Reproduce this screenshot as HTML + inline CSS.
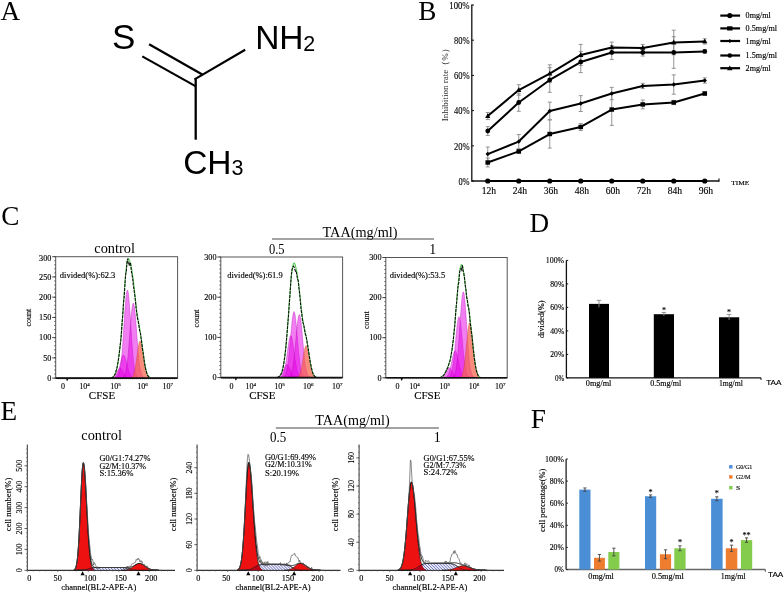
<!DOCTYPE html>
<html><head><meta charset="utf-8"><style>
html,body{margin:0;padding:0;background:#fff;overflow:hidden;width:784px;height:598px;}
svg{display:block;will-change:transform;} text{fill:#000;stroke:#000;stroke-width:0.14px;} text.big{stroke:none;} text.lt{stroke:none;fill:#2a2a2a}
</style></head><body>
<svg width="784" height="598" viewBox="0 0 784 598">
<rect width="784" height="598" fill="#fff"/>
<text class="big" x="0.60" y="20.00" font-size="27.2" text-anchor="start" font-family="Liberation Serif, serif" >A</text>
<text class="big" x="112.00" y="48.80" font-size="35" text-anchor="start" font-family="Liberation Sans, sans-serif" >S</text>
<text class="big" x="255.20" y="49.00" font-size="33.5" text-anchor="start" font-family="Liberation Sans, sans-serif" >N</text>
<text class="big" x="279.30" y="49.00" font-size="33.5" text-anchor="start" font-family="Liberation Sans, sans-serif" >H</text>
<text class="big" x="303.20" y="50.80" font-size="21.5" text-anchor="start" font-family="Liberation Sans, sans-serif" >2</text>
<text class="big" x="183.30" y="173.50" font-size="33.5" text-anchor="start" font-family="Liberation Sans, sans-serif" >C</text>
<text class="big" x="207.30" y="173.50" font-size="33.5" text-anchor="start" font-family="Liberation Sans, sans-serif" >H</text>
<text class="big" x="231.60" y="175.20" font-size="21.5" text-anchor="start" font-family="Liberation Sans, sans-serif" >3</text>
<line x1="149.10" y1="44.20" x2="202.30" y2="74.50" stroke="#000" stroke-width="2.2" />
<line x1="142.30" y1="56.40" x2="195.90" y2="86.40" stroke="#000" stroke-width="2.2" />
<line x1="194.50" y1="79.40" x2="245.20" y2="49.80" stroke="#000" stroke-width="2.2" />
<line x1="195.70" y1="78.60" x2="195.70" y2="139.70" stroke="#000" stroke-width="2.3" />
<text class="big" x="418.30" y="19.80" font-size="27.2" text-anchor="start" font-family="Liberation Serif, serif" >B</text>
<line x1="471.80" y1="4.50" x2="471.80" y2="181.80" stroke="#111" stroke-width="1.3" />
<line x1="471.80" y1="181.00" x2="719.00" y2="181.00" stroke="#111" stroke-width="1.5" />
<line x1="719.00" y1="181.70" x2="719.00" y2="178.50" stroke="#000" stroke-width="1.1" />
<line x1="471.80" y1="181.00" x2="474.00" y2="181.00" stroke="#111" stroke-width="1" />
<text x="469.60" y="184.70" font-size="11.2" text-anchor="end" font-family="Liberation Serif, serif" textLength="11.2" lengthAdjust="spacingAndGlyphs" >0%</text>
<line x1="471.80" y1="145.80" x2="474.00" y2="145.80" stroke="#111" stroke-width="1" />
<text x="469.60" y="149.50" font-size="11.2" text-anchor="end" font-family="Liberation Serif, serif" textLength="15.7" lengthAdjust="spacingAndGlyphs" >20%</text>
<line x1="471.80" y1="110.60" x2="474.00" y2="110.60" stroke="#111" stroke-width="1" />
<text x="469.60" y="114.30" font-size="11.2" text-anchor="end" font-family="Liberation Serif, serif" textLength="15.7" lengthAdjust="spacingAndGlyphs" >40%</text>
<line x1="471.80" y1="75.40" x2="474.00" y2="75.40" stroke="#111" stroke-width="1" />
<text x="469.60" y="79.10" font-size="11.2" text-anchor="end" font-family="Liberation Serif, serif" textLength="15.7" lengthAdjust="spacingAndGlyphs" >60%</text>
<line x1="471.80" y1="40.20" x2="474.00" y2="40.20" stroke="#111" stroke-width="1" />
<text x="469.60" y="43.90" font-size="11.2" text-anchor="end" font-family="Liberation Serif, serif" textLength="15.7" lengthAdjust="spacingAndGlyphs" >80%</text>
<line x1="471.80" y1="5.00" x2="474.00" y2="5.00" stroke="#111" stroke-width="1" />
<text x="469.60" y="8.70" font-size="11.2" text-anchor="end" font-family="Liberation Serif, serif" textLength="20.3" lengthAdjust="spacingAndGlyphs" >100%</text>
<text x="488.95" y="194.30" font-size="10" text-anchor="middle" font-family="Liberation Serif, serif" textLength="14.4" lengthAdjust="spacingAndGlyphs" >12h</text>
<text x="519.95" y="194.30" font-size="10" text-anchor="middle" font-family="Liberation Serif, serif" textLength="14.4" lengthAdjust="spacingAndGlyphs" >24h</text>
<text x="550.95" y="194.30" font-size="10" text-anchor="middle" font-family="Liberation Serif, serif" textLength="14.4" lengthAdjust="spacingAndGlyphs" >36h</text>
<text x="581.95" y="194.30" font-size="10" text-anchor="middle" font-family="Liberation Serif, serif" textLength="14.4" lengthAdjust="spacingAndGlyphs" >48h</text>
<text x="612.95" y="194.30" font-size="10" text-anchor="middle" font-family="Liberation Serif, serif" textLength="14.4" lengthAdjust="spacingAndGlyphs" >60h</text>
<text x="643.95" y="194.30" font-size="10" text-anchor="middle" font-family="Liberation Serif, serif" textLength="14.4" lengthAdjust="spacingAndGlyphs" >72h</text>
<text x="674.95" y="194.30" font-size="10" text-anchor="middle" font-family="Liberation Serif, serif" textLength="14.4" lengthAdjust="spacingAndGlyphs" >84h</text>
<text x="705.95" y="194.30" font-size="10" text-anchor="middle" font-family="Liberation Serif, serif" textLength="14.4" lengthAdjust="spacingAndGlyphs" >96h</text>
<text x="731.30" y="184.80" font-size="6.7" text-anchor="start" font-family="Liberation Serif, serif" textLength="18" lengthAdjust="spacingAndGlyphs" >TIME</text>
<text transform="translate(448.20,82.70) rotate(-90)" x="0" y="0" font-size="9.0" text-anchor="middle" font-family="Liberation Serif, serif" textLength="77" lengthAdjust="spacingAndGlyphs" class="lt">Inhibition rate（%）</text>
<line x1="487.75" y1="112.54" x2="487.75" y2="119.58" stroke="#8a8a8a" stroke-width="0.9" />
<line x1="485.75" y1="112.54" x2="489.75" y2="112.54" stroke="#8a8a8a" stroke-width="0.9" />
<line x1="485.75" y1="119.58" x2="489.75" y2="119.58" stroke="#8a8a8a" stroke-width="0.9" />
<line x1="518.75" y1="84.73" x2="518.75" y2="95.29" stroke="#8a8a8a" stroke-width="0.9" />
<line x1="516.75" y1="84.73" x2="520.75" y2="84.73" stroke="#8a8a8a" stroke-width="0.9" />
<line x1="516.75" y1="95.29" x2="520.75" y2="95.29" stroke="#8a8a8a" stroke-width="0.9" />
<line x1="549.75" y1="64.84" x2="549.75" y2="82.44" stroke="#8a8a8a" stroke-width="0.9" />
<line x1="547.75" y1="64.84" x2="551.75" y2="64.84" stroke="#8a8a8a" stroke-width="0.9" />
<line x1="547.75" y1="82.44" x2="551.75" y2="82.44" stroke="#8a8a8a" stroke-width="0.9" />
<line x1="580.75" y1="44.42" x2="580.75" y2="65.54" stroke="#8a8a8a" stroke-width="0.9" />
<line x1="578.75" y1="44.42" x2="582.75" y2="44.42" stroke="#8a8a8a" stroke-width="0.9" />
<line x1="578.75" y1="65.54" x2="582.75" y2="65.54" stroke="#8a8a8a" stroke-width="0.9" />
<line x1="611.75" y1="42.14" x2="611.75" y2="52.70" stroke="#8a8a8a" stroke-width="0.9" />
<line x1="609.75" y1="42.14" x2="613.75" y2="42.14" stroke="#8a8a8a" stroke-width="0.9" />
<line x1="609.75" y1="52.70" x2="613.75" y2="52.70" stroke="#8a8a8a" stroke-width="0.9" />
<line x1="642.75" y1="44.42" x2="642.75" y2="51.46" stroke="#8a8a8a" stroke-width="0.9" />
<line x1="640.75" y1="44.42" x2="644.75" y2="44.42" stroke="#8a8a8a" stroke-width="0.9" />
<line x1="640.75" y1="51.46" x2="644.75" y2="51.46" stroke="#8a8a8a" stroke-width="0.9" />
<line x1="673.75" y1="30.17" x2="673.75" y2="54.81" stroke="#8a8a8a" stroke-width="0.9" />
<line x1="671.75" y1="30.17" x2="675.75" y2="30.17" stroke="#8a8a8a" stroke-width="0.9" />
<line x1="671.75" y1="54.81" x2="675.75" y2="54.81" stroke="#8a8a8a" stroke-width="0.9" />
<line x1="704.75" y1="38.79" x2="704.75" y2="44.07" stroke="#8a8a8a" stroke-width="0.9" />
<line x1="702.75" y1="38.79" x2="706.75" y2="38.79" stroke="#8a8a8a" stroke-width="0.9" />
<line x1="702.75" y1="44.07" x2="706.75" y2="44.07" stroke="#8a8a8a" stroke-width="0.9" />
<line x1="487.75" y1="126.62" x2="487.75" y2="135.42" stroke="#8a8a8a" stroke-width="0.9" />
<line x1="485.75" y1="126.62" x2="489.75" y2="126.62" stroke="#8a8a8a" stroke-width="0.9" />
<line x1="485.75" y1="135.42" x2="489.75" y2="135.42" stroke="#8a8a8a" stroke-width="0.9" />
<line x1="518.75" y1="93.70" x2="518.75" y2="111.30" stroke="#8a8a8a" stroke-width="0.9" />
<line x1="516.75" y1="93.70" x2="520.75" y2="93.70" stroke="#8a8a8a" stroke-width="0.9" />
<line x1="516.75" y1="111.30" x2="520.75" y2="111.30" stroke="#8a8a8a" stroke-width="0.9" />
<line x1="549.75" y1="67.66" x2="549.75" y2="92.30" stroke="#8a8a8a" stroke-width="0.9" />
<line x1="547.75" y1="67.66" x2="551.75" y2="67.66" stroke="#8a8a8a" stroke-width="0.9" />
<line x1="547.75" y1="92.30" x2="551.75" y2="92.30" stroke="#8a8a8a" stroke-width="0.9" />
<line x1="580.75" y1="51.46" x2="580.75" y2="72.58" stroke="#8a8a8a" stroke-width="0.9" />
<line x1="578.75" y1="51.46" x2="582.75" y2="51.46" stroke="#8a8a8a" stroke-width="0.9" />
<line x1="578.75" y1="72.58" x2="582.75" y2="72.58" stroke="#8a8a8a" stroke-width="0.9" />
<line x1="611.75" y1="45.48" x2="611.75" y2="59.56" stroke="#8a8a8a" stroke-width="0.9" />
<line x1="609.75" y1="45.48" x2="613.75" y2="45.48" stroke="#8a8a8a" stroke-width="0.9" />
<line x1="609.75" y1="59.56" x2="613.75" y2="59.56" stroke="#8a8a8a" stroke-width="0.9" />
<line x1="642.75" y1="49.00" x2="642.75" y2="56.04" stroke="#8a8a8a" stroke-width="0.9" />
<line x1="640.75" y1="49.00" x2="644.75" y2="49.00" stroke="#8a8a8a" stroke-width="0.9" />
<line x1="640.75" y1="56.04" x2="644.75" y2="56.04" stroke="#8a8a8a" stroke-width="0.9" />
<line x1="673.75" y1="36.68" x2="673.75" y2="68.36" stroke="#8a8a8a" stroke-width="0.9" />
<line x1="671.75" y1="36.68" x2="675.75" y2="36.68" stroke="#8a8a8a" stroke-width="0.9" />
<line x1="671.75" y1="68.36" x2="675.75" y2="68.36" stroke="#8a8a8a" stroke-width="0.9" />
<line x1="704.75" y1="49.70" x2="704.75" y2="53.22" stroke="#8a8a8a" stroke-width="0.9" />
<line x1="702.75" y1="49.70" x2="706.75" y2="49.70" stroke="#8a8a8a" stroke-width="0.9" />
<line x1="702.75" y1="53.22" x2="706.75" y2="53.22" stroke="#8a8a8a" stroke-width="0.9" />
<line x1="487.75" y1="147.03" x2="487.75" y2="161.11" stroke="#8a8a8a" stroke-width="0.9" />
<line x1="485.75" y1="147.03" x2="489.75" y2="147.03" stroke="#8a8a8a" stroke-width="0.9" />
<line x1="485.75" y1="161.11" x2="489.75" y2="161.11" stroke="#8a8a8a" stroke-width="0.9" />
<line x1="518.75" y1="134.54" x2="518.75" y2="148.62" stroke="#8a8a8a" stroke-width="0.9" />
<line x1="516.75" y1="134.54" x2="520.75" y2="134.54" stroke="#8a8a8a" stroke-width="0.9" />
<line x1="516.75" y1="148.62" x2="520.75" y2="148.62" stroke="#8a8a8a" stroke-width="0.9" />
<line x1="549.75" y1="102.15" x2="549.75" y2="119.75" stroke="#8a8a8a" stroke-width="0.9" />
<line x1="547.75" y1="102.15" x2="551.75" y2="102.15" stroke="#8a8a8a" stroke-width="0.9" />
<line x1="547.75" y1="119.75" x2="551.75" y2="119.75" stroke="#8a8a8a" stroke-width="0.9" />
<line x1="580.75" y1="95.64" x2="580.75" y2="111.48" stroke="#8a8a8a" stroke-width="0.9" />
<line x1="578.75" y1="95.64" x2="582.75" y2="95.64" stroke="#8a8a8a" stroke-width="0.9" />
<line x1="578.75" y1="111.48" x2="582.75" y2="111.48" stroke="#8a8a8a" stroke-width="0.9" />
<line x1="611.75" y1="87.37" x2="611.75" y2="99.69" stroke="#8a8a8a" stroke-width="0.9" />
<line x1="609.75" y1="87.37" x2="613.75" y2="87.37" stroke="#8a8a8a" stroke-width="0.9" />
<line x1="609.75" y1="99.69" x2="613.75" y2="99.69" stroke="#8a8a8a" stroke-width="0.9" />
<line x1="642.75" y1="83.32" x2="642.75" y2="88.60" stroke="#8a8a8a" stroke-width="0.9" />
<line x1="640.75" y1="83.32" x2="644.75" y2="83.32" stroke="#8a8a8a" stroke-width="0.9" />
<line x1="640.75" y1="88.60" x2="644.75" y2="88.60" stroke="#8a8a8a" stroke-width="0.9" />
<line x1="673.75" y1="74.87" x2="673.75" y2="94.23" stroke="#8a8a8a" stroke-width="0.9" />
<line x1="671.75" y1="74.87" x2="675.75" y2="74.87" stroke="#8a8a8a" stroke-width="0.9" />
<line x1="671.75" y1="94.23" x2="675.75" y2="94.23" stroke="#8a8a8a" stroke-width="0.9" />
<line x1="704.75" y1="77.86" x2="704.75" y2="83.14" stroke="#8a8a8a" stroke-width="0.9" />
<line x1="702.75" y1="77.86" x2="706.75" y2="77.86" stroke="#8a8a8a" stroke-width="0.9" />
<line x1="702.75" y1="83.14" x2="706.75" y2="83.14" stroke="#8a8a8a" stroke-width="0.9" />
<line x1="487.75" y1="158.12" x2="487.75" y2="166.92" stroke="#8a8a8a" stroke-width="0.9" />
<line x1="485.75" y1="158.12" x2="489.75" y2="158.12" stroke="#8a8a8a" stroke-width="0.9" />
<line x1="485.75" y1="166.92" x2="489.75" y2="166.92" stroke="#8a8a8a" stroke-width="0.9" />
<line x1="518.75" y1="149.67" x2="518.75" y2="153.19" stroke="#8a8a8a" stroke-width="0.9" />
<line x1="516.75" y1="149.67" x2="520.75" y2="149.67" stroke="#8a8a8a" stroke-width="0.9" />
<line x1="516.75" y1="153.19" x2="520.75" y2="153.19" stroke="#8a8a8a" stroke-width="0.9" />
<line x1="549.75" y1="119.93" x2="549.75" y2="148.09" stroke="#8a8a8a" stroke-width="0.9" />
<line x1="547.75" y1="119.93" x2="551.75" y2="119.93" stroke="#8a8a8a" stroke-width="0.9" />
<line x1="547.75" y1="148.09" x2="551.75" y2="148.09" stroke="#8a8a8a" stroke-width="0.9" />
<line x1="580.75" y1="123.45" x2="580.75" y2="130.49" stroke="#8a8a8a" stroke-width="0.9" />
<line x1="578.75" y1="123.45" x2="582.75" y2="123.45" stroke="#8a8a8a" stroke-width="0.9" />
<line x1="578.75" y1="130.49" x2="582.75" y2="130.49" stroke="#8a8a8a" stroke-width="0.9" />
<line x1="611.75" y1="93.70" x2="611.75" y2="125.38" stroke="#8a8a8a" stroke-width="0.9" />
<line x1="609.75" y1="93.70" x2="613.75" y2="93.70" stroke="#8a8a8a" stroke-width="0.9" />
<line x1="609.75" y1="125.38" x2="613.75" y2="125.38" stroke="#8a8a8a" stroke-width="0.9" />
<line x1="642.75" y1="100.04" x2="642.75" y2="108.84" stroke="#8a8a8a" stroke-width="0.9" />
<line x1="640.75" y1="100.04" x2="644.75" y2="100.04" stroke="#8a8a8a" stroke-width="0.9" />
<line x1="640.75" y1="108.84" x2="644.75" y2="108.84" stroke="#8a8a8a" stroke-width="0.9" />
<line x1="673.75" y1="100.39" x2="673.75" y2="104.62" stroke="#8a8a8a" stroke-width="0.9" />
<line x1="671.75" y1="100.39" x2="675.75" y2="100.39" stroke="#8a8a8a" stroke-width="0.9" />
<line x1="671.75" y1="104.62" x2="675.75" y2="104.62" stroke="#8a8a8a" stroke-width="0.9" />
<line x1="704.75" y1="91.77" x2="704.75" y2="95.29" stroke="#8a8a8a" stroke-width="0.9" />
<line x1="702.75" y1="91.77" x2="706.75" y2="91.77" stroke="#8a8a8a" stroke-width="0.9" />
<line x1="702.75" y1="95.29" x2="706.75" y2="95.29" stroke="#8a8a8a" stroke-width="0.9" />
<polyline points="487.75,116.06 518.75,90.01 549.75,73.64 580.75,54.98 611.75,47.42 642.75,47.94 673.75,42.49 704.75,41.43" fill="none" stroke="#000" stroke-width="2.0" stroke-linejoin="round"/>
<polygon points="487.75,113.16 490.35,117.96 485.15,117.96" fill="#000" stroke="none" stroke-width="0" />
<polygon points="518.75,87.11 521.35,91.91 516.15,91.91" fill="#000" stroke="none" stroke-width="0" />
<polygon points="549.75,70.74 552.35,75.54 547.15,75.54" fill="#000" stroke="none" stroke-width="0" />
<polygon points="580.75,52.08 583.35,56.88 578.15,56.88" fill="#000" stroke="none" stroke-width="0" />
<polygon points="611.75,44.52 614.35,49.32 609.15,49.32" fill="#000" stroke="none" stroke-width="0" />
<polygon points="642.75,45.04 645.35,49.84 640.15,49.84" fill="#000" stroke="none" stroke-width="0" />
<polygon points="673.75,39.59 676.35,44.39 671.15,44.39" fill="#000" stroke="none" stroke-width="0" />
<polygon points="704.75,38.53 707.35,43.33 702.15,43.33" fill="#000" stroke="none" stroke-width="0" />
<polyline points="487.75,131.02 518.75,102.50 549.75,79.98 580.75,62.02 611.75,52.52 642.75,52.52 673.75,52.52 704.75,51.46" fill="none" stroke="#000" stroke-width="2.0" stroke-linejoin="round"/>
<circle cx="487.75" cy="131.02" r="2.4" fill="#000"/>
<circle cx="518.75" cy="102.50" r="2.4" fill="#000"/>
<circle cx="549.75" cy="79.98" r="2.4" fill="#000"/>
<circle cx="580.75" cy="62.02" r="2.4" fill="#000"/>
<circle cx="611.75" cy="52.52" r="2.4" fill="#000"/>
<circle cx="642.75" cy="52.52" r="2.4" fill="#000"/>
<circle cx="673.75" cy="52.52" r="2.4" fill="#000"/>
<circle cx="704.75" cy="51.46" r="2.4" fill="#000"/>
<polyline points="487.75,154.07 518.75,141.58 549.75,110.95 580.75,103.56 611.75,93.53 642.75,85.96 673.75,84.55 704.75,80.50" fill="none" stroke="#000" stroke-width="2.0" stroke-linejoin="round"/>
<polygon points="487.75,151.87 489.95,154.07 487.75,156.27 485.55,154.07" fill="#000" stroke="none" stroke-width="0" />
<polygon points="518.75,139.38 520.95,141.58 518.75,143.78 516.55,141.58" fill="#000" stroke="none" stroke-width="0" />
<polygon points="549.75,108.75 551.95,110.95 549.75,113.15 547.55,110.95" fill="#000" stroke="none" stroke-width="0" />
<polygon points="580.75,101.36 582.95,103.56 580.75,105.76 578.55,103.56" fill="#000" stroke="none" stroke-width="0" />
<polygon points="611.75,91.33 613.95,93.53 611.75,95.73 609.55,93.53" fill="#000" stroke="none" stroke-width="0" />
<polygon points="642.75,83.76 644.95,85.96 642.75,88.16 640.55,85.96" fill="#000" stroke="none" stroke-width="0" />
<polygon points="673.75,82.35 675.95,84.55 673.75,86.75 671.55,84.55" fill="#000" stroke="none" stroke-width="0" />
<polygon points="704.75,78.30 706.95,80.50 704.75,82.70 702.55,80.50" fill="#000" stroke="none" stroke-width="0" />
<polyline points="487.75,162.52 518.75,151.43 549.75,134.01 580.75,126.97 611.75,109.54 642.75,104.44 673.75,102.50 704.75,93.53" fill="none" stroke="#000" stroke-width="2.0" stroke-linejoin="round"/>
<rect x="485.45" y="160.32" width="4.60" height="4.40" fill="#000" />
<rect x="516.45" y="149.23" width="4.60" height="4.40" fill="#000" />
<rect x="547.45" y="131.81" width="4.60" height="4.40" fill="#000" />
<rect x="578.45" y="124.77" width="4.60" height="4.40" fill="#000" />
<rect x="609.45" y="107.34" width="4.60" height="4.40" fill="#000" />
<rect x="640.45" y="102.24" width="4.60" height="4.40" fill="#000" />
<rect x="671.45" y="100.30" width="4.60" height="4.40" fill="#000" />
<rect x="702.45" y="91.33" width="4.60" height="4.40" fill="#000" />
<polyline points="487.75,181.00 518.75,181.00 549.75,181.00 580.75,181.00 611.75,181.00 642.75,181.00 673.75,181.00 704.75,181.00" fill="none" stroke="#000" stroke-width="2.0" stroke-linejoin="round"/>
<circle cx="487.75" cy="181.00" r="2.6" fill="#000"/>
<circle cx="518.75" cy="181.00" r="2.6" fill="#000"/>
<circle cx="549.75" cy="181.00" r="2.6" fill="#000"/>
<circle cx="580.75" cy="181.00" r="2.6" fill="#000"/>
<circle cx="611.75" cy="181.00" r="2.6" fill="#000"/>
<circle cx="642.75" cy="181.00" r="2.6" fill="#000"/>
<circle cx="673.75" cy="181.00" r="2.6" fill="#000"/>
<circle cx="704.75" cy="181.00" r="2.6" fill="#000"/>
<line x1="720.30" y1="15.60" x2="740.10" y2="15.60" stroke="#000" stroke-width="2.2" />
<circle cx="729.8" cy="15.6" r="2.6" fill="#000"/>
<text x="745.60" y="18.20" font-size="8.2" text-anchor="start" font-family="Liberation Serif, serif" textLength="25.2" lengthAdjust="spacingAndGlyphs" >0mg/ml</text>
<line x1="720.30" y1="28.40" x2="740.10" y2="28.40" stroke="#000" stroke-width="2.2" />
<rect x="727.10" y="26.30" width="5.40" height="4.20" fill="#000" />
<text x="745.60" y="31.00" font-size="8.2" text-anchor="start" font-family="Liberation Serif, serif" textLength="31.5" lengthAdjust="spacingAndGlyphs" >0.5mg/ml</text>
<line x1="720.30" y1="41.00" x2="740.10" y2="41.00" stroke="#000" stroke-width="2.2" />
<polygon points="729.80,39.00 731.80,41.00 729.80,43.00 727.80,41.00" fill="#000" stroke="none" stroke-width="0" />
<text x="745.60" y="43.60" font-size="8.2" text-anchor="start" font-family="Liberation Serif, serif" textLength="25.2" lengthAdjust="spacingAndGlyphs" >1mg/ml</text>
<line x1="720.30" y1="55.50" x2="740.10" y2="55.50" stroke="#000" stroke-width="2.2" />
<circle cx="729.8" cy="55.5" r="2.3" fill="#000"/>
<text x="745.60" y="58.10" font-size="8.2" text-anchor="start" font-family="Liberation Serif, serif" textLength="31.5" lengthAdjust="spacingAndGlyphs" >1.5mg/ml</text>
<line x1="720.30" y1="68.20" x2="740.10" y2="68.20" stroke="#000" stroke-width="2.2" />
<polygon points="729.80,65.40 732.60,70.20 727.00,70.20" fill="#000" stroke="none" stroke-width="0" />
<text x="745.60" y="70.80" font-size="8.2" text-anchor="start" font-family="Liberation Serif, serif" textLength="25.2" lengthAdjust="spacingAndGlyphs" >2mg/ml</text>
<text class="big" x="1.20" y="224.60" font-size="27.2" text-anchor="start" font-family="Liberation Serif, serif" >C</text>
<text class="big" x="360.00" y="237.20" font-size="14.2" text-anchor="middle" font-family="Liberation Serif, serif" textLength="75" lengthAdjust="spacingAndGlyphs" >TAA(mg/ml)</text>
<line x1="272.00" y1="239.00" x2="434.00" y2="239.00" stroke="#484848" stroke-width="1.1" />
<text class="big" x="114.60" y="253.30" font-size="14.3" text-anchor="middle" font-family="Liberation Serif, serif" textLength="40.6" lengthAdjust="spacingAndGlyphs" >control</text>
<text class="big" x="276.70" y="253.80" font-size="13.8" text-anchor="middle" font-family="Liberation Serif, serif" textLength="15.6" lengthAdjust="spacingAndGlyphs" >0.5</text>
<text class="big" x="432.80" y="253.80" font-size="13.8" text-anchor="middle" font-family="Liberation Serif, serif" >1</text>
<rect x="55.70" y="256.70" width="121.90" height="121.40" fill="none" stroke="#555" stroke-width="1"/>
<line x1="54.10" y1="378.10" x2="55.70" y2="378.10" stroke="#444" stroke-width="0.7" />
<line x1="54.10" y1="374.05" x2="55.70" y2="374.05" stroke="#444" stroke-width="0.7" />
<line x1="54.10" y1="370.01" x2="55.70" y2="370.01" stroke="#444" stroke-width="0.7" />
<line x1="54.10" y1="365.96" x2="55.70" y2="365.96" stroke="#444" stroke-width="0.7" />
<line x1="54.10" y1="361.91" x2="55.70" y2="361.91" stroke="#444" stroke-width="0.7" />
<line x1="54.10" y1="357.87" x2="55.70" y2="357.87" stroke="#444" stroke-width="0.7" />
<line x1="54.10" y1="353.82" x2="55.70" y2="353.82" stroke="#444" stroke-width="0.7" />
<line x1="54.10" y1="349.77" x2="55.70" y2="349.77" stroke="#444" stroke-width="0.7" />
<line x1="54.10" y1="345.73" x2="55.70" y2="345.73" stroke="#444" stroke-width="0.7" />
<line x1="54.10" y1="341.68" x2="55.70" y2="341.68" stroke="#444" stroke-width="0.7" />
<line x1="54.10" y1="337.63" x2="55.70" y2="337.63" stroke="#444" stroke-width="0.7" />
<line x1="54.10" y1="333.59" x2="55.70" y2="333.59" stroke="#444" stroke-width="0.7" />
<line x1="54.10" y1="329.54" x2="55.70" y2="329.54" stroke="#444" stroke-width="0.7" />
<line x1="54.10" y1="325.49" x2="55.70" y2="325.49" stroke="#444" stroke-width="0.7" />
<line x1="54.10" y1="321.45" x2="55.70" y2="321.45" stroke="#444" stroke-width="0.7" />
<line x1="54.10" y1="317.40" x2="55.70" y2="317.40" stroke="#444" stroke-width="0.7" />
<line x1="54.10" y1="313.35" x2="55.70" y2="313.35" stroke="#444" stroke-width="0.7" />
<line x1="54.10" y1="309.31" x2="55.70" y2="309.31" stroke="#444" stroke-width="0.7" />
<line x1="54.10" y1="305.26" x2="55.70" y2="305.26" stroke="#444" stroke-width="0.7" />
<line x1="54.10" y1="301.21" x2="55.70" y2="301.21" stroke="#444" stroke-width="0.7" />
<line x1="54.10" y1="297.17" x2="55.70" y2="297.17" stroke="#444" stroke-width="0.7" />
<line x1="54.10" y1="293.12" x2="55.70" y2="293.12" stroke="#444" stroke-width="0.7" />
<line x1="54.10" y1="289.07" x2="55.70" y2="289.07" stroke="#444" stroke-width="0.7" />
<line x1="54.10" y1="285.03" x2="55.70" y2="285.03" stroke="#444" stroke-width="0.7" />
<line x1="54.10" y1="280.98" x2="55.70" y2="280.98" stroke="#444" stroke-width="0.7" />
<line x1="54.10" y1="276.93" x2="55.70" y2="276.93" stroke="#444" stroke-width="0.7" />
<line x1="54.10" y1="272.89" x2="55.70" y2="272.89" stroke="#444" stroke-width="0.7" />
<line x1="54.10" y1="268.84" x2="55.70" y2="268.84" stroke="#444" stroke-width="0.7" />
<line x1="54.10" y1="264.79" x2="55.70" y2="264.79" stroke="#444" stroke-width="0.7" />
<line x1="54.10" y1="260.75" x2="55.70" y2="260.75" stroke="#444" stroke-width="0.7" />
<line x1="54.10" y1="256.70" x2="55.70" y2="256.70" stroke="#444" stroke-width="0.7" />
<line x1="52.20" y1="378.10" x2="55.70" y2="378.10" stroke="#333" stroke-width="0.9" />
<text x="51.40" y="380.80" font-size="8" text-anchor="end" font-family="Liberation Serif, serif" textLength="4.1" lengthAdjust="spacingAndGlyphs" >0</text>
<line x1="52.20" y1="357.87" x2="55.70" y2="357.87" stroke="#333" stroke-width="0.9" />
<text x="51.40" y="360.57" font-size="8" text-anchor="end" font-family="Liberation Serif, serif" textLength="8.2" lengthAdjust="spacingAndGlyphs" >50</text>
<line x1="52.20" y1="337.63" x2="55.70" y2="337.63" stroke="#333" stroke-width="0.9" />
<text x="51.40" y="340.33" font-size="8" text-anchor="end" font-family="Liberation Serif, serif" textLength="12.299999999999999" lengthAdjust="spacingAndGlyphs" >100</text>
<line x1="52.20" y1="317.40" x2="55.70" y2="317.40" stroke="#333" stroke-width="0.9" />
<text x="51.40" y="320.10" font-size="8" text-anchor="end" font-family="Liberation Serif, serif" textLength="12.299999999999999" lengthAdjust="spacingAndGlyphs" >150</text>
<line x1="52.20" y1="297.17" x2="55.70" y2="297.17" stroke="#333" stroke-width="0.9" />
<text x="51.40" y="299.87" font-size="8" text-anchor="end" font-family="Liberation Serif, serif" textLength="12.299999999999999" lengthAdjust="spacingAndGlyphs" >200</text>
<line x1="52.20" y1="276.93" x2="55.70" y2="276.93" stroke="#333" stroke-width="0.9" />
<text x="51.40" y="279.63" font-size="8" text-anchor="end" font-family="Liberation Serif, serif" textLength="12.299999999999999" lengthAdjust="spacingAndGlyphs" >250</text>
<line x1="52.20" y1="256.70" x2="55.70" y2="256.70" stroke="#333" stroke-width="0.9" />
<text x="51.40" y="261.30" font-size="8" text-anchor="end" font-family="Liberation Serif, serif" textLength="12.299999999999999" lengthAdjust="spacingAndGlyphs" >300</text>
<text transform="translate(31.10,317.60) rotate(-90)" x="0" y="0" font-size="8.0" text-anchor="middle" font-family="Liberation Serif, serif" textLength="17.8" lengthAdjust="spacingAndGlyphs" >count</text>
<line x1="58.70" y1="378.10" x2="58.70" y2="379.40" stroke="#555" stroke-width="0.6" />
<line x1="60.70" y1="378.10" x2="60.70" y2="379.40" stroke="#555" stroke-width="0.6" />
<line x1="62.70" y1="378.10" x2="62.70" y2="379.40" stroke="#555" stroke-width="0.6" />
<line x1="64.70" y1="378.10" x2="64.70" y2="379.40" stroke="#555" stroke-width="0.6" />
<line x1="66.70" y1="378.10" x2="66.70" y2="379.40" stroke="#555" stroke-width="0.6" />
<line x1="68.70" y1="378.10" x2="68.70" y2="379.40" stroke="#555" stroke-width="0.6" />
<line x1="70.70" y1="378.10" x2="70.70" y2="379.40" stroke="#555" stroke-width="0.6" />
<line x1="72.70" y1="378.10" x2="72.70" y2="379.40" stroke="#555" stroke-width="0.6" />
<line x1="74.70" y1="378.10" x2="74.70" y2="379.40" stroke="#555" stroke-width="0.6" />
<line x1="76.70" y1="378.10" x2="76.70" y2="379.40" stroke="#555" stroke-width="0.6" />
<line x1="78.70" y1="378.10" x2="78.70" y2="379.40" stroke="#555" stroke-width="0.6" />
<line x1="80.70" y1="378.10" x2="80.70" y2="379.40" stroke="#555" stroke-width="0.6" />
<line x1="82.70" y1="378.10" x2="82.70" y2="379.40" stroke="#555" stroke-width="0.6" />
<line x1="84.70" y1="378.10" x2="84.70" y2="379.40" stroke="#555" stroke-width="0.6" />
<line x1="86.70" y1="378.10" x2="86.70" y2="379.40" stroke="#555" stroke-width="0.6" />
<line x1="88.70" y1="378.10" x2="88.70" y2="379.40" stroke="#555" stroke-width="0.6" />
<line x1="90.70" y1="378.10" x2="90.70" y2="379.40" stroke="#555" stroke-width="0.6" />
<line x1="92.70" y1="378.10" x2="92.70" y2="379.40" stroke="#555" stroke-width="0.6" />
<line x1="94.70" y1="378.10" x2="94.70" y2="379.40" stroke="#555" stroke-width="0.6" />
<line x1="96.70" y1="378.10" x2="96.70" y2="379.40" stroke="#555" stroke-width="0.6" />
<line x1="98.70" y1="378.10" x2="98.70" y2="379.40" stroke="#555" stroke-width="0.6" />
<line x1="100.70" y1="378.10" x2="100.70" y2="379.40" stroke="#555" stroke-width="0.6" />
<line x1="102.70" y1="378.10" x2="102.70" y2="379.40" stroke="#555" stroke-width="0.6" />
<line x1="104.70" y1="378.10" x2="104.70" y2="379.40" stroke="#555" stroke-width="0.6" />
<line x1="106.70" y1="378.10" x2="106.70" y2="379.40" stroke="#555" stroke-width="0.6" />
<line x1="108.70" y1="378.10" x2="108.70" y2="379.40" stroke="#555" stroke-width="0.6" />
<line x1="110.70" y1="378.10" x2="110.70" y2="379.40" stroke="#555" stroke-width="0.6" />
<line x1="112.70" y1="378.10" x2="112.70" y2="379.40" stroke="#555" stroke-width="0.6" />
<line x1="114.70" y1="378.10" x2="114.70" y2="379.40" stroke="#555" stroke-width="0.6" />
<line x1="116.70" y1="378.10" x2="116.70" y2="379.40" stroke="#555" stroke-width="0.6" />
<line x1="118.70" y1="378.10" x2="118.70" y2="379.40" stroke="#555" stroke-width="0.6" />
<line x1="120.70" y1="378.10" x2="120.70" y2="379.40" stroke="#555" stroke-width="0.6" />
<line x1="122.70" y1="378.10" x2="122.70" y2="379.40" stroke="#555" stroke-width="0.6" />
<line x1="124.70" y1="378.10" x2="124.70" y2="379.40" stroke="#555" stroke-width="0.6" />
<line x1="126.70" y1="378.10" x2="126.70" y2="379.40" stroke="#555" stroke-width="0.6" />
<line x1="128.70" y1="378.10" x2="128.70" y2="379.40" stroke="#555" stroke-width="0.6" />
<line x1="130.70" y1="378.10" x2="130.70" y2="379.40" stroke="#555" stroke-width="0.6" />
<line x1="132.70" y1="378.10" x2="132.70" y2="379.40" stroke="#555" stroke-width="0.6" />
<line x1="134.70" y1="378.10" x2="134.70" y2="379.40" stroke="#555" stroke-width="0.6" />
<line x1="136.70" y1="378.10" x2="136.70" y2="379.40" stroke="#555" stroke-width="0.6" />
<line x1="138.70" y1="378.10" x2="138.70" y2="379.40" stroke="#555" stroke-width="0.6" />
<line x1="140.70" y1="378.10" x2="140.70" y2="379.40" stroke="#555" stroke-width="0.6" />
<line x1="142.70" y1="378.10" x2="142.70" y2="379.40" stroke="#555" stroke-width="0.6" />
<line x1="144.70" y1="378.10" x2="144.70" y2="379.40" stroke="#555" stroke-width="0.6" />
<line x1="146.70" y1="378.10" x2="146.70" y2="379.40" stroke="#555" stroke-width="0.6" />
<line x1="148.70" y1="378.10" x2="148.70" y2="379.40" stroke="#555" stroke-width="0.6" />
<line x1="150.70" y1="378.10" x2="150.70" y2="379.40" stroke="#555" stroke-width="0.6" />
<line x1="152.70" y1="378.10" x2="152.70" y2="379.40" stroke="#555" stroke-width="0.6" />
<line x1="154.70" y1="378.10" x2="154.70" y2="379.40" stroke="#555" stroke-width="0.6" />
<line x1="156.70" y1="378.10" x2="156.70" y2="379.40" stroke="#555" stroke-width="0.6" />
<line x1="158.70" y1="378.10" x2="158.70" y2="379.40" stroke="#555" stroke-width="0.6" />
<line x1="160.70" y1="378.10" x2="160.70" y2="379.40" stroke="#555" stroke-width="0.6" />
<line x1="162.70" y1="378.10" x2="162.70" y2="379.40" stroke="#555" stroke-width="0.6" />
<line x1="164.70" y1="378.10" x2="164.70" y2="379.40" stroke="#555" stroke-width="0.6" />
<line x1="166.70" y1="378.10" x2="166.70" y2="379.40" stroke="#555" stroke-width="0.6" />
<line x1="168.70" y1="378.10" x2="168.70" y2="379.40" stroke="#555" stroke-width="0.6" />
<line x1="170.70" y1="378.10" x2="170.70" y2="379.40" stroke="#555" stroke-width="0.6" />
<line x1="172.70" y1="378.10" x2="172.70" y2="379.40" stroke="#555" stroke-width="0.6" />
<line x1="174.70" y1="378.10" x2="174.70" y2="379.40" stroke="#555" stroke-width="0.6" />
<polygon points="109.76,378.04 110.01,378.02 110.26,378.00 110.51,377.98 110.76,377.95 111.01,377.91 111.26,377.86 111.51,377.80 111.76,377.74 112.01,377.66 112.26,377.56 112.51,377.45 112.76,377.33 113.01,377.18 113.26,377.01 113.51,376.82 113.76,376.61 114.01,376.37 114.26,376.10 114.51,375.80 114.76,375.48 115.01,375.14 115.26,374.76 115.51,374.36 115.76,373.94 116.01,373.50 116.26,373.05 116.51,372.58 116.76,372.11 117.01,371.64 117.26,371.17 117.51,370.71 117.76,370.27 118.01,369.86 118.26,369.47 118.51,369.13 118.76,368.82 119.01,368.57 119.26,368.36 119.51,368.22 119.76,368.13 120.01,368.10 120.26,368.13 120.51,368.23 120.76,368.38 121.01,368.59 121.26,368.85 121.51,369.15 121.76,369.50 122.01,369.89 122.26,370.31 122.51,370.75 122.76,371.21 123.01,371.67 123.26,372.15 123.51,372.62 123.76,373.09 124.01,373.54 124.26,373.98 124.51,374.40 124.76,374.79 125.01,375.16 125.26,375.51 125.51,375.83 125.76,376.12 126.01,376.39 126.26,376.62 126.51,376.84 126.76,377.03 127.01,377.19 127.26,377.34 127.51,377.46 127.76,377.57 128.01,377.66 128.26,377.74 128.51,377.81 128.76,377.86 129.01,377.91 129.26,377.95 129.51,377.98 129.76,378.00 130.01,378.02" fill="rgba(230,0,230,0.5)" stroke="#b000b0" stroke-width="0.35" />
<polygon points="112.72,377.96 112.97,377.93 113.22,377.88 113.47,377.83 113.72,377.76 113.97,377.68 114.22,377.59 114.47,377.47 114.72,377.34 114.97,377.18 115.22,377.00 115.47,376.78 115.72,376.53 115.97,376.25 116.22,375.92 116.47,375.55 116.72,375.13 116.97,374.66 117.22,374.15 117.47,373.57 117.72,372.94 117.97,372.26 118.22,371.52 118.47,370.73 118.72,369.89 118.97,369.00 119.22,368.07 119.47,367.10 119.72,366.11 119.97,365.09 120.22,364.07 120.47,363.04 120.72,362.03 120.97,361.05 121.22,360.10 121.47,359.20 121.72,358.36 121.97,357.60 122.22,356.92 122.47,356.34 122.72,355.86 122.97,355.49 123.22,355.24 123.47,355.12 123.72,355.11 123.97,355.24 124.22,355.48 124.47,355.84 124.72,356.31 124.97,356.89 125.22,357.57 125.47,358.33 125.72,359.16 125.97,360.06 126.22,361.01 126.47,361.99 126.72,363.00 126.97,364.03 127.22,365.05 127.47,366.07 127.72,367.06 127.97,368.03 128.22,368.96 128.47,369.85 128.72,370.70 128.97,371.49 129.22,372.23 129.47,372.92 129.72,373.55 129.97,374.12 130.22,374.64 130.47,375.11 130.72,375.53 130.97,375.91 131.22,376.23 131.47,376.52 131.72,376.77 131.97,376.99 132.22,377.18 132.47,377.33 132.72,377.47 132.97,377.58 133.22,377.68 133.47,377.76 133.72,377.83 133.97,377.88 134.22,377.92 134.47,377.96" fill="rgba(230,0,230,0.5)" stroke="#b000b0" stroke-width="0.35" />
<polygon points="116.52,377.57 116.77,377.44 117.02,377.27 117.27,377.06 117.52,376.81 117.77,376.51 118.02,376.14 118.27,375.71 118.52,375.19 118.77,374.59 119.02,373.88 119.27,373.05 119.52,372.10 119.77,371.01 120.02,369.76 120.27,368.34 120.52,366.74 120.77,364.95 121.02,362.97 121.27,360.78 121.52,358.37 121.77,355.76 122.02,352.94 122.27,349.91 122.52,346.68 122.77,343.28 123.02,339.72 123.27,336.02 123.52,332.21 123.77,328.33 124.02,324.41 124.27,320.50 124.52,316.63 124.77,312.85 125.02,309.22 125.27,305.78 125.52,302.57 125.77,299.65 126.02,297.06 126.27,294.83 126.52,293.00 126.77,291.60 127.02,290.65 127.27,290.16 127.52,290.15 127.77,290.62 128.02,291.55 128.27,292.93 128.52,294.75 128.77,296.96 129.02,299.54 129.27,302.45 129.52,305.65 129.77,309.08 130.02,312.71 130.27,316.47 130.52,320.34 130.77,324.25 131.02,328.17 131.27,332.06 131.52,335.87 131.77,339.57 132.02,343.14 132.27,346.55 132.52,349.78 132.77,352.82 133.02,355.65 133.27,358.27 133.52,360.68 133.77,362.89 134.02,364.88 134.27,366.67 134.52,368.28 134.77,369.70 135.02,370.96 135.27,372.06 135.52,373.02 135.77,373.85 136.02,374.56 136.27,375.17 136.52,375.69 136.77,376.13 137.02,376.49 137.27,376.80 137.52,377.05 137.77,377.26 138.02,377.43 138.27,377.57" fill="rgba(230,0,230,0.5)" stroke="#b000b0" stroke-width="0.35" />
<polygon points="122.42,377.65 122.67,377.53 122.92,377.39 123.17,377.21 123.42,377.00 123.67,376.74 123.92,376.43 124.17,376.06 124.42,375.62 124.67,375.11 124.92,374.50 125.17,373.80 125.42,372.99 125.67,372.05 125.92,370.99 126.17,369.78 126.42,368.42 126.67,366.90 126.92,365.20 127.17,363.34 127.42,361.29 127.67,359.06 127.92,356.65 128.17,354.07 128.42,351.33 128.67,348.43 128.92,345.39 129.17,342.24 129.42,338.99 129.67,335.68 129.92,332.34 130.17,329.01 130.42,325.71 130.67,322.49 130.92,319.40 131.17,316.46 131.42,313.73 131.67,311.24 131.92,309.03 132.17,307.13 132.42,305.57 132.67,304.38 132.92,303.57 133.17,303.15 133.42,303.15 133.67,303.54 133.92,304.34 134.17,305.52 134.42,307.06 134.67,308.95 134.92,311.15 135.17,313.63 135.42,316.35 135.67,319.28 135.92,322.37 136.17,325.58 136.42,328.87 136.67,332.21 136.92,335.55 137.17,338.86 137.42,342.11 137.67,345.26 137.92,348.31 138.17,351.21 138.42,353.97 138.67,356.55 138.92,358.97 139.17,361.20 139.42,363.26 139.67,365.13 139.92,366.83 140.17,368.36 140.42,369.73 140.67,370.94 140.92,372.01 141.17,372.95 141.42,373.77 141.67,374.48 141.92,375.08 142.17,375.60 142.42,376.05 142.67,376.42 142.92,376.73 143.17,376.99 143.42,377.21 143.67,377.38 143.92,377.53 144.17,377.65" fill="rgba(230,0,230,0.5)" stroke="#b000b0" stroke-width="0.35" />
<polygon points="130.40,377.88 130.65,377.81 130.90,377.73 131.15,377.62 131.40,377.49 131.65,377.33 131.90,377.13 132.15,376.89 132.40,376.61 132.65,376.26 132.90,375.85 133.15,375.37 133.40,374.81 133.65,374.16 133.90,373.42 134.15,372.57 134.40,371.62 134.65,370.56 134.90,369.38 135.15,368.08 135.40,366.68 135.65,365.17 135.90,363.56 136.15,361.86 136.40,360.09 136.65,358.27 136.90,356.41 137.15,354.54 137.40,352.68 137.65,350.88 137.90,349.14 138.15,347.51 138.40,346.01 138.65,344.66 138.90,343.51 139.15,342.56 139.40,341.83 139.65,341.35 139.90,341.12 140.15,341.14 140.40,341.36 140.65,341.77 140.90,342.37 141.15,343.16 141.40,344.11 141.65,345.21 141.90,346.45 142.15,347.80 142.40,349.26 142.65,350.79 142.90,352.38 143.15,354.01 143.40,355.66 143.65,357.31 143.90,358.94 144.15,360.53 144.40,362.08 144.65,363.58 144.90,365.00 145.15,366.35 145.40,367.62 145.65,368.80 145.90,369.89 146.15,370.89 146.40,371.81 146.65,372.64 146.90,373.38 147.15,374.05 147.40,374.64 147.65,375.16 147.90,375.61 148.15,376.01 148.40,376.35 148.65,376.65 148.90,376.90 149.15,377.11 149.40,377.29 149.65,377.44 149.90,377.57 150.15,377.67 150.40,377.76 150.65,377.83" fill="rgba(245,95,75,0.72)" stroke="#c04030" stroke-width="0.35" />
<polyline points="109.44,378.05 109.94,378.02 110.44,377.97 110.94,377.90 111.44,377.78 111.94,377.62 112.44,377.38 112.94,377.05 113.44,376.60 113.94,376.00 114.44,375.23 114.94,374.24 115.44,373.02 115.94,371.53 116.44,369.75 116.94,367.65 117.44,365.21 117.94,362.43 118.44,359.27 118.94,355.72 119.44,351.75 119.94,347.35 120.44,342.48 120.94,337.13 121.44,331.30 121.94,325.00 122.44,318.28 122.94,311.23 123.44,303.96 123.94,296.65 124.44,289.48 124.94,282.69 125.44,276.47 125.94,271.03 126.44,266.53 126.94,263.06 127.44,260.65 127.94,259.26 128.44,258.80 128.94,259.14 129.44,260.12 129.94,261.60 130.44,263.47 130.94,265.66 131.44,268.16 131.94,270.96 132.44,274.11 132.94,277.64 133.44,281.55 133.94,285.82 134.44,290.36 134.94,295.05 135.44,299.73 135.94,304.25 136.44,308.46 136.94,312.29 137.44,315.71 137.94,318.77 138.44,321.57 138.94,324.28 139.44,327.04 139.94,330.01 140.44,333.22 140.94,336.57 141.44,340.10 141.94,343.78 142.44,347.56 142.94,351.37 143.44,355.11 143.94,358.69 144.44,362.03 144.94,365.05 145.44,367.72 145.94,370.01 146.44,371.92 146.94,373.48 147.44,374.72 147.94,375.68 148.44,376.40 148.94,376.94 149.44,377.32 149.94,377.59 150.44,377.77 150.94,377.89" fill="none" stroke="#55cc55" stroke-width="1.1" />
<polyline points="110.94,377.90 111.64,377.72 112.34,377.43 113.04,376.97 113.74,376.26 114.44,375.23 115.14,373.96 115.84,371.82 116.54,369.36 117.24,366.63 117.94,362.71 118.64,358.32 119.34,352.78 120.04,346.37 120.74,341.03 121.44,333.56 122.14,322.12 122.84,314.09 123.54,302.53 124.24,296.59 124.94,284.69 125.64,274.52 126.34,271.24 127.04,261.17 127.74,258.68 128.44,264.53 129.14,265.19 129.84,263.00 130.54,262.62 131.24,269.92 131.94,274.81 132.64,277.79 133.34,285.42 134.04,289.96 134.74,295.00 135.44,301.12 136.14,308.49 136.84,313.89 137.54,318.56 138.24,321.63 138.94,325.95 139.64,330.62 140.34,332.36 141.04,337.83 141.74,342.59 142.44,348.72 143.14,352.52 143.84,357.87 144.54,363.31 145.24,367.02 145.94,370.03 146.64,372.61 147.34,374.46 148.04,375.84 148.74,376.74 149.44,377.32" fill="none" stroke="#111" stroke-width="1.1" stroke-dasharray="3,0.9"/>
<line x1="55.70" y1="378.10" x2="177.60" y2="378.10" stroke="#111" stroke-width="1.6" />
<text x="59.80" y="277.60" font-size="8.0" text-anchor="start" font-family="Liberation Serif, serif" textLength="55.5" lengthAdjust="spacingAndGlyphs" >divided(%):62.3</text>
<text x="62.90" y="389.10" font-size="8" text-anchor="middle" font-family="Liberation Serif, serif" >0</text>
<text x="84.60" y="389.10" font-size="8" text-anchor="middle" font-family="Liberation Serif, serif" >10<tspan font-size="5" dy="-3">4</tspan></text>
<text x="115.50" y="389.10" font-size="8" text-anchor="middle" font-family="Liberation Serif, serif" >10<tspan font-size="5" dy="-3">5</tspan></text>
<text x="142.40" y="389.10" font-size="8" text-anchor="middle" font-family="Liberation Serif, serif" >10<tspan font-size="5" dy="-3">6</tspan></text>
<text x="167.70" y="389.10" font-size="8" text-anchor="middle" font-family="Liberation Serif, serif" >10<tspan font-size="5" dy="-3">7</tspan></text>
<text x="102.00" y="399.20" font-size="10.8" text-anchor="middle" font-family="Liberation Serif, serif" textLength="26.3" lengthAdjust="spacingAndGlyphs" >CFSE</text>
<polygon points="66.00,378.10 68.40,378.10 67.70,380.70 66.70,380.70" fill="#111" stroke="none" stroke-width="0" />
<rect x="220.80" y="257.00" width="121.80" height="120.60" fill="none" stroke="#555" stroke-width="1"/>
<line x1="219.20" y1="377.60" x2="220.80" y2="377.60" stroke="#444" stroke-width="0.7" />
<line x1="219.20" y1="373.58" x2="220.80" y2="373.58" stroke="#444" stroke-width="0.7" />
<line x1="219.20" y1="369.56" x2="220.80" y2="369.56" stroke="#444" stroke-width="0.7" />
<line x1="219.20" y1="365.54" x2="220.80" y2="365.54" stroke="#444" stroke-width="0.7" />
<line x1="219.20" y1="361.52" x2="220.80" y2="361.52" stroke="#444" stroke-width="0.7" />
<line x1="219.20" y1="357.50" x2="220.80" y2="357.50" stroke="#444" stroke-width="0.7" />
<line x1="219.20" y1="353.48" x2="220.80" y2="353.48" stroke="#444" stroke-width="0.7" />
<line x1="219.20" y1="349.46" x2="220.80" y2="349.46" stroke="#444" stroke-width="0.7" />
<line x1="219.20" y1="345.44" x2="220.80" y2="345.44" stroke="#444" stroke-width="0.7" />
<line x1="219.20" y1="341.42" x2="220.80" y2="341.42" stroke="#444" stroke-width="0.7" />
<line x1="219.20" y1="337.40" x2="220.80" y2="337.40" stroke="#444" stroke-width="0.7" />
<line x1="219.20" y1="333.38" x2="220.80" y2="333.38" stroke="#444" stroke-width="0.7" />
<line x1="219.20" y1="329.36" x2="220.80" y2="329.36" stroke="#444" stroke-width="0.7" />
<line x1="219.20" y1="325.34" x2="220.80" y2="325.34" stroke="#444" stroke-width="0.7" />
<line x1="219.20" y1="321.32" x2="220.80" y2="321.32" stroke="#444" stroke-width="0.7" />
<line x1="219.20" y1="317.30" x2="220.80" y2="317.30" stroke="#444" stroke-width="0.7" />
<line x1="219.20" y1="313.28" x2="220.80" y2="313.28" stroke="#444" stroke-width="0.7" />
<line x1="219.20" y1="309.26" x2="220.80" y2="309.26" stroke="#444" stroke-width="0.7" />
<line x1="219.20" y1="305.24" x2="220.80" y2="305.24" stroke="#444" stroke-width="0.7" />
<line x1="219.20" y1="301.22" x2="220.80" y2="301.22" stroke="#444" stroke-width="0.7" />
<line x1="219.20" y1="297.20" x2="220.80" y2="297.20" stroke="#444" stroke-width="0.7" />
<line x1="219.20" y1="293.18" x2="220.80" y2="293.18" stroke="#444" stroke-width="0.7" />
<line x1="219.20" y1="289.16" x2="220.80" y2="289.16" stroke="#444" stroke-width="0.7" />
<line x1="219.20" y1="285.14" x2="220.80" y2="285.14" stroke="#444" stroke-width="0.7" />
<line x1="219.20" y1="281.12" x2="220.80" y2="281.12" stroke="#444" stroke-width="0.7" />
<line x1="219.20" y1="277.10" x2="220.80" y2="277.10" stroke="#444" stroke-width="0.7" />
<line x1="219.20" y1="273.08" x2="220.80" y2="273.08" stroke="#444" stroke-width="0.7" />
<line x1="219.20" y1="269.06" x2="220.80" y2="269.06" stroke="#444" stroke-width="0.7" />
<line x1="219.20" y1="265.04" x2="220.80" y2="265.04" stroke="#444" stroke-width="0.7" />
<line x1="219.20" y1="261.02" x2="220.80" y2="261.02" stroke="#444" stroke-width="0.7" />
<line x1="219.20" y1="257.00" x2="220.80" y2="257.00" stroke="#444" stroke-width="0.7" />
<line x1="217.30" y1="377.60" x2="220.80" y2="377.60" stroke="#333" stroke-width="0.9" />
<text x="216.50" y="380.30" font-size="8" text-anchor="end" font-family="Liberation Serif, serif" textLength="4.1" lengthAdjust="spacingAndGlyphs" >0</text>
<line x1="217.30" y1="337.40" x2="220.80" y2="337.40" stroke="#333" stroke-width="0.9" />
<text x="216.50" y="340.10" font-size="8" text-anchor="end" font-family="Liberation Serif, serif" textLength="12.299999999999999" lengthAdjust="spacingAndGlyphs" >100</text>
<line x1="217.30" y1="297.20" x2="220.80" y2="297.20" stroke="#333" stroke-width="0.9" />
<text x="216.50" y="299.90" font-size="8" text-anchor="end" font-family="Liberation Serif, serif" textLength="12.299999999999999" lengthAdjust="spacingAndGlyphs" >200</text>
<line x1="217.30" y1="257.00" x2="220.80" y2="257.00" stroke="#333" stroke-width="0.9" />
<text x="216.50" y="259.70" font-size="8" text-anchor="end" font-family="Liberation Serif, serif" textLength="12.299999999999999" lengthAdjust="spacingAndGlyphs" >300</text>
<text transform="translate(198.50,318.50) rotate(-90)" x="0" y="0" font-size="8.0" text-anchor="middle" font-family="Liberation Serif, serif" textLength="17.8" lengthAdjust="spacingAndGlyphs" >count</text>
<line x1="223.80" y1="377.60" x2="223.80" y2="378.90" stroke="#555" stroke-width="0.6" />
<line x1="225.80" y1="377.60" x2="225.80" y2="378.90" stroke="#555" stroke-width="0.6" />
<line x1="227.80" y1="377.60" x2="227.80" y2="378.90" stroke="#555" stroke-width="0.6" />
<line x1="229.80" y1="377.60" x2="229.80" y2="378.90" stroke="#555" stroke-width="0.6" />
<line x1="231.80" y1="377.60" x2="231.80" y2="378.90" stroke="#555" stroke-width="0.6" />
<line x1="233.80" y1="377.60" x2="233.80" y2="378.90" stroke="#555" stroke-width="0.6" />
<line x1="235.80" y1="377.60" x2="235.80" y2="378.90" stroke="#555" stroke-width="0.6" />
<line x1="237.80" y1="377.60" x2="237.80" y2="378.90" stroke="#555" stroke-width="0.6" />
<line x1="239.80" y1="377.60" x2="239.80" y2="378.90" stroke="#555" stroke-width="0.6" />
<line x1="241.80" y1="377.60" x2="241.80" y2="378.90" stroke="#555" stroke-width="0.6" />
<line x1="243.80" y1="377.60" x2="243.80" y2="378.90" stroke="#555" stroke-width="0.6" />
<line x1="245.80" y1="377.60" x2="245.80" y2="378.90" stroke="#555" stroke-width="0.6" />
<line x1="247.80" y1="377.60" x2="247.80" y2="378.90" stroke="#555" stroke-width="0.6" />
<line x1="249.80" y1="377.60" x2="249.80" y2="378.90" stroke="#555" stroke-width="0.6" />
<line x1="251.80" y1="377.60" x2="251.80" y2="378.90" stroke="#555" stroke-width="0.6" />
<line x1="253.80" y1="377.60" x2="253.80" y2="378.90" stroke="#555" stroke-width="0.6" />
<line x1="255.80" y1="377.60" x2="255.80" y2="378.90" stroke="#555" stroke-width="0.6" />
<line x1="257.80" y1="377.60" x2="257.80" y2="378.90" stroke="#555" stroke-width="0.6" />
<line x1="259.80" y1="377.60" x2="259.80" y2="378.90" stroke="#555" stroke-width="0.6" />
<line x1="261.80" y1="377.60" x2="261.80" y2="378.90" stroke="#555" stroke-width="0.6" />
<line x1="263.80" y1="377.60" x2="263.80" y2="378.90" stroke="#555" stroke-width="0.6" />
<line x1="265.80" y1="377.60" x2="265.80" y2="378.90" stroke="#555" stroke-width="0.6" />
<line x1="267.80" y1="377.60" x2="267.80" y2="378.90" stroke="#555" stroke-width="0.6" />
<line x1="269.80" y1="377.60" x2="269.80" y2="378.90" stroke="#555" stroke-width="0.6" />
<line x1="271.80" y1="377.60" x2="271.80" y2="378.90" stroke="#555" stroke-width="0.6" />
<line x1="273.80" y1="377.60" x2="273.80" y2="378.90" stroke="#555" stroke-width="0.6" />
<line x1="275.80" y1="377.60" x2="275.80" y2="378.90" stroke="#555" stroke-width="0.6" />
<line x1="277.80" y1="377.60" x2="277.80" y2="378.90" stroke="#555" stroke-width="0.6" />
<line x1="279.80" y1="377.60" x2="279.80" y2="378.90" stroke="#555" stroke-width="0.6" />
<line x1="281.80" y1="377.60" x2="281.80" y2="378.90" stroke="#555" stroke-width="0.6" />
<line x1="283.80" y1="377.60" x2="283.80" y2="378.90" stroke="#555" stroke-width="0.6" />
<line x1="285.80" y1="377.60" x2="285.80" y2="378.90" stroke="#555" stroke-width="0.6" />
<line x1="287.80" y1="377.60" x2="287.80" y2="378.90" stroke="#555" stroke-width="0.6" />
<line x1="289.80" y1="377.60" x2="289.80" y2="378.90" stroke="#555" stroke-width="0.6" />
<line x1="291.80" y1="377.60" x2="291.80" y2="378.90" stroke="#555" stroke-width="0.6" />
<line x1="293.80" y1="377.60" x2="293.80" y2="378.90" stroke="#555" stroke-width="0.6" />
<line x1="295.80" y1="377.60" x2="295.80" y2="378.90" stroke="#555" stroke-width="0.6" />
<line x1="297.80" y1="377.60" x2="297.80" y2="378.90" stroke="#555" stroke-width="0.6" />
<line x1="299.80" y1="377.60" x2="299.80" y2="378.90" stroke="#555" stroke-width="0.6" />
<line x1="301.80" y1="377.60" x2="301.80" y2="378.90" stroke="#555" stroke-width="0.6" />
<line x1="303.80" y1="377.60" x2="303.80" y2="378.90" stroke="#555" stroke-width="0.6" />
<line x1="305.80" y1="377.60" x2="305.80" y2="378.90" stroke="#555" stroke-width="0.6" />
<line x1="307.80" y1="377.60" x2="307.80" y2="378.90" stroke="#555" stroke-width="0.6" />
<line x1="309.80" y1="377.60" x2="309.80" y2="378.90" stroke="#555" stroke-width="0.6" />
<line x1="311.80" y1="377.60" x2="311.80" y2="378.90" stroke="#555" stroke-width="0.6" />
<line x1="313.80" y1="377.60" x2="313.80" y2="378.90" stroke="#555" stroke-width="0.6" />
<line x1="315.80" y1="377.60" x2="315.80" y2="378.90" stroke="#555" stroke-width="0.6" />
<line x1="317.80" y1="377.60" x2="317.80" y2="378.90" stroke="#555" stroke-width="0.6" />
<line x1="319.80" y1="377.60" x2="319.80" y2="378.90" stroke="#555" stroke-width="0.6" />
<line x1="321.80" y1="377.60" x2="321.80" y2="378.90" stroke="#555" stroke-width="0.6" />
<line x1="323.80" y1="377.60" x2="323.80" y2="378.90" stroke="#555" stroke-width="0.6" />
<line x1="325.80" y1="377.60" x2="325.80" y2="378.90" stroke="#555" stroke-width="0.6" />
<line x1="327.80" y1="377.60" x2="327.80" y2="378.90" stroke="#555" stroke-width="0.6" />
<line x1="329.80" y1="377.60" x2="329.80" y2="378.90" stroke="#555" stroke-width="0.6" />
<line x1="331.80" y1="377.60" x2="331.80" y2="378.90" stroke="#555" stroke-width="0.6" />
<line x1="333.80" y1="377.60" x2="333.80" y2="378.90" stroke="#555" stroke-width="0.6" />
<line x1="335.80" y1="377.60" x2="335.80" y2="378.90" stroke="#555" stroke-width="0.6" />
<line x1="337.80" y1="377.60" x2="337.80" y2="378.90" stroke="#555" stroke-width="0.6" />
<line x1="339.80" y1="377.60" x2="339.80" y2="378.90" stroke="#555" stroke-width="0.6" />
<polygon points="276.12,377.52 276.37,377.50 276.62,377.48 276.87,377.45 277.12,377.41 277.37,377.36 277.62,377.31 277.87,377.25 278.12,377.17 278.37,377.08 278.62,376.98 278.87,376.85 279.12,376.71 279.37,376.55 279.62,376.37 279.87,376.16 280.12,375.92 280.37,375.66 280.62,375.36 280.87,375.04 281.12,374.69 281.37,374.30 281.62,373.88 281.87,373.44 282.12,372.96 282.37,372.46 282.62,371.93 282.87,371.38 283.12,370.82 283.37,370.25 283.62,369.67 283.87,369.09 284.12,368.52 284.37,367.96 284.62,367.42 284.87,366.92 285.12,366.44 285.37,366.01 285.62,365.63 285.87,365.30 286.12,365.03 286.37,364.82 286.62,364.68 286.87,364.61 287.12,364.61 287.37,364.68 287.62,364.81 287.87,365.02 288.12,365.29 288.37,365.61 288.62,365.99 288.87,366.42 289.12,366.90 289.37,367.40 289.62,367.94 289.87,368.50 290.12,369.07 290.37,369.65 290.62,370.22 290.87,370.80 291.12,371.36 291.37,371.91 291.62,372.44 291.87,372.94 292.12,373.42 292.37,373.87 292.62,374.28 292.87,374.67 293.12,375.03 293.37,375.35 293.62,375.65 293.87,375.91 294.12,376.15 294.37,376.36 294.62,376.55 294.87,376.71 295.12,376.85 295.37,376.97 295.62,377.08 295.87,377.17 296.12,377.24 296.37,377.31 296.62,377.36 296.87,377.41 297.12,377.45 297.37,377.48 297.62,377.50 297.87,377.52" fill="rgba(230,0,230,0.5)" stroke="#b000b0" stroke-width="0.35" />
<polygon points="279.92,377.35 280.17,377.28 280.42,377.20 280.67,377.10 280.92,376.98 281.17,376.84 281.42,376.67 281.67,376.46 281.92,376.21 282.17,375.92 282.42,375.59 282.67,375.19 282.92,374.74 283.17,374.21 283.42,373.62 283.67,372.94 283.92,372.18 284.17,371.33 284.42,370.38 284.67,369.33 284.92,368.19 285.17,366.94 285.42,365.59 285.67,364.14 285.92,362.61 286.17,360.98 286.42,359.28 286.67,357.52 286.92,355.70 287.17,353.85 287.42,351.98 287.67,350.11 287.92,348.26 288.17,346.46 288.42,344.73 288.67,343.08 288.92,341.55 289.17,340.16 289.42,338.92 289.67,337.86 289.92,336.98 290.17,336.31 290.42,335.86 290.67,335.63 290.92,335.63 291.17,335.85 291.42,336.29 291.67,336.95 291.92,337.82 292.17,338.87 292.42,340.11 292.67,341.50 292.92,343.02 293.17,344.66 293.42,346.39 293.67,348.19 293.92,350.03 294.17,351.90 294.42,353.77 294.67,355.63 294.92,357.44 295.17,359.21 295.42,360.92 295.67,362.54 295.92,364.08 296.17,365.53 296.42,366.89 296.67,368.14 296.92,369.29 297.17,370.34 297.42,371.29 297.67,372.15 297.92,372.91 298.17,373.59 298.42,374.19 298.67,374.72 298.92,375.17 299.17,375.57 299.42,375.91 299.67,376.20 299.92,376.45 300.17,376.66 300.42,376.83 300.67,376.98 300.92,377.10 301.17,377.20 301.42,377.28 301.67,377.35" fill="rgba(230,0,230,0.5)" stroke="#b000b0" stroke-width="0.35" />
<polygon points="283.12,377.21 283.37,377.10 283.62,376.98 283.87,376.82 284.12,376.63 284.37,376.40 284.62,376.13 284.87,375.81 285.12,375.42 285.37,374.97 285.62,374.43 285.87,373.82 286.12,373.10 286.37,372.28 286.62,371.34 286.87,370.28 287.12,369.08 287.37,367.74 287.62,366.25 287.87,364.61 288.12,362.81 288.37,360.85 288.62,358.73 288.87,356.46 289.12,354.04 289.37,351.49 289.62,348.81 289.87,346.04 290.12,343.18 290.37,340.27 290.62,337.33 290.87,334.40 291.12,331.50 291.37,328.67 291.62,325.94 291.87,323.36 292.12,320.96 292.37,318.76 292.62,316.82 292.87,315.15 293.12,313.77 293.37,312.72 293.62,312.01 293.87,311.65 294.12,311.64 294.37,311.99 294.62,312.69 294.87,313.73 295.12,315.09 295.37,316.75 295.62,318.68 295.87,320.86 296.12,323.26 296.37,325.84 296.62,328.55 296.87,331.38 297.12,334.28 297.37,337.22 297.62,340.16 297.87,343.07 298.12,345.93 298.37,348.71 298.62,351.38 298.87,353.94 299.12,356.36 299.37,358.64 299.62,360.76 299.87,362.73 300.12,364.54 300.37,366.19 300.62,367.68 300.87,369.03 301.12,370.23 301.37,371.30 301.62,372.24 301.87,373.07 302.12,373.79 302.37,374.41 302.62,374.95 302.87,375.40 303.12,375.79 303.37,376.12 303.62,376.39 303.87,376.62 304.12,376.81 304.37,376.97 304.62,377.10 304.87,377.20" fill="rgba(230,0,230,0.5)" stroke="#b000b0" stroke-width="0.35" />
<polygon points="288.42,377.22 288.67,377.12 288.92,377.00 289.17,376.86 289.42,376.68 289.67,376.46 289.92,376.20 290.17,375.89 290.42,375.52 290.67,375.09 290.92,374.58 291.17,373.99 291.42,373.31 291.67,372.52 291.92,371.63 292.17,370.61 292.42,369.47 292.67,368.19 292.92,366.77 293.17,365.20 293.42,363.48 293.67,361.61 293.92,359.58 294.17,357.42 294.42,355.11 294.67,352.67 294.92,350.12 295.17,347.47 295.42,344.75 295.67,341.97 295.92,339.16 296.17,336.36 296.42,333.59 296.67,330.89 296.92,328.29 297.17,325.83 297.42,323.53 297.67,321.44 297.92,319.58 298.17,317.99 298.42,316.68 298.67,315.67 298.92,314.99 299.17,314.65 299.42,314.64 299.67,314.97 299.92,315.64 300.17,316.63 300.42,317.93 300.67,319.51 300.92,321.36 301.17,323.44 301.42,325.73 301.67,328.19 301.92,330.78 302.17,333.48 302.42,336.25 302.67,339.05 302.92,341.86 303.17,344.64 303.42,347.37 303.67,350.02 303.92,352.57 304.17,355.01 304.42,357.33 304.67,359.50 304.92,361.53 305.17,363.41 305.42,365.13 305.67,366.71 305.92,368.13 306.17,369.42 306.42,370.57 306.67,371.59 306.92,372.49 307.17,373.28 307.42,373.96 307.67,374.56 307.92,375.07 308.17,375.50 308.42,375.87 308.67,376.19 308.92,376.45 309.17,376.67 309.42,376.85 309.67,377.00 309.92,377.12 310.17,377.22" fill="rgba(230,0,230,0.5)" stroke="#b000b0" stroke-width="0.35" />
<polygon points="296.50,377.41 296.75,377.35 297.00,377.28 297.25,377.19 297.50,377.07 297.75,376.93 298.00,376.76 298.25,376.56 298.50,376.31 298.75,376.01 299.00,375.66 299.25,375.24 299.50,374.75 299.75,374.19 300.00,373.55 300.25,372.82 300.50,372.00 300.75,371.08 301.00,370.06 301.25,368.94 301.50,367.72 301.75,366.42 302.00,365.02 302.25,363.56 302.50,362.02 302.75,360.45 303.00,358.84 303.25,357.22 303.50,355.62 303.75,354.05 304.00,352.55 304.25,351.14 304.50,349.84 304.75,348.68 305.00,347.68 305.25,346.86 305.50,346.23 305.75,345.82 306.00,345.62 306.25,345.63 306.50,345.82 306.75,346.18 307.00,346.70 307.25,347.38 307.50,348.20 307.75,349.15 308.00,350.23 308.25,351.40 308.50,352.66 308.75,353.98 309.00,355.36 309.25,356.77 309.50,358.19 309.75,359.62 310.00,361.03 310.25,362.41 310.50,363.75 310.75,365.04 311.00,366.27 311.25,367.44 311.50,368.53 311.75,369.56 312.00,370.50 312.25,371.37 312.50,372.16 312.75,372.87 313.00,373.52 313.25,374.09 313.50,374.60 313.75,375.05 314.00,375.45 314.25,375.79 314.50,376.09 314.75,376.34 315.00,376.56 315.25,376.74 315.50,376.90 315.75,377.03 316.00,377.14 316.25,377.23 316.50,377.30 316.75,377.36" fill="rgba(245,95,75,0.72)" stroke="#c04030" stroke-width="0.35" />
<polyline points="275.78,377.54 276.28,377.50 276.78,377.45 277.28,377.36 277.78,377.24 278.28,377.06 278.78,376.81 279.28,376.46 279.78,375.99 280.28,375.36 280.78,374.55 281.28,373.50 281.78,372.19 282.28,370.57 282.78,368.60 283.28,366.23 283.78,363.44 284.28,360.18 284.78,356.43 285.28,352.16 285.78,347.38 286.28,342.09 286.78,336.30 287.28,330.06 287.78,323.45 288.28,316.54 288.78,309.47 289.28,302.38 289.78,295.44 290.28,288.81 290.78,282.67 291.28,277.20 291.78,272.52 292.28,268.76 292.78,265.95 293.28,264.12 293.78,263.22 294.28,263.18 294.78,263.88 295.28,265.21 295.78,267.05 296.28,269.31 296.78,271.91 297.28,274.83 297.78,278.04 298.28,281.57 298.78,285.41 299.28,289.56 299.78,293.97 300.28,298.56 300.78,303.23 301.28,307.82 301.78,312.20 302.28,316.25 302.78,319.87 303.28,323.03 303.78,325.77 304.28,328.18 304.78,330.40 305.28,332.59 305.78,334.90 306.28,337.45 306.78,340.16 307.28,343.05 307.78,346.10 308.28,349.30 308.78,352.57 309.28,355.85 309.78,359.04 310.28,362.06 310.78,364.84 311.28,367.33 311.78,369.51 312.28,371.35 312.78,372.88 313.28,374.11 313.78,375.07 314.28,375.81 314.78,376.35 315.28,376.75 315.78,377.04 316.28,377.23 316.78,377.37 317.28,377.45" fill="none" stroke="#55cc55" stroke-width="1.1" />
<polyline points="277.28,377.36 277.98,377.17 278.68,376.87 279.38,376.38 280.08,375.63 280.78,374.51 281.48,372.96 282.18,371.23 282.88,368.58 283.58,364.55 284.28,360.21 284.98,354.93 285.68,349.26 286.38,341.36 287.08,333.08 287.78,324.11 288.48,316.26 289.18,305.42 289.88,296.12 290.58,285.33 291.28,275.73 291.98,269.65 292.68,268.06 293.38,266.27 294.08,266.83 294.78,269.30 295.48,271.28 296.18,270.98 296.88,275.55 297.58,279.27 298.28,280.81 298.98,288.47 299.68,294.22 300.38,302.20 301.08,309.47 301.78,314.09 302.48,320.21 303.18,323.36 303.88,325.51 304.58,329.82 305.28,334.31 305.98,335.55 306.68,339.54 307.38,343.72 308.08,347.74 308.78,352.58 309.48,357.11 310.18,361.90 310.88,365.19 311.58,368.57 312.28,371.60 312.98,373.41 313.68,374.90 314.38,375.93 315.08,376.61 315.78,377.04" fill="none" stroke="#111" stroke-width="1.1" stroke-dasharray="3,0.9"/>
<line x1="220.80" y1="377.60" x2="342.60" y2="377.60" stroke="#111" stroke-width="1.6" />
<text x="227.20" y="277.90" font-size="8.0" text-anchor="start" font-family="Liberation Serif, serif" textLength="55.5" lengthAdjust="spacingAndGlyphs" >divided(%):61.9</text>
<text x="231.60" y="388.60" font-size="8" text-anchor="middle" font-family="Liberation Serif, serif" >0</text>
<text x="250.70" y="388.60" font-size="8" text-anchor="middle" font-family="Liberation Serif, serif" >10<tspan font-size="5" dy="-3">4</tspan></text>
<text x="279.50" y="388.60" font-size="8" text-anchor="middle" font-family="Liberation Serif, serif" >10<tspan font-size="5" dy="-3">5</tspan></text>
<text x="308.30" y="388.60" font-size="8" text-anchor="middle" font-family="Liberation Serif, serif" >10<tspan font-size="5" dy="-3">6</tspan></text>
<text x="337.30" y="388.60" font-size="8" text-anchor="middle" font-family="Liberation Serif, serif" >10<tspan font-size="5" dy="-3">7</tspan></text>
<text x="262.30" y="399.20" font-size="10.8" text-anchor="middle" font-family="Liberation Serif, serif" textLength="26.3" lengthAdjust="spacingAndGlyphs" >CFSE</text>
<polygon points="234.70,377.60 237.10,377.60 236.40,380.20 235.40,380.20" fill="#111" stroke="none" stroke-width="0" />
<rect x="385.80" y="257.50" width="121.40" height="120.30" fill="none" stroke="#555" stroke-width="1"/>
<line x1="384.20" y1="377.80" x2="385.80" y2="377.80" stroke="#444" stroke-width="0.7" />
<line x1="384.20" y1="373.79" x2="385.80" y2="373.79" stroke="#444" stroke-width="0.7" />
<line x1="384.20" y1="369.78" x2="385.80" y2="369.78" stroke="#444" stroke-width="0.7" />
<line x1="384.20" y1="365.77" x2="385.80" y2="365.77" stroke="#444" stroke-width="0.7" />
<line x1="384.20" y1="361.76" x2="385.80" y2="361.76" stroke="#444" stroke-width="0.7" />
<line x1="384.20" y1="357.75" x2="385.80" y2="357.75" stroke="#444" stroke-width="0.7" />
<line x1="384.20" y1="353.74" x2="385.80" y2="353.74" stroke="#444" stroke-width="0.7" />
<line x1="384.20" y1="349.73" x2="385.80" y2="349.73" stroke="#444" stroke-width="0.7" />
<line x1="384.20" y1="345.72" x2="385.80" y2="345.72" stroke="#444" stroke-width="0.7" />
<line x1="384.20" y1="341.71" x2="385.80" y2="341.71" stroke="#444" stroke-width="0.7" />
<line x1="384.20" y1="337.70" x2="385.80" y2="337.70" stroke="#444" stroke-width="0.7" />
<line x1="384.20" y1="333.69" x2="385.80" y2="333.69" stroke="#444" stroke-width="0.7" />
<line x1="384.20" y1="329.68" x2="385.80" y2="329.68" stroke="#444" stroke-width="0.7" />
<line x1="384.20" y1="325.67" x2="385.80" y2="325.67" stroke="#444" stroke-width="0.7" />
<line x1="384.20" y1="321.66" x2="385.80" y2="321.66" stroke="#444" stroke-width="0.7" />
<line x1="384.20" y1="317.65" x2="385.80" y2="317.65" stroke="#444" stroke-width="0.7" />
<line x1="384.20" y1="313.64" x2="385.80" y2="313.64" stroke="#444" stroke-width="0.7" />
<line x1="384.20" y1="309.63" x2="385.80" y2="309.63" stroke="#444" stroke-width="0.7" />
<line x1="384.20" y1="305.62" x2="385.80" y2="305.62" stroke="#444" stroke-width="0.7" />
<line x1="384.20" y1="301.61" x2="385.80" y2="301.61" stroke="#444" stroke-width="0.7" />
<line x1="384.20" y1="297.60" x2="385.80" y2="297.60" stroke="#444" stroke-width="0.7" />
<line x1="384.20" y1="293.59" x2="385.80" y2="293.59" stroke="#444" stroke-width="0.7" />
<line x1="384.20" y1="289.58" x2="385.80" y2="289.58" stroke="#444" stroke-width="0.7" />
<line x1="384.20" y1="285.57" x2="385.80" y2="285.57" stroke="#444" stroke-width="0.7" />
<line x1="384.20" y1="281.56" x2="385.80" y2="281.56" stroke="#444" stroke-width="0.7" />
<line x1="384.20" y1="277.55" x2="385.80" y2="277.55" stroke="#444" stroke-width="0.7" />
<line x1="384.20" y1="273.54" x2="385.80" y2="273.54" stroke="#444" stroke-width="0.7" />
<line x1="384.20" y1="269.53" x2="385.80" y2="269.53" stroke="#444" stroke-width="0.7" />
<line x1="384.20" y1="265.52" x2="385.80" y2="265.52" stroke="#444" stroke-width="0.7" />
<line x1="384.20" y1="261.51" x2="385.80" y2="261.51" stroke="#444" stroke-width="0.7" />
<line x1="384.20" y1="257.50" x2="385.80" y2="257.50" stroke="#444" stroke-width="0.7" />
<line x1="382.30" y1="377.80" x2="385.80" y2="377.80" stroke="#333" stroke-width="0.9" />
<text x="381.50" y="380.50" font-size="8" text-anchor="end" font-family="Liberation Serif, serif" textLength="4.1" lengthAdjust="spacingAndGlyphs" >0</text>
<line x1="382.30" y1="337.70" x2="385.80" y2="337.70" stroke="#333" stroke-width="0.9" />
<text x="381.50" y="340.40" font-size="8" text-anchor="end" font-family="Liberation Serif, serif" textLength="12.299999999999999" lengthAdjust="spacingAndGlyphs" >100</text>
<line x1="382.30" y1="297.60" x2="385.80" y2="297.60" stroke="#333" stroke-width="0.9" />
<text x="381.50" y="300.30" font-size="8" text-anchor="end" font-family="Liberation Serif, serif" textLength="12.299999999999999" lengthAdjust="spacingAndGlyphs" >200</text>
<line x1="382.30" y1="257.50" x2="385.80" y2="257.50" stroke="#333" stroke-width="0.9" />
<text x="381.50" y="260.20" font-size="8" text-anchor="end" font-family="Liberation Serif, serif" textLength="12.299999999999999" lengthAdjust="spacingAndGlyphs" >300</text>
<text transform="translate(368.60,320.20) rotate(-90)" x="0" y="0" font-size="8.0" text-anchor="middle" font-family="Liberation Serif, serif" textLength="17.8" lengthAdjust="spacingAndGlyphs" >count</text>
<line x1="388.80" y1="377.80" x2="388.80" y2="379.10" stroke="#555" stroke-width="0.6" />
<line x1="390.80" y1="377.80" x2="390.80" y2="379.10" stroke="#555" stroke-width="0.6" />
<line x1="392.80" y1="377.80" x2="392.80" y2="379.10" stroke="#555" stroke-width="0.6" />
<line x1="394.80" y1="377.80" x2="394.80" y2="379.10" stroke="#555" stroke-width="0.6" />
<line x1="396.80" y1="377.80" x2="396.80" y2="379.10" stroke="#555" stroke-width="0.6" />
<line x1="398.80" y1="377.80" x2="398.80" y2="379.10" stroke="#555" stroke-width="0.6" />
<line x1="400.80" y1="377.80" x2="400.80" y2="379.10" stroke="#555" stroke-width="0.6" />
<line x1="402.80" y1="377.80" x2="402.80" y2="379.10" stroke="#555" stroke-width="0.6" />
<line x1="404.80" y1="377.80" x2="404.80" y2="379.10" stroke="#555" stroke-width="0.6" />
<line x1="406.80" y1="377.80" x2="406.80" y2="379.10" stroke="#555" stroke-width="0.6" />
<line x1="408.80" y1="377.80" x2="408.80" y2="379.10" stroke="#555" stroke-width="0.6" />
<line x1="410.80" y1="377.80" x2="410.80" y2="379.10" stroke="#555" stroke-width="0.6" />
<line x1="412.80" y1="377.80" x2="412.80" y2="379.10" stroke="#555" stroke-width="0.6" />
<line x1="414.80" y1="377.80" x2="414.80" y2="379.10" stroke="#555" stroke-width="0.6" />
<line x1="416.80" y1="377.80" x2="416.80" y2="379.10" stroke="#555" stroke-width="0.6" />
<line x1="418.80" y1="377.80" x2="418.80" y2="379.10" stroke="#555" stroke-width="0.6" />
<line x1="420.80" y1="377.80" x2="420.80" y2="379.10" stroke="#555" stroke-width="0.6" />
<line x1="422.80" y1="377.80" x2="422.80" y2="379.10" stroke="#555" stroke-width="0.6" />
<line x1="424.80" y1="377.80" x2="424.80" y2="379.10" stroke="#555" stroke-width="0.6" />
<line x1="426.80" y1="377.80" x2="426.80" y2="379.10" stroke="#555" stroke-width="0.6" />
<line x1="428.80" y1="377.80" x2="428.80" y2="379.10" stroke="#555" stroke-width="0.6" />
<line x1="430.80" y1="377.80" x2="430.80" y2="379.10" stroke="#555" stroke-width="0.6" />
<line x1="432.80" y1="377.80" x2="432.80" y2="379.10" stroke="#555" stroke-width="0.6" />
<line x1="434.80" y1="377.80" x2="434.80" y2="379.10" stroke="#555" stroke-width="0.6" />
<line x1="436.80" y1="377.80" x2="436.80" y2="379.10" stroke="#555" stroke-width="0.6" />
<line x1="438.80" y1="377.80" x2="438.80" y2="379.10" stroke="#555" stroke-width="0.6" />
<line x1="440.80" y1="377.80" x2="440.80" y2="379.10" stroke="#555" stroke-width="0.6" />
<line x1="442.80" y1="377.80" x2="442.80" y2="379.10" stroke="#555" stroke-width="0.6" />
<line x1="444.80" y1="377.80" x2="444.80" y2="379.10" stroke="#555" stroke-width="0.6" />
<line x1="446.80" y1="377.80" x2="446.80" y2="379.10" stroke="#555" stroke-width="0.6" />
<line x1="448.80" y1="377.80" x2="448.80" y2="379.10" stroke="#555" stroke-width="0.6" />
<line x1="450.80" y1="377.80" x2="450.80" y2="379.10" stroke="#555" stroke-width="0.6" />
<line x1="452.80" y1="377.80" x2="452.80" y2="379.10" stroke="#555" stroke-width="0.6" />
<line x1="454.80" y1="377.80" x2="454.80" y2="379.10" stroke="#555" stroke-width="0.6" />
<line x1="456.80" y1="377.80" x2="456.80" y2="379.10" stroke="#555" stroke-width="0.6" />
<line x1="458.80" y1="377.80" x2="458.80" y2="379.10" stroke="#555" stroke-width="0.6" />
<line x1="460.80" y1="377.80" x2="460.80" y2="379.10" stroke="#555" stroke-width="0.6" />
<line x1="462.80" y1="377.80" x2="462.80" y2="379.10" stroke="#555" stroke-width="0.6" />
<line x1="464.80" y1="377.80" x2="464.80" y2="379.10" stroke="#555" stroke-width="0.6" />
<line x1="466.80" y1="377.80" x2="466.80" y2="379.10" stroke="#555" stroke-width="0.6" />
<line x1="468.80" y1="377.80" x2="468.80" y2="379.10" stroke="#555" stroke-width="0.6" />
<line x1="470.80" y1="377.80" x2="470.80" y2="379.10" stroke="#555" stroke-width="0.6" />
<line x1="472.80" y1="377.80" x2="472.80" y2="379.10" stroke="#555" stroke-width="0.6" />
<line x1="474.80" y1="377.80" x2="474.80" y2="379.10" stroke="#555" stroke-width="0.6" />
<line x1="476.80" y1="377.80" x2="476.80" y2="379.10" stroke="#555" stroke-width="0.6" />
<line x1="478.80" y1="377.80" x2="478.80" y2="379.10" stroke="#555" stroke-width="0.6" />
<line x1="480.80" y1="377.80" x2="480.80" y2="379.10" stroke="#555" stroke-width="0.6" />
<line x1="482.80" y1="377.80" x2="482.80" y2="379.10" stroke="#555" stroke-width="0.6" />
<line x1="484.80" y1="377.80" x2="484.80" y2="379.10" stroke="#555" stroke-width="0.6" />
<line x1="486.80" y1="377.80" x2="486.80" y2="379.10" stroke="#555" stroke-width="0.6" />
<line x1="488.80" y1="377.80" x2="488.80" y2="379.10" stroke="#555" stroke-width="0.6" />
<line x1="490.80" y1="377.80" x2="490.80" y2="379.10" stroke="#555" stroke-width="0.6" />
<line x1="492.80" y1="377.80" x2="492.80" y2="379.10" stroke="#555" stroke-width="0.6" />
<line x1="494.80" y1="377.80" x2="494.80" y2="379.10" stroke="#555" stroke-width="0.6" />
<line x1="496.80" y1="377.80" x2="496.80" y2="379.10" stroke="#555" stroke-width="0.6" />
<line x1="498.80" y1="377.80" x2="498.80" y2="379.10" stroke="#555" stroke-width="0.6" />
<line x1="500.80" y1="377.80" x2="500.80" y2="379.10" stroke="#555" stroke-width="0.6" />
<line x1="502.80" y1="377.80" x2="502.80" y2="379.10" stroke="#555" stroke-width="0.6" />
<line x1="504.80" y1="377.80" x2="504.80" y2="379.10" stroke="#555" stroke-width="0.6" />
<polygon points="438.12,377.74 438.37,377.72 438.62,377.71 438.87,377.68 439.12,377.65 439.37,377.62 439.62,377.58 439.87,377.53 440.12,377.47 440.37,377.40 440.62,377.32 440.87,377.23 441.12,377.12 441.37,376.99 441.62,376.85 441.87,376.69 442.12,376.51 442.37,376.31 442.62,376.08 442.87,375.83 443.12,375.56 443.37,375.26 443.62,374.94 443.87,374.60 444.12,374.23 444.37,373.84 444.62,373.44 444.87,373.02 445.12,372.59 445.37,372.14 445.62,371.70 445.87,371.25 446.12,370.81 446.37,370.39 446.62,369.97 446.87,369.58 447.12,369.22 447.37,368.89 447.62,368.59 447.87,368.34 448.12,368.13 448.37,367.97 448.62,367.86 448.87,367.81 449.12,367.81 449.37,367.86 449.62,367.96 449.87,368.12 450.12,368.33 450.37,368.58 450.62,368.87 450.87,369.20 451.12,369.57 451.37,369.96 451.62,370.37 451.87,370.80 452.12,371.24 452.37,371.68 452.62,372.13 452.87,372.57 453.12,373.00 453.37,373.42 453.62,373.83 453.87,374.21 454.12,374.58 454.37,374.93 454.62,375.25 454.87,375.55 455.12,375.82 455.37,376.07 455.62,376.30 455.87,376.50 456.12,376.68 456.37,376.85 456.62,376.99 456.87,377.11 457.12,377.22 457.37,377.32 457.62,377.40 457.87,377.47 458.12,377.53 458.37,377.58 458.62,377.62 458.87,377.65 459.12,377.68 459.37,377.70 459.62,377.72 459.87,377.74" fill="rgba(230,0,230,0.5)" stroke="#b000b0" stroke-width="0.35" />
<polygon points="444.32,377.64 444.57,377.60 444.82,377.54 445.07,377.48 445.32,377.40 445.57,377.31 445.82,377.20 446.07,377.07 446.32,376.91 446.57,376.72 446.82,376.51 447.07,376.25 447.32,375.96 447.57,375.62 447.82,375.24 448.07,374.80 448.32,374.31 448.57,373.77 448.82,373.16 449.07,372.48 449.32,371.75 449.57,370.95 449.82,370.08 450.07,369.15 450.32,368.16 450.57,367.12 450.82,366.02 451.07,364.89 451.32,363.72 451.57,362.53 451.82,361.33 452.07,360.13 452.32,358.94 452.57,357.78 452.82,356.67 453.07,355.61 453.32,354.63 453.57,353.73 453.82,352.93 454.07,352.25 454.32,351.69 454.57,351.26 454.82,350.97 455.07,350.82 455.32,350.82 455.57,350.96 455.82,351.25 456.07,351.67 456.32,352.23 456.57,352.91 456.82,353.70 457.07,354.59 457.32,355.57 457.57,356.62 457.82,357.74 458.07,358.89 458.32,360.08 458.57,361.28 458.82,362.48 459.07,363.67 459.32,364.84 459.57,365.98 459.82,367.07 460.07,368.12 460.32,369.11 460.57,370.04 460.82,370.91 461.07,371.72 461.32,372.46 461.57,373.13 461.82,373.74 462.07,374.29 462.32,374.79 462.57,375.22 462.82,375.61 463.07,375.95 463.32,376.24 463.57,376.50 463.82,376.71 464.07,376.90 464.32,377.06 464.57,377.19 464.82,377.31 465.07,377.40 465.32,377.48 465.57,377.54 465.82,377.59 466.07,377.64" fill="rgba(230,0,230,0.5)" stroke="#b000b0" stroke-width="0.35" />
<polygon points="448.12,377.44 448.37,377.34 448.62,377.22 448.87,377.08 449.12,376.91 449.37,376.70 449.62,376.44 449.87,376.14 450.12,375.79 450.37,375.37 450.62,374.87 450.87,374.30 451.12,373.64 451.37,372.88 451.62,372.02 451.87,371.03 452.12,369.93 452.37,368.69 452.62,367.31 452.87,365.79 453.12,364.13 453.37,362.31 453.62,360.36 453.87,358.26 454.12,356.02 454.37,353.66 454.62,351.20 454.87,348.63 455.12,345.99 455.37,343.30 455.62,340.58 455.87,337.87 456.12,335.19 456.37,332.57 456.62,330.06 456.87,327.67 457.12,325.45 457.37,323.42 457.62,321.62 457.87,320.08 458.12,318.81 458.37,317.84 458.62,317.18 458.87,316.84 459.12,316.84 459.37,317.16 459.62,317.81 459.87,318.76 460.12,320.02 460.37,321.56 460.62,323.35 460.87,325.36 461.12,327.58 461.37,329.96 461.62,332.47 461.87,335.08 462.12,337.76 462.37,340.48 462.62,343.19 462.87,345.88 463.12,348.53 463.37,351.09 463.62,353.57 463.87,355.93 464.12,358.17 464.37,360.28 464.62,362.24 464.87,364.06 465.12,365.73 465.37,367.25 465.62,368.64 465.87,369.88 466.12,370.99 466.37,371.98 466.62,372.85 466.87,373.61 467.12,374.28 467.37,374.85 467.62,375.35 467.87,375.77 468.12,376.13 468.37,376.43 468.62,376.69 468.87,376.90 469.12,377.07 469.37,377.22 469.62,377.34 469.87,377.43" fill="rgba(230,0,230,0.5)" stroke="#b000b0" stroke-width="0.35" />
<polygon points="452.42,377.29 452.67,377.15 452.92,376.99 453.17,376.78 453.42,376.54 453.67,376.24 453.92,375.89 454.17,375.46 454.42,374.96 454.67,374.37 454.92,373.68 455.17,372.87 455.42,371.94 455.67,370.87 455.92,369.65 456.17,368.26 456.42,366.70 456.67,364.95 456.92,363.01 457.17,360.87 457.42,358.52 457.67,355.97 457.92,353.21 458.17,350.25 458.42,347.10 458.67,343.77 458.92,340.29 459.17,336.68 459.42,332.96 459.67,329.16 459.92,325.33 460.17,321.50 460.42,317.73 460.67,314.04 460.92,310.49 461.17,307.12 461.42,303.99 461.67,301.14 461.92,298.60 462.17,296.42 462.42,294.63 462.67,293.26 462.92,292.34 463.17,291.86 463.42,291.85 463.67,292.31 463.92,293.22 464.17,294.57 464.42,296.34 464.67,298.51 464.92,301.03 465.17,303.87 465.42,306.99 465.67,310.35 465.92,313.89 466.17,317.58 466.42,321.35 466.67,325.18 466.92,329.01 467.17,332.80 467.42,336.53 467.67,340.15 467.92,343.64 468.17,346.97 468.42,350.13 468.67,353.09 468.92,355.86 469.17,358.42 469.42,360.78 469.67,362.93 469.92,364.88 470.17,366.63 470.42,368.20 470.67,369.59 470.92,370.82 471.17,371.90 471.42,372.83 471.67,373.65 471.92,374.34 472.17,374.94 472.42,375.44 472.67,375.87 472.92,376.23 473.17,376.53 473.42,376.78 473.67,376.98 473.92,377.15 474.17,377.28" fill="rgba(230,0,230,0.5)" stroke="#b000b0" stroke-width="0.35" />
<polygon points="459.68,377.47 459.93,377.38 460.18,377.26 460.43,377.11 460.68,376.92 460.93,376.70 461.18,376.42 461.43,376.09 461.68,375.70 461.93,375.22 462.18,374.66 462.43,374.01 462.68,373.25 462.93,372.37 463.18,371.36 463.43,370.21 463.68,368.92 463.93,367.47 464.18,365.87 464.43,364.11 464.68,362.19 464.93,360.12 465.18,357.90 465.43,355.54 465.68,353.07 465.93,350.51 466.18,347.87 466.43,345.19 466.68,342.51 466.93,339.84 467.18,337.25 467.43,334.75 467.68,332.40 467.93,330.23 468.18,328.28 468.43,326.58 468.68,325.17 468.93,324.07 469.18,323.30 469.43,322.88 469.68,322.81 469.93,323.04 470.18,323.55 470.43,324.32 470.68,325.36 470.93,326.63 471.18,328.13 471.43,329.83 471.68,331.70 471.93,333.73 472.18,335.89 472.43,338.14 472.68,340.46 472.93,342.82 473.18,345.20 473.43,347.58 473.68,349.92 473.93,352.21 474.18,354.44 474.43,356.58 474.68,358.62 474.93,360.55 475.18,362.37 475.43,364.06 475.68,365.64 475.93,367.08 476.18,368.41 476.43,369.61 476.68,370.69 476.93,371.66 477.18,372.53 477.43,373.30 477.68,373.97 477.93,374.56 478.18,375.07 478.43,375.52 478.68,375.90 478.93,376.22 479.18,376.50 479.43,376.73 479.68,376.93 479.93,377.09 480.18,377.23 480.43,377.34 480.68,377.43" fill="rgba(245,95,75,0.72)" stroke="#c04030" stroke-width="0.35" />
<polyline points="437.78,377.76 438.28,377.74 438.78,377.70 439.28,377.65 439.78,377.58 440.28,377.47 440.78,377.32 441.28,377.12 441.78,376.86 442.28,376.53 442.78,376.11 443.28,375.60 443.78,374.99 444.28,374.28 444.78,373.48 445.28,372.59 445.78,371.61 446.28,370.56 446.78,369.46 447.28,368.29 447.78,367.07 448.28,365.76 448.78,364.36 449.28,362.82 449.78,361.09 450.28,359.12 450.78,356.84 451.28,354.21 451.78,351.17 452.28,347.68 452.78,343.74 453.28,339.34 453.78,334.51 454.28,329.30 454.78,323.75 455.28,317.96 455.78,312.01 456.28,306.00 456.78,300.03 457.28,294.19 457.78,288.60 458.28,283.36 458.78,278.57 459.28,274.32 459.78,270.73 460.28,267.89 460.78,265.89 461.28,264.80 461.78,264.66 462.28,265.49 462.78,267.23 463.28,269.81 463.78,273.08 464.28,276.85 464.78,280.93 465.28,285.09 465.78,289.17 466.28,293.02 466.78,296.59 467.28,299.88 467.78,302.99 468.28,306.04 468.78,309.21 469.28,312.66 469.78,316.50 470.28,320.60 470.78,324.95 471.28,329.53 471.78,334.30 472.28,339.17 472.78,344.03 473.28,348.78 473.78,353.30 474.28,357.49 474.78,361.28 475.28,364.61 475.78,367.48 476.28,369.88 476.78,371.84 477.28,373.40 477.78,374.62 478.28,375.55 478.78,376.24 479.28,376.74 479.78,377.09 480.28,377.34 480.78,377.50" fill="none" stroke="#55cc55" stroke-width="1.1" />
<polyline points="439.28,377.65 439.98,377.54 440.68,377.35 441.38,377.08 442.08,376.67 442.78,376.11 443.48,375.37 444.18,374.55 444.88,373.37 445.58,372.16 446.28,370.64 446.98,369.08 447.68,367.80 448.38,366.10 449.08,363.39 449.78,361.64 450.48,358.93 451.18,354.43 451.88,351.04 452.58,345.23 453.28,340.08 453.98,332.85 454.68,327.01 455.38,317.32 456.08,307.96 456.78,301.27 457.48,292.08 458.18,284.97 458.88,282.26 459.58,272.16 460.28,269.17 460.98,268.76 461.68,270.04 462.38,265.06 463.08,270.79 463.78,273.42 464.48,277.75 465.18,284.60 465.88,289.09 466.58,297.21 467.28,299.72 467.98,305.76 468.68,307.81 469.38,312.94 470.08,321.50 470.78,327.12 471.48,333.08 472.18,337.69 472.88,345.71 473.58,351.77 474.28,358.11 474.98,362.92 475.68,367.21 476.38,370.51 477.08,372.88 477.78,374.66 478.48,375.85 479.18,376.65" fill="none" stroke="#111" stroke-width="1.1" stroke-dasharray="3,0.9"/>
<line x1="385.80" y1="377.80" x2="507.20" y2="377.80" stroke="#111" stroke-width="1.6" />
<text x="389.70" y="278.40" font-size="8.0" text-anchor="start" font-family="Liberation Serif, serif" textLength="55.5" lengthAdjust="spacingAndGlyphs" >divided(%):53.5</text>
<text x="397.40" y="388.80" font-size="8" text-anchor="middle" font-family="Liberation Serif, serif" >0</text>
<text x="414.60" y="388.80" font-size="8" text-anchor="middle" font-family="Liberation Serif, serif" >10<tspan font-size="5" dy="-3">4</tspan></text>
<text x="444.70" y="388.80" font-size="8" text-anchor="middle" font-family="Liberation Serif, serif" >10<tspan font-size="5" dy="-3">5</tspan></text>
<text x="474.10" y="388.80" font-size="8" text-anchor="middle" font-family="Liberation Serif, serif" >10<tspan font-size="5" dy="-3">6</tspan></text>
<text x="500.30" y="388.80" font-size="8" text-anchor="middle" font-family="Liberation Serif, serif" >10<tspan font-size="5" dy="-3">7</tspan></text>
<text x="427.30" y="399.20" font-size="10.8" text-anchor="middle" font-family="Liberation Serif, serif" textLength="26.3" lengthAdjust="spacingAndGlyphs" >CFSE</text>
<polygon points="400.50,377.80 402.90,377.80 402.20,380.40 401.20,380.40" fill="#111" stroke="none" stroke-width="0" />
<text class="big" x="529.60" y="232.40" font-size="27.2" text-anchor="start" font-family="Liberation Serif, serif" >D</text>
<line x1="566.40" y1="260.40" x2="566.40" y2="377.90" stroke="#111" stroke-width="1.3" />
<line x1="566.40" y1="377.90" x2="761.00" y2="377.90" stroke="#111" stroke-width="1.3" />
<line x1="761.00" y1="377.90" x2="761.00" y2="379.90" stroke="#000" stroke-width="1" />
<line x1="566.40" y1="377.90" x2="568.20" y2="377.90" stroke="#111" stroke-width="1" />
<text x="564.20" y="380.60" font-size="8" text-anchor="end" font-family="Liberation Serif, serif" textLength="9.3" lengthAdjust="spacingAndGlyphs" >0%</text>
<line x1="566.40" y1="354.40" x2="568.20" y2="354.40" stroke="#111" stroke-width="1" />
<text x="564.20" y="357.10" font-size="8" text-anchor="end" font-family="Liberation Serif, serif" textLength="13.9" lengthAdjust="spacingAndGlyphs" >20%</text>
<line x1="566.40" y1="330.90" x2="568.20" y2="330.90" stroke="#111" stroke-width="1" />
<text x="564.20" y="333.60" font-size="8" text-anchor="end" font-family="Liberation Serif, serif" textLength="13.9" lengthAdjust="spacingAndGlyphs" >40%</text>
<line x1="566.40" y1="307.40" x2="568.20" y2="307.40" stroke="#111" stroke-width="1" />
<text x="564.20" y="310.10" font-size="8" text-anchor="end" font-family="Liberation Serif, serif" textLength="13.9" lengthAdjust="spacingAndGlyphs" >60%</text>
<line x1="566.40" y1="283.90" x2="568.20" y2="283.90" stroke="#111" stroke-width="1" />
<text x="564.20" y="286.60" font-size="8" text-anchor="end" font-family="Liberation Serif, serif" textLength="13.9" lengthAdjust="spacingAndGlyphs" >80%</text>
<line x1="566.40" y1="260.40" x2="568.20" y2="260.40" stroke="#111" stroke-width="1" />
<text x="564.20" y="263.10" font-size="8" text-anchor="end" font-family="Liberation Serif, serif" textLength="18.4" lengthAdjust="spacingAndGlyphs" >100%</text>
<text transform="translate(544.00,319.30) rotate(-90)" x="0" y="0" font-size="8.3" text-anchor="middle" font-family="Liberation Serif, serif" textLength="37.5" lengthAdjust="spacingAndGlyphs" >divided(%)</text>
<rect x="589.00" y="303.88" width="20.00" height="74.02" fill="#000" />
<line x1="599.00" y1="300.35" x2="599.00" y2="307.40" stroke="#888" stroke-width="0.9" />
<line x1="596.80" y1="300.35" x2="601.20" y2="300.35" stroke="#888" stroke-width="0.9" />
<rect x="653.80" y="314.21" width="20.20" height="63.69" fill="#000" />
<line x1="663.90" y1="312.45" x2="663.90" y2="315.98" stroke="#888" stroke-width="0.9" />
<line x1="661.70" y1="312.45" x2="666.10" y2="312.45" stroke="#888" stroke-width="0.9" />
<text x="663.90" y="313.05" font-size="8" text-anchor="middle" font-family="Liberation Serif, serif" >*</text>
<rect x="719.00" y="317.27" width="20.20" height="60.63" fill="#000" />
<line x1="729.10" y1="314.45" x2="729.10" y2="320.09" stroke="#888" stroke-width="0.9" />
<line x1="726.90" y1="314.45" x2="731.30" y2="314.45" stroke="#888" stroke-width="0.9" />
<text x="729.10" y="315.05" font-size="8" text-anchor="middle" font-family="Liberation Serif, serif" >*</text>
<text x="598.60" y="386.00" font-size="8" text-anchor="middle" font-family="Liberation Serif, serif" textLength="25.5" lengthAdjust="spacingAndGlyphs" >0mg/ml</text>
<text x="665.70" y="386.00" font-size="8" text-anchor="middle" font-family="Liberation Serif, serif" textLength="31" lengthAdjust="spacingAndGlyphs" >0.5mg/ml</text>
<text x="730.90" y="386.00" font-size="8" text-anchor="middle" font-family="Liberation Serif, serif" textLength="24" lengthAdjust="spacingAndGlyphs" >1mg/ml</text>
<text x="766.20" y="385.10" font-size="7.4" text-anchor="start" font-family="Liberation Sans, sans-serif" textLength="15.3" lengthAdjust="spacingAndGlyphs" >TAA</text>
<defs><pattern id="hatch" patternUnits="userSpaceOnUse" width="2.1" height="2.1" patternTransform="rotate(-45)">
<rect width="2.1" height="2.1" fill="#f0f0ff"/><line x1="0" y1="0" x2="0" y2="2.1" stroke="#343c9c" stroke-width="1.0"/></pattern></defs>
<text class="big" x="0.40" y="420.00" font-size="27.2" text-anchor="start" font-family="Liberation Serif, serif" >E</text>
<text class="big" x="101.60" y="440.30" font-size="14" text-anchor="middle" font-family="Liberation Serif, serif" textLength="40.6" lengthAdjust="spacingAndGlyphs" >control</text>
<text class="big" x="352.50" y="424.90" font-size="14" text-anchor="middle" font-family="Liberation Serif, serif" textLength="74.4" lengthAdjust="spacingAndGlyphs" >TAA(mg/ml)</text>
<line x1="275.80" y1="428.00" x2="438.90" y2="428.00" stroke="#484848" stroke-width="1.1" />
<text class="big" x="278.20" y="441.60" font-size="14" text-anchor="middle" font-family="Liberation Serif, serif" textLength="16.2" lengthAdjust="spacingAndGlyphs" >0.5</text>
<text class="big" x="437.20" y="441.60" font-size="14" text-anchor="middle" font-family="Liberation Serif, serif" >1</text>
<line x1="27.30" y1="444.50" x2="27.30" y2="570.30" stroke="#333" stroke-width="1.0" />
<line x1="27.30" y1="570.30" x2="175.00" y2="570.30" stroke="#333" stroke-width="1.2" />
<line x1="26.20" y1="570.30" x2="27.30" y2="570.30" stroke="#555" stroke-width="0.7" />
<line x1="26.20" y1="566.12" x2="27.30" y2="566.12" stroke="#555" stroke-width="0.7" />
<line x1="26.20" y1="561.94" x2="27.30" y2="561.94" stroke="#555" stroke-width="0.7" />
<line x1="26.20" y1="557.76" x2="27.30" y2="557.76" stroke="#555" stroke-width="0.7" />
<line x1="26.20" y1="553.58" x2="27.30" y2="553.58" stroke="#555" stroke-width="0.7" />
<line x1="26.20" y1="549.40" x2="27.30" y2="549.40" stroke="#555" stroke-width="0.7" />
<line x1="26.20" y1="545.22" x2="27.30" y2="545.22" stroke="#555" stroke-width="0.7" />
<line x1="26.20" y1="541.04" x2="27.30" y2="541.04" stroke="#555" stroke-width="0.7" />
<line x1="26.20" y1="536.86" x2="27.30" y2="536.86" stroke="#555" stroke-width="0.7" />
<line x1="26.20" y1="532.68" x2="27.30" y2="532.68" stroke="#555" stroke-width="0.7" />
<line x1="26.20" y1="528.50" x2="27.30" y2="528.50" stroke="#555" stroke-width="0.7" />
<line x1="26.20" y1="524.32" x2="27.30" y2="524.32" stroke="#555" stroke-width="0.7" />
<line x1="26.20" y1="520.14" x2="27.30" y2="520.14" stroke="#555" stroke-width="0.7" />
<line x1="26.20" y1="515.96" x2="27.30" y2="515.96" stroke="#555" stroke-width="0.7" />
<line x1="26.20" y1="511.78" x2="27.30" y2="511.78" stroke="#555" stroke-width="0.7" />
<line x1="26.20" y1="507.60" x2="27.30" y2="507.60" stroke="#555" stroke-width="0.7" />
<line x1="26.20" y1="503.42" x2="27.30" y2="503.42" stroke="#555" stroke-width="0.7" />
<line x1="26.20" y1="499.24" x2="27.30" y2="499.24" stroke="#555" stroke-width="0.7" />
<line x1="26.20" y1="495.06" x2="27.30" y2="495.06" stroke="#555" stroke-width="0.7" />
<line x1="26.20" y1="490.88" x2="27.30" y2="490.88" stroke="#555" stroke-width="0.7" />
<line x1="26.20" y1="486.70" x2="27.30" y2="486.70" stroke="#555" stroke-width="0.7" />
<line x1="26.20" y1="482.52" x2="27.30" y2="482.52" stroke="#555" stroke-width="0.7" />
<line x1="26.20" y1="478.34" x2="27.30" y2="478.34" stroke="#555" stroke-width="0.7" />
<line x1="26.20" y1="474.16" x2="27.30" y2="474.16" stroke="#555" stroke-width="0.7" />
<line x1="26.20" y1="469.98" x2="27.30" y2="469.98" stroke="#555" stroke-width="0.7" />
<line x1="26.20" y1="465.80" x2="27.30" y2="465.80" stroke="#555" stroke-width="0.7" />
<line x1="26.20" y1="461.62" x2="27.30" y2="461.62" stroke="#555" stroke-width="0.7" />
<line x1="26.20" y1="457.44" x2="27.30" y2="457.44" stroke="#555" stroke-width="0.7" />
<line x1="26.20" y1="453.26" x2="27.30" y2="453.26" stroke="#555" stroke-width="0.7" />
<line x1="26.20" y1="449.08" x2="27.30" y2="449.08" stroke="#555" stroke-width="0.7" />
<line x1="24.50" y1="570.30" x2="27.30" y2="570.30" stroke="#444" stroke-width="0.8" />
<text transform="translate(22.00,570.30) rotate(-90)" x="0" y="0" font-size="8.3" text-anchor="middle" font-family="Liberation Serif, serif" textLength="3.95" lengthAdjust="spacingAndGlyphs" >0</text>
<line x1="24.50" y1="549.40" x2="27.30" y2="549.40" stroke="#444" stroke-width="0.8" />
<text transform="translate(22.00,549.40) rotate(-90)" x="0" y="0" font-size="8.3" text-anchor="middle" font-family="Liberation Serif, serif" textLength="11.850000000000001" lengthAdjust="spacingAndGlyphs" >100</text>
<line x1="24.50" y1="528.50" x2="27.30" y2="528.50" stroke="#444" stroke-width="0.8" />
<text transform="translate(22.00,528.50) rotate(-90)" x="0" y="0" font-size="8.3" text-anchor="middle" font-family="Liberation Serif, serif" textLength="11.850000000000001" lengthAdjust="spacingAndGlyphs" >200</text>
<line x1="24.50" y1="507.60" x2="27.30" y2="507.60" stroke="#444" stroke-width="0.8" />
<text transform="translate(22.00,507.60) rotate(-90)" x="0" y="0" font-size="8.3" text-anchor="middle" font-family="Liberation Serif, serif" textLength="11.850000000000001" lengthAdjust="spacingAndGlyphs" >300</text>
<line x1="24.50" y1="486.70" x2="27.30" y2="486.70" stroke="#444" stroke-width="0.8" />
<text transform="translate(22.00,486.70) rotate(-90)" x="0" y="0" font-size="8.3" text-anchor="middle" font-family="Liberation Serif, serif" textLength="11.850000000000001" lengthAdjust="spacingAndGlyphs" >400</text>
<line x1="24.50" y1="465.80" x2="27.30" y2="465.80" stroke="#444" stroke-width="0.8" />
<text transform="translate(22.00,465.80) rotate(-90)" x="0" y="0" font-size="8.3" text-anchor="middle" font-family="Liberation Serif, serif" textLength="11.850000000000001" lengthAdjust="spacingAndGlyphs" >500</text>
<line x1="27.30" y1="570.30" x2="27.30" y2="572.10" stroke="#555" stroke-width="0.7" />
<line x1="33.40" y1="570.30" x2="33.40" y2="571.40" stroke="#555" stroke-width="0.7" />
<line x1="39.50" y1="570.30" x2="39.50" y2="571.40" stroke="#555" stroke-width="0.7" />
<line x1="45.60" y1="570.30" x2="45.60" y2="571.40" stroke="#555" stroke-width="0.7" />
<line x1="51.70" y1="570.30" x2="51.70" y2="571.40" stroke="#555" stroke-width="0.7" />
<line x1="57.80" y1="570.30" x2="57.80" y2="572.10" stroke="#555" stroke-width="0.7" />
<line x1="63.90" y1="570.30" x2="63.90" y2="571.40" stroke="#555" stroke-width="0.7" />
<line x1="70.00" y1="570.30" x2="70.00" y2="571.40" stroke="#555" stroke-width="0.7" />
<line x1="76.10" y1="570.30" x2="76.10" y2="571.40" stroke="#555" stroke-width="0.7" />
<line x1="82.20" y1="570.30" x2="82.20" y2="571.40" stroke="#555" stroke-width="0.7" />
<line x1="88.30" y1="570.30" x2="88.30" y2="572.10" stroke="#555" stroke-width="0.7" />
<line x1="94.40" y1="570.30" x2="94.40" y2="571.40" stroke="#555" stroke-width="0.7" />
<line x1="100.50" y1="570.30" x2="100.50" y2="571.40" stroke="#555" stroke-width="0.7" />
<line x1="106.60" y1="570.30" x2="106.60" y2="571.40" stroke="#555" stroke-width="0.7" />
<line x1="112.70" y1="570.30" x2="112.70" y2="571.40" stroke="#555" stroke-width="0.7" />
<line x1="118.80" y1="570.30" x2="118.80" y2="572.10" stroke="#555" stroke-width="0.7" />
<line x1="124.90" y1="570.30" x2="124.90" y2="571.40" stroke="#555" stroke-width="0.7" />
<line x1="131.00" y1="570.30" x2="131.00" y2="571.40" stroke="#555" stroke-width="0.7" />
<line x1="137.10" y1="570.30" x2="137.10" y2="571.40" stroke="#555" stroke-width="0.7" />
<line x1="143.20" y1="570.30" x2="143.20" y2="571.40" stroke="#555" stroke-width="0.7" />
<line x1="149.30" y1="570.30" x2="149.30" y2="572.10" stroke="#555" stroke-width="0.7" />
<line x1="155.40" y1="570.30" x2="155.40" y2="571.40" stroke="#555" stroke-width="0.7" />
<line x1="161.50" y1="570.30" x2="161.50" y2="571.40" stroke="#555" stroke-width="0.7" />
<line x1="167.60" y1="570.30" x2="167.60" y2="571.40" stroke="#555" stroke-width="0.7" />
<text x="29.30" y="581.30" font-size="8.4" text-anchor="middle" font-family="Liberation Serif, serif" textLength="4.1" lengthAdjust="spacingAndGlyphs" >0</text>
<text x="57.70" y="581.30" font-size="8.4" text-anchor="middle" font-family="Liberation Serif, serif" textLength="8.2" lengthAdjust="spacingAndGlyphs" >50</text>
<text x="90.20" y="581.30" font-size="8.4" text-anchor="middle" font-family="Liberation Serif, serif" textLength="12.299999999999999" lengthAdjust="spacingAndGlyphs" >100</text>
<text x="120.80" y="581.30" font-size="8.4" text-anchor="middle" font-family="Liberation Serif, serif" textLength="12.299999999999999" lengthAdjust="spacingAndGlyphs" >150</text>
<text x="151.20" y="581.30" font-size="8.4" text-anchor="middle" font-family="Liberation Serif, serif" textLength="12.299999999999999" lengthAdjust="spacingAndGlyphs" >200</text>
<text transform="translate(11.20,504.40) rotate(-90)" x="0" y="0" font-size="8.5" text-anchor="middle" font-family="Liberation Serif, serif" textLength="53.5" lengthAdjust="spacingAndGlyphs" >cell number(%)</text>
<text x="61.30" y="590.30" font-size="8.6" text-anchor="start" font-family="Liberation Serif, serif" textLength="75" lengthAdjust="spacingAndGlyphs" >channel(BL2-APE-A)</text>
<text x="99.40" y="461.10" font-size="8.6" text-anchor="start" font-family="Liberation Serif, serif" textLength="51.0" lengthAdjust="spacingAndGlyphs" >G0/G1:74.27%</text>
<text x="99.40" y="468.60" font-size="8.6" text-anchor="start" font-family="Liberation Serif, serif" textLength="46.75" lengthAdjust="spacingAndGlyphs" >G2/M:10.37%</text>
<text x="99.40" y="476.40" font-size="8.6" text-anchor="start" font-family="Liberation Serif, serif" textLength="34.0" lengthAdjust="spacingAndGlyphs" >S:15.36%</text>
<polygon points="73.78,570.30 73.78,570.30 74.28,570.30 74.78,570.30 75.28,570.30 75.78,570.30 76.28,570.30 76.78,570.30 77.28,570.30 77.78,570.30 78.28,570.30 78.78,570.30 79.28,570.30 79.78,570.30 80.28,570.30 80.78,570.30 81.28,570.30 81.78,570.30 82.28,570.15 82.78,570.11 83.28,570.06 83.78,570.00 84.28,569.92 84.78,569.83 85.28,569.73 85.78,569.61 86.28,569.47 86.78,569.31 87.28,569.15 87.78,568.98 88.28,568.80 88.78,568.63 89.28,568.47 89.78,568.32 90.28,568.18 90.78,568.06 91.28,567.95 91.78,567.87 92.28,567.79 92.78,567.74 93.28,567.69 93.78,567.65 94.28,567.62 94.78,567.59 95.28,567.57 95.78,567.56 96.28,567.54 96.78,567.53 97.28,567.53 97.78,567.52 98.28,567.52 98.78,567.51 99.28,567.51 99.78,567.51 100.28,567.51 100.78,567.50 101.28,567.50 101.78,567.50 102.28,567.50 102.78,567.50 103.28,567.50 103.78,567.50 104.28,567.50 104.78,567.50 105.28,567.50 105.78,567.50 106.28,567.50 106.78,567.50 107.28,567.50 107.78,567.50 108.28,567.50 108.78,567.50 109.28,567.50 109.78,567.50 110.28,567.50 110.78,567.50 111.28,567.50 111.78,567.50 112.28,567.50 112.78,567.50 113.28,567.50 113.78,567.50 114.28,567.50 114.78,567.50 115.28,567.50 115.78,567.50 116.28,567.50 116.78,567.50 117.28,567.50 117.78,567.51 118.28,567.51 118.78,567.51 119.28,567.51 119.78,567.52 120.28,567.52 120.78,567.53 121.28,567.54 121.78,567.55 122.28,567.56 122.78,567.57 123.28,567.59 123.78,567.62 124.28,567.65 124.78,567.69 125.28,567.74 125.78,567.80 126.28,567.88 126.78,567.97 127.28,568.07 127.78,568.19 128.28,568.33 128.78,568.49 129.28,568.65 129.78,568.82 130.28,569.00 130.78,569.17 131.28,569.33 131.78,569.48 132.28,569.62 132.78,569.74 133.28,569.85 133.78,569.93 134.28,570.01 134.78,570.06 135.28,570.11 135.78,570.15 136.28,570.30 136.78,570.30 137.28,570.30 137.78,570.30 138.28,570.30 138.78,570.30 139.28,570.30 139.78,570.30 140.28,570.30 140.78,570.30 141.28,570.30 141.78,570.30 142.28,570.30 142.78,570.30 143.28,570.30 143.78,570.30 144.28,570.30 144.78,570.30 145.28,570.30 145.78,570.30 146.28,570.30 146.78,570.30 147.28,570.30 147.78,570.30 148.28,570.30 148.78,570.30 149.28,570.30 149.78,570.30 150.28,570.30 150.78,570.30 151.28,570.30 151.78,570.30 152.28,570.30 152.78,570.30 153.28,570.30 153.78,570.30 154.28,570.30 154.78,570.30 155.28,570.30 155.78,570.30 156.28,570.30 156.78,570.30 157.28,570.30 157.78,570.30 158.28,570.30 158.78,570.30 159.02,570.30" fill="url(#hatch)" stroke="#222" stroke-width="0.6" />
<polygon points="121.70,570.26 122.10,570.25 122.50,570.24 122.90,570.22 123.30,570.20 123.70,570.18 124.10,570.15 124.50,570.12 124.90,570.08 125.30,570.03 125.70,569.98 126.10,569.92 126.50,569.85 126.90,569.76 127.30,569.67 127.70,569.56 128.10,569.44 128.50,569.31 128.90,569.16 129.30,569.00 129.70,568.82 130.10,568.62 130.50,568.41 130.90,568.18 131.30,567.94 131.70,567.68 132.10,567.41 132.50,567.13 132.90,566.84 133.30,566.55 133.70,566.25 134.10,565.95 134.50,565.65 134.90,565.36 135.30,565.08 135.70,564.81 136.10,564.56 136.50,564.33 136.90,564.12 137.30,563.94 137.70,563.78 138.10,563.66 138.50,563.57 138.90,563.52 139.30,563.50 139.70,563.52 140.10,563.56 140.50,563.64 140.90,563.75 141.30,563.89 141.70,564.06 142.10,564.25 142.50,564.46 142.90,564.69 143.30,564.94 143.70,565.20 144.10,565.47 144.50,565.75 144.90,566.03 145.30,566.32 145.70,566.60 146.10,566.88 146.50,567.15 146.90,567.42 147.30,567.67 147.70,567.92 148.10,568.15 148.50,568.37 148.90,568.57 149.30,568.76 149.70,568.94 150.10,569.10 150.50,569.25 150.90,569.38 151.30,569.50 151.70,569.61 152.10,569.70 152.50,569.79 152.90,569.86 153.30,569.93 153.70,569.99 154.10,570.04 154.50,570.08 154.90,570.12 155.30,570.15 155.70,570.18 156.10,570.20 156.50,570.22 156.90,570.23 157.30,570.24 157.70,570.26" fill="#ee1111" stroke="#111" stroke-width="0.6" />
<polygon points="74.06,569.84 74.31,569.68 74.56,569.48 74.81,569.22 75.06,568.88 75.31,568.47 75.56,567.94 75.81,567.30 76.06,566.50 76.31,565.53 76.56,564.37 76.81,562.98 77.06,561.33 77.31,559.40 77.56,557.15 77.81,554.57 78.06,551.64 78.31,548.33 78.56,544.65 78.81,540.58 79.06,536.14 79.31,531.35 79.56,526.25 79.81,520.86 80.06,515.26 80.31,509.52 80.56,503.70 80.81,497.91 81.06,492.24 81.31,486.79 81.56,481.68 81.81,476.99 82.06,472.84 82.31,469.31 82.56,466.49 82.81,464.43 83.06,463.19 83.31,462.80 83.56,463.13 83.81,464.08 84.06,465.61 84.31,467.72 84.56,470.36 84.81,473.48 85.06,477.05 85.31,481.00 85.56,485.27 85.81,489.80 86.06,494.53 86.31,499.38 86.56,504.31 86.81,509.24 87.06,514.13 87.31,518.92 87.56,523.58 87.81,528.05 88.06,532.31 88.31,536.34 88.56,540.12 88.81,543.63 89.06,546.87 89.31,549.83 89.56,552.52 89.81,554.94 90.06,557.11 90.31,559.04 90.56,560.74 90.81,562.23 91.06,563.53 91.31,564.65 91.56,565.61 91.81,566.43 92.06,567.13 92.31,567.71 92.56,568.20 92.81,568.61 93.06,568.94 93.31,569.22 93.56,569.44 93.81,569.63 94.06,569.77" fill="#ee1111" stroke="#111" stroke-width="0.7" />
<polygon points="74.06,570.30 74.06,570.30 74.46,570.30 74.86,570.30 75.26,570.30 75.66,570.30 76.06,570.30 76.46,570.30 76.86,570.30 77.26,570.30 77.66,570.30 78.06,570.30 78.46,570.30 78.86,570.30 79.26,570.30 79.66,570.30 80.06,570.30 80.46,570.30 80.86,570.30 81.26,570.30 81.66,570.30 82.06,570.16 82.46,570.13 82.86,570.10 83.26,570.06 83.66,570.01 84.06,569.96 84.46,569.89 84.86,569.82 85.26,569.73 85.66,569.64 86.06,569.53 86.46,569.41 86.86,569.29 87.26,569.16 87.66,569.02 88.06,568.88 88.46,568.74 88.86,568.60 89.26,568.47 89.66,568.35 90.06,568.24 90.46,568.13 90.86,568.04 91.26,567.96 91.66,567.89 92.06,567.83 92.46,568.02 92.86,568.68 93.26,569.17 93.66,569.52 94.06,569.77 94.19,570.30" fill="#b80018" stroke="none" stroke-width="0" />
<polyline points="77.70,570.30 78.20,570.30 78.70,570.30 79.20,570.30 79.70,570.30 80.20,570.30 80.70,570.30 81.20,570.30 81.70,570.30 82.20,570.15 82.70,570.12 83.20,570.07 83.70,570.01 84.20,569.94 84.70,569.85 85.20,569.75 85.70,569.63 86.20,569.49 86.70,569.34 87.20,569.18 87.70,569.00 88.20,568.83 88.70,568.66 89.20,568.49 89.70,568.34 90.20,568.20 90.70,568.08 91.20,567.97 91.70,567.88 92.20,567.81 92.70,567.74 93.20,567.69 93.70,567.65 94.20,567.62 94.70,567.59 95.20,567.57 95.70,567.56 96.20,567.55 96.70,567.54 97.20,567.53 97.70,567.52 98.20,567.52 98.70,567.51 99.20,567.51 99.70,567.51 100.20,567.51 100.70,567.50 101.20,567.50 101.70,567.50 102.20,567.50 102.70,567.50 103.20,567.50 103.70,567.50 104.20,567.50 104.70,567.50 105.20,567.50 105.70,567.50 106.20,567.50 106.70,567.50 107.20,567.50 107.70,567.50 108.20,567.50 108.70,567.50 109.20,567.50 109.70,567.50 110.20,567.50 110.70,567.50 111.20,567.50 111.70,567.50 112.20,567.50 112.70,567.50 113.20,567.50 113.70,567.50 114.20,567.50 114.70,567.50 115.20,567.50 115.70,567.50 116.20,567.50 116.70,567.50 117.20,567.50 117.70,567.51 118.20,567.51 118.70,567.51 119.20,567.51 119.70,567.52 120.20,567.52 120.70,567.53 121.20,567.53 121.70,567.54 122.20,567.56 122.70,567.57 123.20,567.59 123.70,567.62 124.20,567.65 124.70,567.68 125.20,567.73 125.70,567.79 126.20,567.86 126.70,567.95 127.20,568.05 127.70,568.17 128.20,568.31 128.70,568.46 129.20,568.62 129.70,568.80 130.20,568.97 130.70,569.14 131.20,569.31 131.70,569.46 132.20,569.60 132.70,569.72 133.20,569.83 133.70,569.92 134.20,569.99 134.70,570.06 135.20,570.11 135.70,570.15 136.20,570.30 136.70,570.30 137.20,570.30 137.70,570.30 138.20,570.30 138.70,570.30 139.20,570.30 139.70,570.30 140.20,570.30 140.70,570.30 141.20,570.30 141.70,570.30 142.20,570.30 142.70,570.30 143.20,570.30 143.70,570.30 144.20,570.30 144.70,570.30 145.20,570.30 145.70,570.30 146.20,570.30 146.70,570.30 147.20,570.30 147.70,570.30 148.20,570.30 148.70,570.30 149.20,570.30 149.70,570.30 150.20,570.30 150.70,570.30 151.20,570.30 151.70,570.30 152.20,570.30 152.70,570.30 153.20,570.30 153.70,570.30 154.20,570.30 154.70,570.30 155.20,570.30 155.70,570.30 156.20,570.30 156.70,570.30 157.20,570.30 157.70,570.30 158.20,570.30 158.70,570.30" fill="none" stroke="#222" stroke-width="0.7" />
<polyline points="73.78,569.97 74.18,569.77 74.58,569.46 74.98,569.00 75.38,568.33 75.78,567.38 76.18,566.06 76.58,564.27 76.98,561.88 77.38,558.80 77.78,554.90 78.18,550.10 78.58,544.34 78.98,537.60 79.38,529.95 79.78,521.52 80.18,512.52 80.58,503.24 80.98,494.03 81.38,485.32 81.78,477.53 82.18,470.92 82.58,466.12 82.98,463.29 83.38,462.58 83.78,463.63 84.18,466.19 84.58,470.16 84.98,475.36 85.38,481.57 85.78,488.55 86.18,496.04 86.58,503.78 86.98,511.52 87.38,519.06 87.78,526.20 88.18,532.82 88.58,538.81 88.98,544.12 89.38,548.74 89.78,552.68 90.18,555.97 90.58,558.67 90.98,560.85 91.38,562.57 91.78,563.91 92.18,564.93 92.58,565.70 92.98,566.26 93.38,566.67 93.78,566.95 94.18,567.15 94.58,567.29 94.98,567.38 95.38,567.44 95.78,567.47 96.18,567.49 96.58,567.51 96.98,567.51 97.38,567.51 97.78,567.51 98.18,567.51 98.58,567.51 98.98,567.51 99.38,567.51 99.78,567.51 100.18,567.51 100.58,567.51 100.98,567.50 101.38,567.50 101.78,567.50 102.18,567.50 102.58,567.50 102.98,567.50 103.38,567.50 103.78,567.50 104.18,567.50 104.58,567.50 104.98,567.50 105.38,567.50 105.78,567.50 106.18,567.50 106.58,567.50 106.98,567.50 107.38,567.50 107.78,567.50 108.18,567.50 108.58,567.50 108.98,567.50 109.38,567.50 109.78,567.50 110.18,567.50 110.58,567.50 110.98,567.50 111.38,567.50 111.78,567.50 112.18,567.50 112.58,567.50 112.98,567.50 113.38,567.50 113.78,567.50 114.18,567.50 114.58,567.50 114.98,567.50 115.38,567.50 115.78,567.50 116.18,567.50 116.58,567.50 116.98,567.50 117.38,567.50 117.78,567.50 118.18,567.50 118.58,567.50 118.98,567.50 119.38,567.50 119.78,567.50 120.18,567.50 120.58,567.50 120.98,567.50 121.38,567.50 121.78,567.50 122.18,567.50 122.58,567.50 122.98,567.50 123.38,567.50 123.78,567.49 124.18,567.49 124.58,567.49 124.98,567.48 125.38,567.48 125.78,567.47 126.18,567.47 126.58,567.46 126.98,567.45 127.38,567.45 127.78,567.44 128.18,567.42 128.58,567.41 128.98,567.38 129.38,567.35 129.78,567.30 130.18,567.24 130.58,567.17 130.98,567.07 131.38,566.95 131.78,566.81 132.18,566.65 132.58,566.47 132.98,566.27 133.38,566.05 133.78,565.82 134.18,565.58 134.58,565.34 134.98,565.09 135.38,564.85 135.78,564.61 136.18,564.51 136.58,564.28 136.98,564.08 137.38,563.90 137.78,563.75 138.18,563.64 138.58,563.56 138.98,563.51 139.38,563.50 139.78,563.52 140.18,563.58 140.58,563.66 140.98,563.78 141.38,563.92 141.78,564.09 142.18,564.29 142.58,564.50 142.98,564.74 143.38,564.99 143.78,565.25 144.18,565.53 144.58,565.81 144.98,566.09 145.38,566.37 145.78,566.66 146.18,566.94 146.58,567.21 146.98,567.47 147.38,567.72 147.78,567.96 148.18,568.19 148.58,568.41 148.98,568.61 149.38,568.80 149.78,568.97 150.18,569.13 150.58,569.27 150.98,569.40 151.38,569.52 151.78,569.63 152.18,569.72 152.58,569.81 152.98,569.88 153.38,569.94 153.78,570.00 154.18,570.05 154.58,570.09 154.98,570.12 155.38,570.15 155.78,570.18 156.18,570.20 156.58,570.22 156.98,570.23 157.38,570.25 157.78,570.26 158.18,570.27 158.58,570.27 158.98,570.28" fill="none" stroke="#111" stroke-width="0.9" />
<polyline points="73.78,569.97 74.38,569.63 74.98,569.00 75.58,567.90 76.18,566.06 76.78,563.16 77.38,558.80 77.98,552.62 78.58,544.34 79.18,533.89 79.78,521.52 80.38,507.89 80.98,494.03 81.58,481.28 82.18,470.92 82.78,464.45 83.38,462.58 83.98,464.73 84.58,468.68 85.18,475.96 85.78,484.13 86.38,496.64 86.98,507.38 87.58,517.50 88.18,528.59 88.78,535.48 89.38,541.85 89.98,546.73 90.58,553.91 91.18,556.50 91.78,560.01 92.38,559.22 92.98,561.32 93.58,565.21 94.18,562.45 94.78,563.29 95.38,565.12 95.98,565.70 96.58,567.83 97.18,568.61 97.78,566.69 98.38,568.65 98.98,568.18 99.58,568.00 100.18,567.51 100.78,567.50 101.38,567.50 101.98,567.50 102.58,567.50 103.18,567.50 103.78,567.50 104.38,567.50 104.98,567.50 105.58,567.50 106.18,567.50 106.78,567.50 107.38,567.50 107.98,567.50 108.58,567.50 109.18,567.50 109.78,567.50 110.38,567.50 110.98,567.50 111.58,567.50 112.18,567.50 112.78,567.50 113.38,567.50 113.98,567.50 114.58,567.50 115.18,567.50 115.78,567.50 116.38,567.50 116.98,567.50 117.58,567.50 118.18,567.50 118.78,567.50 119.38,567.50 119.98,567.50 120.58,567.50 121.18,567.50 121.78,567.50 122.38,567.50 122.98,567.50 123.58,567.49 124.18,567.49 124.78,567.48 125.38,568.58 125.98,567.27 126.58,567.32 127.18,566.09 127.78,567.02 128.38,566.60 128.98,566.92 129.58,566.28 130.18,566.68 130.78,566.91 131.38,564.34 131.98,563.82 132.58,563.65 133.18,563.31 133.78,563.70 134.38,563.13 134.98,562.16 135.58,562.10 136.18,559.54 136.78,560.19 137.38,558.59 137.98,559.92 138.58,558.35 139.18,559.01 139.78,562.00 140.38,561.93 140.98,560.44 141.58,562.39 142.18,561.50 142.78,563.88 143.38,565.45 143.98,564.35 144.58,564.45 145.18,566.48 145.78,567.51 146.38,567.23 146.98,565.75 147.58,566.76 148.18,569.03 148.78,568.97 149.38,569.69 149.98,570.07 150.58,569.27 151.18,569.47 151.78,569.63 152.38,569.77 152.98,569.88 153.58,569.97 154.18,570.05 154.78,570.11 155.38,570.15 155.98,570.19 156.58,570.22 157.18,570.24 157.78,570.26 158.38,570.27 158.98,570.28 159.58,570.28 160.18,570.29 160.78,570.29 161.38,570.30 161.98,570.30" fill="none" stroke="#555" stroke-width="0.7" />
<polygon points="82.60,571.20 84.70,575.20 80.50,575.20" fill="#000" stroke="none" stroke-width="0" />
<polygon points="138.50,571.20 140.60,575.20 136.40,575.20" fill="#000" stroke="none" stroke-width="0" />
<line x1="197.10" y1="444.50" x2="197.10" y2="570.30" stroke="#333" stroke-width="1.0" />
<line x1="197.10" y1="570.30" x2="340.50" y2="570.30" stroke="#333" stroke-width="1.2" />
<line x1="196.00" y1="570.30" x2="197.10" y2="570.30" stroke="#555" stroke-width="0.7" />
<line x1="196.00" y1="565.17" x2="197.10" y2="565.17" stroke="#555" stroke-width="0.7" />
<line x1="196.00" y1="560.04" x2="197.10" y2="560.04" stroke="#555" stroke-width="0.7" />
<line x1="196.00" y1="554.91" x2="197.10" y2="554.91" stroke="#555" stroke-width="0.7" />
<line x1="196.00" y1="549.78" x2="197.10" y2="549.78" stroke="#555" stroke-width="0.7" />
<line x1="196.00" y1="544.65" x2="197.10" y2="544.65" stroke="#555" stroke-width="0.7" />
<line x1="196.00" y1="539.52" x2="197.10" y2="539.52" stroke="#555" stroke-width="0.7" />
<line x1="196.00" y1="534.39" x2="197.10" y2="534.39" stroke="#555" stroke-width="0.7" />
<line x1="196.00" y1="529.26" x2="197.10" y2="529.26" stroke="#555" stroke-width="0.7" />
<line x1="196.00" y1="524.13" x2="197.10" y2="524.13" stroke="#555" stroke-width="0.7" />
<line x1="196.00" y1="519.00" x2="197.10" y2="519.00" stroke="#555" stroke-width="0.7" />
<line x1="196.00" y1="513.87" x2="197.10" y2="513.87" stroke="#555" stroke-width="0.7" />
<line x1="196.00" y1="508.74" x2="197.10" y2="508.74" stroke="#555" stroke-width="0.7" />
<line x1="196.00" y1="503.61" x2="197.10" y2="503.61" stroke="#555" stroke-width="0.7" />
<line x1="196.00" y1="498.48" x2="197.10" y2="498.48" stroke="#555" stroke-width="0.7" />
<line x1="196.00" y1="493.35" x2="197.10" y2="493.35" stroke="#555" stroke-width="0.7" />
<line x1="196.00" y1="488.22" x2="197.10" y2="488.22" stroke="#555" stroke-width="0.7" />
<line x1="196.00" y1="483.09" x2="197.10" y2="483.09" stroke="#555" stroke-width="0.7" />
<line x1="196.00" y1="477.96" x2="197.10" y2="477.96" stroke="#555" stroke-width="0.7" />
<line x1="196.00" y1="472.83" x2="197.10" y2="472.83" stroke="#555" stroke-width="0.7" />
<line x1="196.00" y1="467.70" x2="197.10" y2="467.70" stroke="#555" stroke-width="0.7" />
<line x1="196.00" y1="462.57" x2="197.10" y2="462.57" stroke="#555" stroke-width="0.7" />
<line x1="196.00" y1="457.44" x2="197.10" y2="457.44" stroke="#555" stroke-width="0.7" />
<line x1="196.00" y1="452.31" x2="197.10" y2="452.31" stroke="#555" stroke-width="0.7" />
<line x1="196.00" y1="447.18" x2="197.10" y2="447.18" stroke="#555" stroke-width="0.7" />
<line x1="194.30" y1="570.30" x2="197.10" y2="570.30" stroke="#444" stroke-width="0.8" />
<text transform="translate(191.80,570.30) rotate(-90)" x="0" y="0" font-size="8.3" text-anchor="middle" font-family="Liberation Serif, serif" textLength="3.95" lengthAdjust="spacingAndGlyphs" >0</text>
<line x1="194.30" y1="544.65" x2="197.10" y2="544.65" stroke="#444" stroke-width="0.8" />
<text transform="translate(191.80,544.65) rotate(-90)" x="0" y="0" font-size="8.3" text-anchor="middle" font-family="Liberation Serif, serif" textLength="7.9" lengthAdjust="spacingAndGlyphs" >60</text>
<line x1="194.30" y1="519.00" x2="197.10" y2="519.00" stroke="#444" stroke-width="0.8" />
<text transform="translate(191.80,519.00) rotate(-90)" x="0" y="0" font-size="8.3" text-anchor="middle" font-family="Liberation Serif, serif" textLength="11.850000000000001" lengthAdjust="spacingAndGlyphs" >120</text>
<line x1="194.30" y1="493.35" x2="197.10" y2="493.35" stroke="#444" stroke-width="0.8" />
<text transform="translate(191.80,493.35) rotate(-90)" x="0" y="0" font-size="8.3" text-anchor="middle" font-family="Liberation Serif, serif" textLength="11.850000000000001" lengthAdjust="spacingAndGlyphs" >180</text>
<line x1="194.30" y1="467.70" x2="197.10" y2="467.70" stroke="#444" stroke-width="0.8" />
<text transform="translate(191.80,467.70) rotate(-90)" x="0" y="0" font-size="8.3" text-anchor="middle" font-family="Liberation Serif, serif" textLength="11.850000000000001" lengthAdjust="spacingAndGlyphs" >240</text>
<line x1="197.10" y1="570.30" x2="197.10" y2="572.10" stroke="#555" stroke-width="0.7" />
<line x1="203.20" y1="570.30" x2="203.20" y2="571.40" stroke="#555" stroke-width="0.7" />
<line x1="209.30" y1="570.30" x2="209.30" y2="571.40" stroke="#555" stroke-width="0.7" />
<line x1="215.40" y1="570.30" x2="215.40" y2="571.40" stroke="#555" stroke-width="0.7" />
<line x1="221.50" y1="570.30" x2="221.50" y2="571.40" stroke="#555" stroke-width="0.7" />
<line x1="227.60" y1="570.30" x2="227.60" y2="572.10" stroke="#555" stroke-width="0.7" />
<line x1="233.70" y1="570.30" x2="233.70" y2="571.40" stroke="#555" stroke-width="0.7" />
<line x1="239.80" y1="570.30" x2="239.80" y2="571.40" stroke="#555" stroke-width="0.7" />
<line x1="245.90" y1="570.30" x2="245.90" y2="571.40" stroke="#555" stroke-width="0.7" />
<line x1="252.00" y1="570.30" x2="252.00" y2="571.40" stroke="#555" stroke-width="0.7" />
<line x1="258.10" y1="570.30" x2="258.10" y2="572.10" stroke="#555" stroke-width="0.7" />
<line x1="264.20" y1="570.30" x2="264.20" y2="571.40" stroke="#555" stroke-width="0.7" />
<line x1="270.30" y1="570.30" x2="270.30" y2="571.40" stroke="#555" stroke-width="0.7" />
<line x1="276.40" y1="570.30" x2="276.40" y2="571.40" stroke="#555" stroke-width="0.7" />
<line x1="282.50" y1="570.30" x2="282.50" y2="571.40" stroke="#555" stroke-width="0.7" />
<line x1="288.60" y1="570.30" x2="288.60" y2="572.10" stroke="#555" stroke-width="0.7" />
<line x1="294.70" y1="570.30" x2="294.70" y2="571.40" stroke="#555" stroke-width="0.7" />
<line x1="300.80" y1="570.30" x2="300.80" y2="571.40" stroke="#555" stroke-width="0.7" />
<line x1="306.90" y1="570.30" x2="306.90" y2="571.40" stroke="#555" stroke-width="0.7" />
<line x1="313.00" y1="570.30" x2="313.00" y2="571.40" stroke="#555" stroke-width="0.7" />
<line x1="319.10" y1="570.30" x2="319.10" y2="572.10" stroke="#555" stroke-width="0.7" />
<line x1="325.20" y1="570.30" x2="325.20" y2="571.40" stroke="#555" stroke-width="0.7" />
<line x1="331.30" y1="570.30" x2="331.30" y2="571.40" stroke="#555" stroke-width="0.7" />
<line x1="337.40" y1="570.30" x2="337.40" y2="571.40" stroke="#555" stroke-width="0.7" />
<text x="198.30" y="581.30" font-size="8.4" text-anchor="middle" font-family="Liberation Serif, serif" textLength="4.1" lengthAdjust="spacingAndGlyphs" >0</text>
<text x="226.30" y="581.30" font-size="8.4" text-anchor="middle" font-family="Liberation Serif, serif" textLength="8.2" lengthAdjust="spacingAndGlyphs" >50</text>
<text x="258.00" y="581.30" font-size="8.4" text-anchor="middle" font-family="Liberation Serif, serif" textLength="12.299999999999999" lengthAdjust="spacingAndGlyphs" >100</text>
<text x="287.90" y="581.30" font-size="8.4" text-anchor="middle" font-family="Liberation Serif, serif" textLength="12.299999999999999" lengthAdjust="spacingAndGlyphs" >150</text>
<text x="317.50" y="581.30" font-size="8.4" text-anchor="middle" font-family="Liberation Serif, serif" textLength="12.299999999999999" lengthAdjust="spacingAndGlyphs" >200</text>
<text transform="translate(176.00,504.40) rotate(-90)" x="0" y="0" font-size="8.5" text-anchor="middle" font-family="Liberation Serif, serif" textLength="53.5" lengthAdjust="spacingAndGlyphs" >cell number(%)</text>
<text x="235.60" y="590.30" font-size="8.6" text-anchor="start" font-family="Liberation Serif, serif" textLength="75" lengthAdjust="spacingAndGlyphs" >channel(BL2-APE-A)</text>
<text x="265.00" y="459.80" font-size="8.6" text-anchor="start" font-family="Liberation Serif, serif" textLength="51.0" lengthAdjust="spacingAndGlyphs" >G0/G1:69.49%</text>
<text x="265.00" y="467.30" font-size="8.6" text-anchor="start" font-family="Liberation Serif, serif" textLength="46.75" lengthAdjust="spacingAndGlyphs" >G2/M:10.31%</text>
<text x="265.00" y="475.60" font-size="8.6" text-anchor="start" font-family="Liberation Serif, serif" textLength="34.0" lengthAdjust="spacingAndGlyphs" >S:20.19%</text>
<polygon points="237.24,570.30 237.24,570.30 237.74,570.30 238.24,570.30 238.74,570.30 239.24,570.30 239.74,570.30 240.24,570.30 240.74,570.30 241.24,570.30 241.74,570.30 242.24,570.30 242.74,570.30 243.24,570.30 243.74,570.30 244.24,570.30 244.74,570.30 245.24,570.30 245.74,570.30 246.24,570.30 246.74,569.99 247.24,569.92 247.74,569.85 248.24,569.76 248.74,569.65 249.24,569.52 249.74,569.38 250.24,569.21 250.74,569.02 251.24,568.81 251.74,568.57 252.24,568.31 252.74,568.04 253.24,567.75 253.74,567.46 254.24,567.16 254.74,566.86 255.24,566.57 255.74,566.30 256.24,566.04 256.74,565.80 257.24,565.59 257.74,565.40 258.24,565.23 258.74,565.08 259.24,564.96 259.74,564.85 260.24,564.76 260.74,564.68 261.24,564.61 261.74,564.56 262.24,564.51 262.74,564.48 263.24,564.45 263.74,564.42 264.24,564.40 264.74,564.38 265.24,564.37 265.74,564.35 266.24,564.34 266.74,564.34 267.24,564.33 267.74,564.32 268.24,564.32 268.74,564.32 269.24,564.31 269.74,564.31 270.24,564.31 270.74,564.31 271.24,564.31 271.74,564.31 272.24,564.31 272.74,564.31 273.24,564.31 273.74,564.31 274.24,564.31 274.74,564.31 275.24,564.31 275.74,564.31 276.24,564.31 276.74,564.31 277.24,564.32 277.74,564.32 278.24,564.32 278.74,564.33 279.24,564.34 279.74,564.34 280.24,564.35 280.74,564.37 281.24,564.38 281.74,564.40 282.24,564.42 282.74,564.44 283.24,564.48 283.74,564.51 284.24,564.56 284.74,564.61 285.24,564.68 285.74,564.75 286.24,564.84 286.74,564.95 287.24,565.08 287.74,565.22 288.24,565.39 288.74,565.58 289.24,565.79 289.74,566.03 290.24,566.29 290.74,566.56 291.24,566.85 291.74,567.14 292.24,567.44 292.74,567.74 293.24,568.03 293.74,568.30 294.24,568.56 294.74,568.80 295.24,569.01 295.74,569.20 296.24,569.37 296.74,569.52 297.24,569.64 297.74,569.75 298.24,569.84 298.74,569.92 299.24,569.99 299.74,570.30 300.24,570.30 300.74,570.30 301.24,570.30 301.74,570.30 302.24,570.30 302.74,570.30 303.24,570.30 303.74,570.30 304.24,570.30 304.74,570.30 305.24,570.30 305.74,570.30 306.24,570.30 306.74,570.30 307.24,570.30 307.74,570.30 308.24,570.30 308.74,570.30 309.24,570.30 309.74,570.30 310.24,570.30 310.74,570.30 311.24,570.30 311.74,570.30 312.24,570.30 312.74,570.30 313.24,570.30 313.74,570.30 314.24,570.30 314.74,570.30 315.24,570.30 315.74,570.30 316.24,570.30 316.74,570.30 317.24,570.30 317.74,570.30 318.24,570.30 318.74,570.30 319.24,570.30 319.74,570.30 320.24,570.30 320.70,570.30" fill="url(#hatch)" stroke="#222" stroke-width="0.6" />
<polygon points="284.30,570.26 284.70,570.25 285.10,570.23 285.50,570.21 285.90,570.19 286.30,570.16 286.70,570.13 287.10,570.09 287.50,570.04 287.90,569.98 288.30,569.91 288.70,569.83 289.10,569.73 289.50,569.62 289.90,569.50 290.30,569.35 290.70,569.19 291.10,569.01 291.50,568.81 291.90,568.59 292.30,568.35 292.70,568.10 293.10,567.82 293.50,567.52 293.90,567.21 294.30,566.89 294.70,566.56 295.10,566.22 295.50,565.88 295.90,565.55 296.30,565.22 296.70,564.90 297.10,564.60 297.50,564.32 297.90,564.06 298.30,563.84 298.70,563.65 299.10,563.50 299.50,563.39 299.90,563.32 300.30,563.30 300.70,563.32 301.10,563.36 301.50,563.44 301.90,563.54 302.30,563.68 302.70,563.84 303.10,564.02 303.50,564.23 303.90,564.45 304.30,564.69 304.70,564.95 305.10,565.22 305.50,565.49 305.90,565.77 306.30,566.05 306.70,566.34 307.10,566.62 307.50,566.89 307.90,567.16 308.30,567.42 308.70,567.67 309.10,567.91 309.50,568.14 309.90,568.35 310.30,568.55 310.70,568.74 311.10,568.91 311.50,569.07 311.90,569.22 312.30,569.35 312.70,569.47 313.10,569.58 313.50,569.68 313.90,569.76 314.30,569.84 314.70,569.91 315.10,569.97 315.50,570.02 315.90,570.06 316.30,570.10 316.70,570.13 317.10,570.16 317.50,570.19 317.90,570.21 318.30,570.22 318.70,570.24 319.10,570.25 319.50,570.26" fill="#ee1111" stroke="#111" stroke-width="0.6" />
<polygon points="237.58,569.84 237.83,569.71 238.08,569.55 238.33,569.36 238.58,569.13 238.83,568.84 239.08,568.49 239.33,568.08 239.58,567.58 239.83,566.99 240.08,566.29 240.33,565.47 240.58,564.52 240.83,563.41 241.08,562.14 241.33,560.68 241.58,559.02 241.83,557.15 242.08,555.05 242.33,552.72 242.58,550.13 242.83,547.29 243.08,544.19 243.33,540.83 243.58,537.22 243.83,533.37 244.08,529.29 244.33,525.00 244.58,520.54 244.83,515.93 245.08,511.22 245.33,506.44 245.58,501.65 245.83,496.90 246.08,492.24 246.33,487.73 246.58,483.44 246.83,479.41 247.08,475.71 247.33,472.39 247.58,469.50 247.83,467.09 248.08,465.18 248.33,463.82 248.58,463.02 248.83,462.80 249.08,463.05 249.33,463.69 249.58,464.73 249.83,466.14 250.08,467.91 250.33,470.03 250.58,472.47 250.83,475.20 251.08,478.20 251.33,481.44 251.58,484.88 251.83,488.49 252.08,492.24 252.33,496.09 252.58,500.02 252.83,503.98 253.08,507.96 253.33,511.91 253.58,515.82 253.83,519.65 254.08,523.39 254.33,527.01 254.58,530.50 254.83,533.85 255.08,537.04 255.33,540.06 255.58,542.91 255.83,545.58 256.08,548.08 256.33,550.40 256.58,552.54 256.83,554.51 257.08,556.31 257.33,557.95 257.58,559.45 257.83,560.79 258.08,562.00 258.33,563.09 258.58,564.05 258.83,564.91 259.08,565.66 259.33,566.33 259.58,566.91 259.83,567.42 260.08,567.86 260.33,568.24 260.58,568.57 260.83,568.85 261.08,569.09 261.33,569.29 261.58,569.47 261.83,569.61 262.08,569.73 262.33,569.84" fill="#ee1111" stroke="#111" stroke-width="0.7" />
<polygon points="237.58,570.30 237.58,570.30 237.98,570.30 238.38,570.30 238.78,570.30 239.18,570.30 239.58,570.30 239.98,570.30 240.38,570.30 240.78,570.30 241.18,570.30 241.58,570.30 241.98,570.30 242.38,570.30 242.78,570.30 243.18,570.30 243.58,570.30 243.98,570.30 244.38,570.30 244.78,570.30 245.18,570.30 245.58,570.30 245.98,570.30 246.38,570.30 246.78,569.98 247.18,569.93 247.58,569.87 247.98,569.80 248.38,569.73 248.78,569.64 249.18,569.54 249.58,569.43 249.98,569.30 250.38,569.16 250.78,569.00 251.18,568.83 251.58,568.65 251.98,568.45 252.38,568.24 252.78,568.02 253.18,567.79 253.58,567.55 253.98,567.31 254.38,567.07 254.78,566.84 255.18,566.60 255.58,566.38 255.98,566.17 256.38,565.97 256.78,565.78 257.18,565.61 257.58,565.46 257.98,565.31 258.38,565.19 258.78,565.07 259.18,565.94 259.58,566.91 259.98,567.69 260.38,568.31 260.78,568.80 261.18,569.17 261.58,569.47 261.98,569.69 262.33,570.30" fill="#b80018" stroke="none" stroke-width="0" />
<polyline points="242.00,570.30 242.50,570.30 243.00,570.30 243.50,570.30 244.00,570.30 244.50,570.30 245.00,570.30 245.50,570.30 246.00,570.30 246.50,570.02 247.00,569.96 247.50,569.89 248.00,569.80 248.50,569.70 249.00,569.58 249.50,569.45 250.00,569.29 250.50,569.11 251.00,568.91 251.50,568.69 252.00,568.44 252.50,568.17 253.00,567.89 253.50,567.60 254.00,567.30 254.50,567.00 255.00,566.71 255.50,566.43 256.00,566.16 256.50,565.91 257.00,565.69 257.50,565.49 258.00,565.31 258.50,565.15 259.00,565.02 259.50,564.90 260.00,564.80 260.50,564.71 261.00,564.64 261.50,564.58 262.00,564.54 262.50,564.49 263.00,564.46 263.50,564.43 264.00,564.41 264.50,564.39 265.00,564.37 265.50,564.36 266.00,564.35 266.50,564.34 267.00,564.33 267.50,564.33 268.00,564.32 268.50,564.32 269.00,564.32 269.50,564.31 270.00,564.31 270.50,564.31 271.00,564.31 271.50,564.31 272.00,564.31 272.50,564.31 273.00,564.31 273.50,564.31 274.00,564.31 274.50,564.31 275.00,564.31 275.50,564.31 276.00,564.31 276.50,564.31 277.00,564.32 277.50,564.32 278.00,564.32 278.50,564.33 279.00,564.33 279.50,564.34 280.00,564.35 280.50,564.36 281.00,564.37 281.50,564.39 282.00,564.41 282.50,564.43 283.00,564.46 283.50,564.49 284.00,564.54 284.50,564.58 285.00,564.64 285.50,564.71 286.00,564.80 286.50,564.90 287.00,565.02 287.50,565.15 288.00,565.31 288.50,565.49 289.00,565.69 289.50,565.91 290.00,566.16 290.50,566.43 291.00,566.71 291.50,567.00 292.00,567.30 292.50,567.60 293.00,567.89 293.50,568.17 294.00,568.44 294.50,568.69 295.00,568.91 295.50,569.11 296.00,569.29 296.50,569.45 297.00,569.58 297.50,569.70 298.00,569.80 298.50,569.89 299.00,569.96 299.50,570.02 300.00,570.30 300.50,570.30 301.00,570.30 301.50,570.30 302.00,570.30 302.50,570.30 303.00,570.30 303.50,570.30 304.00,570.30 304.50,570.30 305.00,570.30 305.50,570.30 306.00,570.30 306.50,570.30 307.00,570.30 307.50,570.30 308.00,570.30 308.50,570.30 309.00,570.30 309.50,570.30 310.00,570.30 310.50,570.30 311.00,570.30 311.50,570.30 312.00,570.30 312.50,570.30 313.00,570.30 313.50,570.30 314.00,570.30 314.50,570.30 315.00,570.30 315.50,570.30 316.00,570.30 316.50,570.30 317.00,570.30 317.50,570.30 318.00,570.30 318.50,570.30 319.00,570.30 319.50,570.30 320.00,570.30 320.50,570.30" fill="none" stroke="#222" stroke-width="0.7" />
<polyline points="237.24,569.97 237.64,569.81 238.04,569.58 238.44,569.26 238.84,568.83 239.24,568.24 239.64,567.45 240.04,566.41 240.44,565.07 240.84,563.36 241.24,561.23 241.64,558.59 242.04,555.41 242.44,551.61 242.84,547.17 243.24,542.07 243.64,536.32 244.04,529.95 244.44,523.06 244.84,515.74 245.24,508.16 245.64,500.50 246.04,492.98 246.44,485.81 246.84,478.93 247.24,473.16 247.64,468.44 248.04,464.95 248.44,462.82 248.84,462.13 249.24,462.64 249.64,464.14 250.04,466.58 250.44,469.90 250.84,473.99 251.24,478.75 251.64,484.05 252.04,489.75 252.44,495.72 252.84,501.83 253.24,507.95 253.64,513.96 254.04,519.77 254.44,525.30 254.84,530.48 255.24,535.26 255.64,539.62 256.04,543.53 256.44,547.00 256.84,550.04 257.24,552.67 257.64,554.92 258.04,556.81 258.44,558.39 258.84,559.70 259.24,560.75 259.64,561.61 260.04,562.28 260.44,562.81 260.84,563.22 261.24,563.54 261.64,563.77 262.04,563.95 262.44,564.07 262.84,564.16 263.24,564.23 263.64,564.27 264.04,564.30 264.44,564.32 264.84,564.33 265.24,564.33 265.64,564.33 266.04,564.33 266.44,564.33 266.84,564.33 267.24,564.33 267.64,564.32 268.04,564.32 268.44,564.32 268.84,564.32 269.24,564.31 269.64,564.31 270.04,564.31 270.44,564.31 270.84,564.31 271.24,564.31 271.64,564.31 272.04,564.31 272.44,564.31 272.84,564.31 273.24,564.31 273.64,564.31 274.04,564.31 274.44,564.31 274.84,564.31 275.24,564.31 275.64,564.31 276.04,564.31 276.44,564.31 276.84,564.31 277.24,564.32 277.64,564.32 278.04,564.32 278.44,564.33 278.84,564.33 279.24,564.34 279.64,564.34 280.04,564.35 280.44,564.36 280.84,564.36 281.24,564.38 281.64,564.39 282.04,564.40 282.44,564.42 282.84,564.43 283.24,564.45 283.64,564.48 284.04,564.50 284.44,564.53 284.84,564.57 285.24,564.60 285.64,564.64 286.04,564.69 286.44,564.74 286.84,564.79 287.24,564.85 287.64,564.91 288.04,564.98 288.44,565.04 288.84,565.12 289.24,565.19 289.64,565.26 290.04,565.33 290.44,565.39 290.84,565.45 291.24,565.49 291.64,565.52 292.04,565.54 292.44,565.53 292.84,565.50 293.24,565.45 293.64,565.37 294.04,565.26 294.44,565.14 294.84,564.99 295.24,564.82 295.64,564.63 296.04,564.44 296.44,564.24 296.84,564.03 297.24,563.84 297.64,563.65 298.04,563.49 298.44,563.34 298.84,563.23 299.24,563.14 299.64,563.36 300.04,563.31 300.44,563.30 300.84,563.33 301.24,563.39 301.64,563.47 302.04,563.59 302.44,563.73 302.84,563.90 303.24,564.09 303.64,564.30 304.04,564.54 304.44,564.78 304.84,565.04 305.24,565.31 305.64,565.59 306.04,565.87 306.44,566.15 306.84,566.44 307.24,566.71 307.64,566.99 308.04,567.25 308.44,567.51 308.84,567.76 309.24,567.99 309.64,568.22 310.04,568.43 310.44,568.62 310.84,568.80 311.24,568.97 311.64,569.13 312.04,569.27 312.44,569.40 312.84,569.51 313.24,569.62 313.64,569.71 314.04,569.79 314.44,569.86 314.84,569.93 315.24,569.98 315.64,570.03 316.04,570.08 316.44,570.11 316.84,570.14 317.24,570.17 317.64,570.19 318.04,570.21 318.44,570.23 318.84,570.24 319.24,570.25 319.64,570.26 320.04,570.27 320.44,570.27" fill="none" stroke="#111" stroke-width="0.9" />
<polyline points="237.24,569.97 237.84,569.70 238.44,569.26 239.04,568.55 239.64,567.45 240.24,565.78 240.84,563.36 241.44,559.98 242.04,555.41 242.64,549.47 243.24,542.06 243.84,533.15 244.44,522.77 245.04,510.91 245.64,497.50 246.24,482.97 246.84,468.85 247.44,458.68 248.04,454.27 248.64,455.15 249.24,459.06 249.84,463.91 250.44,469.52 251.04,473.80 251.64,480.04 252.24,487.92 252.84,498.87 253.44,507.87 254.04,514.12 254.64,522.19 255.24,526.41 255.84,533.19 256.44,539.06 257.04,543.98 257.64,547.49 258.24,553.47 258.84,554.82 259.44,558.52 260.04,556.66 260.64,562.35 261.24,559.67 261.84,564.22 262.44,561.76 263.04,563.93 263.64,563.87 264.24,561.86 264.84,566.09 265.44,565.95 266.04,561.71 266.64,563.76 267.24,565.86 267.84,561.38 268.44,564.32 269.04,564.31 269.64,564.31 270.24,564.31 270.84,564.31 271.44,564.31 272.04,564.31 272.64,564.31 273.24,564.31 273.84,564.31 274.44,564.31 275.04,564.31 275.64,564.31 276.24,564.31 276.84,564.31 277.44,564.32 278.04,564.32 278.64,564.33 279.24,564.34 279.84,564.34 280.44,562.54 281.04,565.48 281.64,564.40 282.24,565.43 282.84,564.83 283.44,563.77 284.04,565.39 284.64,563.52 285.24,565.77 285.84,565.29 286.44,562.92 287.04,564.17 287.64,563.78 288.24,562.68 288.84,562.44 289.44,561.91 290.04,562.12 290.64,558.50 291.24,556.40 291.84,555.13 292.44,555.10 293.04,555.28 293.64,554.68 294.24,553.32 294.84,553.55 295.44,556.02 296.04,556.38 296.64,556.89 297.24,557.41 297.84,557.38 298.44,559.41 299.04,561.90 299.64,560.10 300.24,562.03 300.84,562.19 301.44,563.64 302.04,563.29 302.64,563.78 303.24,562.79 303.84,565.51 304.44,564.33 305.04,566.04 305.64,564.65 306.24,567.38 306.84,566.97 307.44,567.15 308.04,566.52 308.64,568.95 309.24,567.89 309.84,569.09 310.44,569.13 311.04,568.72 311.64,567.27 312.24,569.33 312.84,569.51 313.44,569.66 314.04,569.79 314.64,569.90 315.24,569.98 315.84,570.06 316.44,570.11 317.04,570.16 317.64,570.19 318.24,570.22 318.84,570.24 319.44,570.26 320.04,570.27 320.64,570.28 321.24,570.28 321.84,570.29 322.44,570.29 323.04,570.29 323.64,570.30" fill="none" stroke="#555" stroke-width="0.7" />
<polygon points="248.30,571.20 250.40,575.20 246.20,575.20" fill="#000" stroke="none" stroke-width="0" />
<polygon points="294.10,571.20 296.20,575.20 292.00,575.20" fill="#000" stroke="none" stroke-width="0" />
<line x1="359.10" y1="444.50" x2="359.10" y2="570.30" stroke="#333" stroke-width="1.0" />
<line x1="359.10" y1="570.30" x2="504.00" y2="570.30" stroke="#333" stroke-width="1.2" />
<line x1="358.00" y1="570.30" x2="359.10" y2="570.30" stroke="#555" stroke-width="0.7" />
<line x1="358.00" y1="564.68" x2="359.10" y2="564.68" stroke="#555" stroke-width="0.7" />
<line x1="358.00" y1="559.06" x2="359.10" y2="559.06" stroke="#555" stroke-width="0.7" />
<line x1="358.00" y1="553.44" x2="359.10" y2="553.44" stroke="#555" stroke-width="0.7" />
<line x1="358.00" y1="547.82" x2="359.10" y2="547.82" stroke="#555" stroke-width="0.7" />
<line x1="358.00" y1="542.20" x2="359.10" y2="542.20" stroke="#555" stroke-width="0.7" />
<line x1="358.00" y1="536.58" x2="359.10" y2="536.58" stroke="#555" stroke-width="0.7" />
<line x1="358.00" y1="530.96" x2="359.10" y2="530.96" stroke="#555" stroke-width="0.7" />
<line x1="358.00" y1="525.34" x2="359.10" y2="525.34" stroke="#555" stroke-width="0.7" />
<line x1="358.00" y1="519.72" x2="359.10" y2="519.72" stroke="#555" stroke-width="0.7" />
<line x1="358.00" y1="514.10" x2="359.10" y2="514.10" stroke="#555" stroke-width="0.7" />
<line x1="358.00" y1="508.48" x2="359.10" y2="508.48" stroke="#555" stroke-width="0.7" />
<line x1="358.00" y1="502.86" x2="359.10" y2="502.86" stroke="#555" stroke-width="0.7" />
<line x1="358.00" y1="497.24" x2="359.10" y2="497.24" stroke="#555" stroke-width="0.7" />
<line x1="358.00" y1="491.62" x2="359.10" y2="491.62" stroke="#555" stroke-width="0.7" />
<line x1="358.00" y1="486.00" x2="359.10" y2="486.00" stroke="#555" stroke-width="0.7" />
<line x1="358.00" y1="480.38" x2="359.10" y2="480.38" stroke="#555" stroke-width="0.7" />
<line x1="358.00" y1="474.76" x2="359.10" y2="474.76" stroke="#555" stroke-width="0.7" />
<line x1="358.00" y1="469.14" x2="359.10" y2="469.14" stroke="#555" stroke-width="0.7" />
<line x1="358.00" y1="463.52" x2="359.10" y2="463.52" stroke="#555" stroke-width="0.7" />
<line x1="358.00" y1="457.90" x2="359.10" y2="457.90" stroke="#555" stroke-width="0.7" />
<line x1="358.00" y1="452.28" x2="359.10" y2="452.28" stroke="#555" stroke-width="0.7" />
<line x1="358.00" y1="446.66" x2="359.10" y2="446.66" stroke="#555" stroke-width="0.7" />
<line x1="356.30" y1="570.30" x2="359.10" y2="570.30" stroke="#444" stroke-width="0.8" />
<text transform="translate(353.50,570.30) rotate(-90)" x="0" y="0" font-size="8.3" text-anchor="middle" font-family="Liberation Serif, serif" textLength="3.95" lengthAdjust="spacingAndGlyphs" >0</text>
<line x1="356.30" y1="542.20" x2="359.10" y2="542.20" stroke="#444" stroke-width="0.8" />
<text transform="translate(353.50,542.20) rotate(-90)" x="0" y="0" font-size="8.3" text-anchor="middle" font-family="Liberation Serif, serif" textLength="7.9" lengthAdjust="spacingAndGlyphs" >40</text>
<line x1="356.30" y1="514.10" x2="359.10" y2="514.10" stroke="#444" stroke-width="0.8" />
<text transform="translate(353.50,514.10) rotate(-90)" x="0" y="0" font-size="8.3" text-anchor="middle" font-family="Liberation Serif, serif" textLength="7.9" lengthAdjust="spacingAndGlyphs" >80</text>
<line x1="356.30" y1="486.00" x2="359.10" y2="486.00" stroke="#444" stroke-width="0.8" />
<text transform="translate(353.50,486.00) rotate(-90)" x="0" y="0" font-size="8.3" text-anchor="middle" font-family="Liberation Serif, serif" textLength="11.850000000000001" lengthAdjust="spacingAndGlyphs" >120</text>
<line x1="356.30" y1="457.90" x2="359.10" y2="457.90" stroke="#444" stroke-width="0.8" />
<text transform="translate(353.50,457.90) rotate(-90)" x="0" y="0" font-size="8.3" text-anchor="middle" font-family="Liberation Serif, serif" textLength="11.850000000000001" lengthAdjust="spacingAndGlyphs" >160</text>
<line x1="359.10" y1="570.30" x2="359.10" y2="572.10" stroke="#555" stroke-width="0.7" />
<line x1="365.20" y1="570.30" x2="365.20" y2="571.40" stroke="#555" stroke-width="0.7" />
<line x1="371.30" y1="570.30" x2="371.30" y2="571.40" stroke="#555" stroke-width="0.7" />
<line x1="377.40" y1="570.30" x2="377.40" y2="571.40" stroke="#555" stroke-width="0.7" />
<line x1="383.50" y1="570.30" x2="383.50" y2="571.40" stroke="#555" stroke-width="0.7" />
<line x1="389.60" y1="570.30" x2="389.60" y2="572.10" stroke="#555" stroke-width="0.7" />
<line x1="395.70" y1="570.30" x2="395.70" y2="571.40" stroke="#555" stroke-width="0.7" />
<line x1="401.80" y1="570.30" x2="401.80" y2="571.40" stroke="#555" stroke-width="0.7" />
<line x1="407.90" y1="570.30" x2="407.90" y2="571.40" stroke="#555" stroke-width="0.7" />
<line x1="414.00" y1="570.30" x2="414.00" y2="571.40" stroke="#555" stroke-width="0.7" />
<line x1="420.10" y1="570.30" x2="420.10" y2="572.10" stroke="#555" stroke-width="0.7" />
<line x1="426.20" y1="570.30" x2="426.20" y2="571.40" stroke="#555" stroke-width="0.7" />
<line x1="432.30" y1="570.30" x2="432.30" y2="571.40" stroke="#555" stroke-width="0.7" />
<line x1="438.40" y1="570.30" x2="438.40" y2="571.40" stroke="#555" stroke-width="0.7" />
<line x1="444.50" y1="570.30" x2="444.50" y2="571.40" stroke="#555" stroke-width="0.7" />
<line x1="450.60" y1="570.30" x2="450.60" y2="572.10" stroke="#555" stroke-width="0.7" />
<line x1="456.70" y1="570.30" x2="456.70" y2="571.40" stroke="#555" stroke-width="0.7" />
<line x1="462.80" y1="570.30" x2="462.80" y2="571.40" stroke="#555" stroke-width="0.7" />
<line x1="468.90" y1="570.30" x2="468.90" y2="571.40" stroke="#555" stroke-width="0.7" />
<line x1="475.00" y1="570.30" x2="475.00" y2="571.40" stroke="#555" stroke-width="0.7" />
<line x1="481.10" y1="570.30" x2="481.10" y2="572.10" stroke="#555" stroke-width="0.7" />
<line x1="487.20" y1="570.30" x2="487.20" y2="571.40" stroke="#555" stroke-width="0.7" />
<line x1="493.30" y1="570.30" x2="493.30" y2="571.40" stroke="#555" stroke-width="0.7" />
<line x1="499.40" y1="570.30" x2="499.40" y2="571.40" stroke="#555" stroke-width="0.7" />
<text x="361.40" y="581.30" font-size="8.4" text-anchor="middle" font-family="Liberation Serif, serif" textLength="4.1" lengthAdjust="spacingAndGlyphs" >0</text>
<text x="389.50" y="581.30" font-size="8.4" text-anchor="middle" font-family="Liberation Serif, serif" textLength="8.2" lengthAdjust="spacingAndGlyphs" >50</text>
<text x="418.70" y="581.30" font-size="8.4" text-anchor="middle" font-family="Liberation Serif, serif" textLength="12.299999999999999" lengthAdjust="spacingAndGlyphs" >100</text>
<text x="447.90" y="581.30" font-size="8.4" text-anchor="middle" font-family="Liberation Serif, serif" textLength="12.299999999999999" lengthAdjust="spacingAndGlyphs" >150</text>
<text x="479.40" y="581.30" font-size="8.4" text-anchor="middle" font-family="Liberation Serif, serif" textLength="12.299999999999999" lengthAdjust="spacingAndGlyphs" >200</text>
<text transform="translate(338.00,504.40) rotate(-90)" x="0" y="0" font-size="8.5" text-anchor="middle" font-family="Liberation Serif, serif" textLength="53.5" lengthAdjust="spacingAndGlyphs" >cell number(%)</text>
<text x="392.40" y="590.30" font-size="8.6" text-anchor="start" font-family="Liberation Serif, serif" textLength="75" lengthAdjust="spacingAndGlyphs" >channel(BL2-APE-A)</text>
<text x="423.60" y="460.60" font-size="8.6" text-anchor="start" font-family="Liberation Serif, serif" textLength="51.0" lengthAdjust="spacingAndGlyphs" >G0/G1:67.55%</text>
<text x="423.60" y="467.80" font-size="8.6" text-anchor="start" font-family="Liberation Serif, serif" textLength="42.5" lengthAdjust="spacingAndGlyphs" >G2/M:7.73%</text>
<text x="423.60" y="474.90" font-size="8.6" text-anchor="start" font-family="Liberation Serif, serif" textLength="34.0" lengthAdjust="spacingAndGlyphs" >S:24.72%</text>
<polygon points="397.80,570.30 397.80,570.30 398.30,570.30 398.80,570.30 399.30,570.30 399.80,570.30 400.30,570.30 400.80,570.30 401.30,570.30 401.80,570.30 402.30,570.30 402.80,570.30 403.30,570.30 403.80,570.30 404.30,570.30 404.80,570.30 405.30,570.30 405.80,570.30 406.30,570.30 406.80,570.30 407.30,570.30 407.80,570.30 408.30,570.30 408.80,570.30 409.30,570.30 409.80,570.30 410.30,570.30 410.80,569.93 411.30,569.85 411.80,569.76 412.30,569.65 412.80,569.52 413.30,569.37 413.80,569.20 414.30,569.00 414.80,568.78 415.30,568.53 415.80,568.25 416.30,567.95 416.80,567.62 417.30,567.29 417.80,566.94 418.30,566.59 418.80,566.24 419.30,565.91 419.80,565.59 420.30,565.29 420.80,565.02 421.30,564.78 421.80,564.56 422.30,564.36 422.80,564.20 423.30,564.05 423.80,563.93 424.30,563.82 424.80,563.73 425.30,563.66 425.80,563.60 426.30,563.54 426.80,563.50 427.30,563.47 427.80,563.44 428.30,563.41 428.80,563.39 429.30,563.38 429.80,563.36 430.30,563.35 430.80,563.34 431.30,563.33 431.80,563.33 432.30,563.32 432.80,563.32 433.30,563.32 433.80,563.31 434.30,563.31 434.80,563.31 435.30,563.31 435.80,563.31 436.30,563.31 436.80,563.31 437.30,563.30 437.80,563.30 438.30,563.30 438.80,563.30 439.30,563.31 439.80,563.31 440.30,563.31 440.80,563.31 441.30,563.31 441.80,563.31 442.30,563.31 442.80,563.32 443.30,563.32 443.80,563.32 444.30,563.33 444.80,563.34 445.30,563.34 445.80,563.35 446.30,563.36 446.80,563.38 447.30,563.40 447.80,563.42 448.30,563.44 448.80,563.47 449.30,563.51 449.80,563.55 450.30,563.61 450.80,563.67 451.30,563.75 451.80,563.84 452.30,563.95 452.80,564.08 453.30,564.23 453.80,564.40 454.30,564.60 454.80,564.82 455.30,565.07 455.80,565.35 456.30,565.65 456.80,565.98 457.30,566.31 457.80,566.66 458.30,567.01 458.80,567.36 459.30,567.69 459.80,568.01 460.30,568.31 460.80,568.58 461.30,568.82 461.80,569.04 462.30,569.24 462.80,569.40 463.30,569.55 463.80,569.67 464.30,569.78 464.80,569.87 465.30,569.94 465.80,570.30 466.30,570.30 466.80,570.30 467.30,570.30 467.80,570.30 468.30,570.30 468.80,570.30 469.30,570.30 469.80,570.30 470.30,570.30 470.80,570.30 471.30,570.30 471.80,570.30 472.30,570.30 472.80,570.30 473.30,570.30 473.80,570.30 474.30,570.30 474.80,570.30 475.30,570.30 475.80,570.30 476.30,570.30 476.80,570.30 477.30,570.30 477.80,570.30 478.30,570.30 478.80,570.30 479.30,570.30 479.80,570.30 480.30,570.30 480.80,570.30 481.30,570.30 481.80,570.30 482.30,570.30 482.80,570.30 483.30,570.30 483.80,570.30 484.30,570.30 484.80,570.30 485.30,570.30 485.80,570.30 486.30,570.30 486.80,570.30 486.80,570.30" fill="url(#hatch)" stroke="#222" stroke-width="0.6" />
<polygon points="442.20,570.27 442.60,570.27 443.00,570.26 443.40,570.25 443.80,570.24 444.20,570.23 444.60,570.22 445.00,570.20 445.40,570.18 445.80,570.16 446.20,570.14 446.60,570.11 447.00,570.08 447.40,570.04 447.80,570.00 448.20,569.96 448.60,569.90 449.00,569.85 449.40,569.78 449.80,569.71 450.20,569.64 450.60,569.55 451.00,569.46 451.40,569.36 451.80,569.26 452.20,569.14 452.60,569.02 453.00,568.89 453.40,568.75 453.80,568.61 454.20,568.46 454.60,568.30 455.00,568.14 455.40,567.98 455.80,567.81 456.20,567.64 456.60,567.47 457.00,567.30 457.40,567.13 457.80,566.96 458.20,566.80 458.60,566.64 459.00,566.49 459.40,566.35 459.80,566.22 460.20,566.11 460.60,566.00 461.00,565.91 461.40,565.84 461.80,565.78 462.20,565.73 462.60,565.71 463.00,565.70 463.40,565.71 463.80,565.73 464.20,565.77 464.60,565.82 465.00,565.88 465.40,565.96 465.80,566.05 466.20,566.16 466.60,566.27 467.00,566.39 467.40,566.52 467.80,566.66 468.20,566.81 468.60,566.96 469.00,567.11 469.40,567.27 469.80,567.43 470.20,567.59 470.60,567.75 471.00,567.91 471.40,568.06 471.80,568.21 472.20,568.36 472.60,568.50 473.00,568.64 473.40,568.77 473.80,568.90 474.20,569.02 474.60,569.13 475.00,569.24 475.40,569.34 475.80,569.44 476.20,569.52 476.60,569.60 477.00,569.68 477.40,569.75 477.80,569.81 478.20,569.86 478.60,569.92 479.00,569.96 479.40,570.00 479.80,570.04 480.20,570.08 480.60,570.11 481.00,570.13 481.40,570.15 481.80,570.18 482.20,570.19 482.60,570.21 483.00,570.22 483.40,570.23 483.80,570.24 484.20,570.25 484.60,570.26 485.00,570.27 485.40,570.27" fill="#ee1111" stroke="#111" stroke-width="0.6" />
<polygon points="398.20,569.92 398.45,569.83 398.70,569.73 398.95,569.61 399.20,569.46 399.45,569.29 399.70,569.08 399.95,568.84 400.20,568.55 400.45,568.22 400.70,567.84 400.95,567.40 401.20,566.89 401.45,566.31 401.70,565.65 401.95,564.90 402.20,564.05 402.45,563.10 402.70,562.04 402.95,560.85 403.20,559.54 403.45,558.09 403.70,556.50 403.95,554.77 404.20,552.88 404.45,550.85 404.70,548.66 404.95,546.32 405.20,543.83 405.45,541.19 405.70,538.42 405.95,535.52 406.20,532.50 406.45,529.38 406.70,526.18 406.95,522.91 407.20,519.59 407.45,516.26 407.70,512.93 407.95,509.63 408.20,506.40 408.45,503.25 408.70,500.23 408.95,497.35 409.20,494.65 409.45,492.16 409.70,489.90 409.95,487.90 410.20,486.17 410.45,484.75 410.70,483.64 410.95,482.86 411.20,482.41 411.45,482.31 411.70,482.50 411.95,482.98 412.20,483.74 412.45,484.77 412.70,486.06 412.95,487.59 413.20,489.36 413.45,491.35 413.70,493.54 413.95,495.90 414.20,498.43 414.45,501.09 414.70,503.87 414.95,506.75 415.20,509.69 415.45,512.69 415.70,515.71 415.95,518.74 416.20,521.76 416.45,524.76 416.70,527.70 416.95,530.58 417.20,533.39 417.45,536.11 417.70,538.73 417.95,541.24 418.20,543.64 418.45,545.92 418.70,548.08 418.95,550.11 419.20,552.02 419.45,553.79 419.70,555.45 419.95,556.98 420.20,558.39 420.45,559.69 420.70,560.87 420.95,561.95 421.20,562.93 421.45,563.82 421.70,564.62 421.95,565.33 422.20,565.97 422.45,566.54 422.70,567.05 422.95,567.49 423.20,567.89 423.45,568.23 423.70,568.53 423.95,568.79 424.20,569.02 424.45,569.22 424.70,569.39 424.95,569.53 425.20,569.66 425.45,569.76 425.70,569.85" fill="#ee1111" stroke="#111" stroke-width="0.7" />
<polygon points="398.20,570.30 398.20,570.30 398.60,570.30 399.00,570.30 399.40,570.30 399.80,570.30 400.20,570.30 400.60,570.30 401.00,570.30 401.40,570.30 401.80,570.30 402.20,570.30 402.60,570.30 403.00,570.30 403.40,570.30 403.80,570.30 404.20,570.30 404.60,570.30 405.00,570.30 405.40,570.30 405.80,570.30 406.20,570.30 406.60,570.30 407.00,570.30 407.40,570.30 407.80,570.30 408.20,570.30 408.60,570.30 409.00,570.30 409.40,570.30 409.80,570.30 410.20,570.30 410.60,569.96 411.00,569.90 411.40,569.83 411.80,569.76 412.20,569.67 412.60,569.58 413.00,569.47 413.40,569.34 413.80,569.20 414.20,569.04 414.60,568.87 415.00,568.68 415.40,568.47 415.80,568.25 416.20,568.01 416.60,567.76 417.00,567.49 417.40,567.22 417.80,566.94 418.20,566.66 418.60,566.38 419.00,566.11 419.40,565.84 419.80,565.59 420.20,565.35 420.60,565.13 421.00,564.92 421.40,564.73 421.80,564.91 422.20,565.97 422.60,566.85 423.00,567.58 423.40,568.17 423.80,568.64 424.20,569.02 424.60,569.32 425.00,569.56 425.40,569.74 425.80,569.88 425.92,570.30" fill="#b80018" stroke="none" stroke-width="0" />
<polyline points="403.40,570.30 403.90,570.30 404.40,570.30 404.90,570.30 405.40,570.30 405.90,570.30 406.40,570.30 406.90,570.30 407.40,570.30 407.90,570.30 408.40,570.30 408.90,570.30 409.40,570.30 409.90,570.30 410.40,570.30 410.90,569.91 411.40,569.83 411.90,569.74 412.40,569.63 412.90,569.49 413.40,569.34 413.90,569.16 414.40,568.96 414.90,568.73 415.40,568.47 415.90,568.19 416.40,567.88 416.90,567.56 417.40,567.22 417.90,566.87 418.40,566.52 418.90,566.18 419.40,565.84 419.90,565.53 420.40,565.24 420.90,564.97 421.40,564.73 421.90,564.52 422.40,564.33 422.90,564.16 423.40,564.02 423.90,563.90 424.40,563.80 424.90,563.72 425.40,563.64 425.90,563.58 426.40,563.54 426.90,563.49 427.40,563.46 427.90,563.43 428.40,563.41 428.90,563.39 429.40,563.37 429.90,563.36 430.40,563.35 430.90,563.34 431.40,563.33 431.90,563.33 432.40,563.32 432.90,563.32 433.40,563.32 433.90,563.31 434.40,563.31 434.90,563.31 435.40,563.31 435.90,563.31 436.40,563.31 436.90,563.31 437.40,563.30 437.90,563.30 438.40,563.30 438.90,563.31 439.40,563.31 439.90,563.31 440.40,563.31 440.90,563.31 441.40,563.31 441.90,563.31 442.40,563.31 442.90,563.32 443.40,563.32 443.90,563.33 444.40,563.33 444.90,563.34 445.40,563.35 445.90,563.36 446.40,563.37 446.90,563.38 447.40,563.40 447.90,563.42 448.40,563.45 448.90,563.48 449.40,563.52 449.90,563.56 450.40,563.62 450.90,563.69 451.40,563.77 451.90,563.86 452.40,563.97 452.90,564.11 453.40,564.26 453.90,564.44 454.40,564.64 454.90,564.87 455.40,565.13 455.90,565.41 456.40,565.72 456.90,566.04 457.40,566.38 457.90,566.73 458.40,567.08 458.90,567.42 459.40,567.76 459.90,568.07 460.40,568.36 460.90,568.63 461.40,568.87 461.90,569.08 462.40,569.27 462.90,569.44 463.40,569.58 463.90,569.70 464.40,569.80 464.90,569.88 465.40,569.96 465.90,570.30 466.40,570.30 466.90,570.30 467.40,570.30 467.90,570.30 468.40,570.30 468.90,570.30 469.40,570.30 469.90,570.30 470.40,570.30 470.90,570.30 471.40,570.30 471.90,570.30 472.40,570.30 472.90,570.30 473.40,570.30 473.90,570.30 474.40,570.30 474.90,570.30 475.40,570.30 475.90,570.30 476.40,570.30 476.90,570.30 477.40,570.30 477.90,570.30 478.40,570.30 478.90,570.30 479.40,570.30 479.90,570.30 480.40,570.30 480.90,570.30 481.40,570.30 481.90,570.30 482.40,570.30 482.90,570.30 483.40,570.30 483.90,570.30 484.40,570.30 484.90,570.30 485.40,570.30 485.90,570.30 486.40,570.30" fill="none" stroke="#222" stroke-width="0.7" />
<polyline points="397.80,570.03 398.20,569.92 398.60,569.77 399.00,569.58 399.40,569.32 399.80,568.99 400.20,568.55 400.60,568.00 401.00,567.30 401.40,566.43 401.80,565.36 402.20,564.05 402.60,562.47 403.00,560.60 403.40,558.39 403.80,555.83 404.20,552.88 404.60,549.55 405.00,545.83 405.40,541.73 405.80,537.27 406.20,532.50 406.60,527.47 407.00,522.25 407.40,516.93 407.80,511.61 408.20,506.40 408.60,501.42 409.00,496.80 409.40,492.64 409.80,489.07 410.20,486.17 410.60,483.70 411.00,482.34 411.40,481.83 411.80,482.12 412.20,483.12 412.60,484.79 413.00,487.10 413.40,489.98 413.80,493.36 414.20,497.17 414.60,501.32 415.00,505.71 415.40,510.26 415.80,514.87 416.20,519.47 416.60,523.98 417.00,528.34 417.40,532.49 417.80,536.39 418.20,540.00 418.60,543.31 419.00,546.31 419.40,548.99 419.80,551.37 420.20,553.44 420.60,555.24 421.00,556.78 421.40,558.08 421.80,559.17 422.20,560.07 422.60,560.81 423.00,561.41 423.40,561.89 423.80,562.27 424.20,562.56 424.60,562.79 425.00,562.96 425.40,563.09 425.80,563.18 426.20,563.25 426.60,563.29 427.00,563.32 427.40,563.34 427.80,563.35 428.20,563.36 428.60,563.36 429.00,563.36 429.40,563.35 429.80,563.35 430.20,563.34 430.60,563.34 431.00,563.33 431.40,563.33 431.80,563.33 432.20,563.32 432.60,563.32 433.00,563.32 433.40,563.31 433.80,563.31 434.20,563.31 434.60,563.31 435.00,563.31 435.40,563.31 435.80,563.31 436.20,563.31 436.60,563.30 437.00,563.30 437.40,563.30 437.80,563.30 438.20,563.30 438.60,563.30 439.00,563.30 439.40,563.30 439.80,563.30 440.20,563.30 440.60,563.30 441.00,563.29 441.40,563.29 441.80,563.29 442.20,563.29 442.60,563.28 443.00,563.28 443.40,563.27 443.80,563.27 444.20,563.26 444.60,563.25 445.00,563.24 445.40,563.23 445.80,563.21 446.20,563.20 446.60,563.18 447.00,563.16 447.40,563.14 447.80,563.12 448.20,563.09 448.60,563.06 449.00,563.03 449.40,563.00 449.80,562.97 450.20,562.93 450.60,562.90 451.00,562.86 451.40,562.83 451.80,562.80 452.20,562.77 452.60,562.74 453.00,562.73 453.40,562.71 453.80,562.71 454.20,562.72 454.60,562.73 455.00,562.76 455.40,562.81 455.80,562.86 456.20,562.93 456.60,563.01 457.00,563.10 457.40,563.21 457.80,563.32 458.20,563.44 458.60,563.56 459.00,563.68 459.40,563.81 459.80,563.93 460.20,564.06 460.60,564.18 461.00,564.29 461.40,564.41 461.80,564.52 462.20,564.64 462.60,564.75 463.00,564.87 463.40,564.98 463.80,565.10 464.20,565.23 464.60,565.35 465.00,565.48 465.40,565.62 465.80,566.05 466.20,566.16 466.60,566.27 467.00,566.39 467.40,566.52 467.80,566.66 468.20,566.81 468.60,566.96 469.00,567.11 469.40,567.27 469.80,567.43 470.20,567.59 470.60,567.75 471.00,567.91 471.40,568.06 471.80,568.21 472.20,568.36 472.60,568.50 473.00,568.64 473.40,568.77 473.80,568.90 474.20,569.02 474.60,569.13 475.00,569.24 475.40,569.34 475.80,569.44 476.20,569.52 476.60,569.60 477.00,569.68 477.40,569.75 477.80,569.81 478.20,569.86 478.60,569.92 479.00,569.96 479.40,570.00 479.80,570.04 480.20,570.08 480.60,570.11 481.00,570.13 481.40,570.15 481.80,570.18 482.20,570.19 482.60,570.21 483.00,570.22 483.40,570.23 483.80,570.24 484.20,570.25 484.60,570.26 485.00,570.27 485.40,570.27 485.80,570.28 486.20,570.28 486.60,570.28" fill="none" stroke="#111" stroke-width="0.9" />
<polyline points="397.80,570.03 398.40,569.85 399.00,569.58 399.60,569.17 400.20,568.55 400.80,567.67 401.40,566.43 402.00,564.74 402.60,562.47 403.20,559.54 403.80,555.83 404.40,551.27 405.00,545.83 405.60,539.54 406.20,532.50 406.80,524.87 407.40,516.93 408.00,508.97 408.60,501.12 409.20,491.71 409.80,476.30 410.40,460.14 411.00,460.57 411.60,473.33 412.20,481.60 412.80,485.75 413.40,489.97 414.00,493.23 414.60,496.53 415.20,502.50 415.80,507.92 416.40,517.54 417.00,523.48 417.60,529.78 418.20,534.89 418.80,537.37 419.40,544.90 420.00,546.87 420.60,551.89 421.20,554.39 421.80,556.10 422.40,555.99 423.00,558.65 423.60,562.77 424.20,562.31 424.80,563.55 425.40,560.34 426.00,560.92 426.60,561.11 427.20,561.11 427.80,561.58 428.40,560.58 429.00,561.37 429.60,564.06 430.20,563.34 430.80,563.34 431.40,563.33 432.00,563.32 432.60,563.32 433.20,563.32 433.80,563.31 434.40,563.31 435.00,563.31 435.60,563.31 436.20,563.31 436.80,563.30 437.40,563.30 438.00,563.30 438.60,563.30 439.20,563.30 439.80,563.30 440.40,563.30 441.00,563.29 441.60,563.29 442.20,563.29 442.80,563.28 443.40,563.27 444.00,563.26 444.60,563.25 445.20,560.97 445.80,562.74 446.40,561.34 447.00,562.19 447.60,562.70 448.20,562.77 448.80,562.05 449.40,562.07 450.00,562.29 450.60,557.78 451.20,556.66 451.80,554.31 452.40,554.29 453.00,553.53 453.60,551.32 454.20,553.50 454.80,550.39 455.40,551.71 456.00,553.72 456.60,554.72 457.20,554.58 457.80,557.53 458.40,558.11 459.00,558.87 459.60,561.21 460.20,563.59 460.80,562.61 461.40,564.51 462.00,564.98 462.60,565.54 463.20,564.97 463.80,566.67 464.40,564.00 465.00,562.70 465.60,566.05 466.20,564.56 466.80,563.66 467.40,568.31 468.00,568.03 468.60,564.93 469.20,565.00 469.80,566.23 470.40,567.67 471.00,567.91 471.60,568.14 472.20,568.36 472.80,568.57 473.40,568.77 474.00,568.96 474.60,569.13 475.20,569.29 475.80,569.44 476.40,569.56 477.00,569.68 477.60,569.78 478.20,569.86 478.80,569.94 479.40,570.00 480.00,570.06 480.60,570.11 481.20,570.14 481.80,570.18 482.40,570.20 483.00,570.22 483.60,570.24 484.20,570.25 484.80,570.26 485.40,570.27 486.00,570.28 486.60,570.28 487.20,570.29 487.80,570.29 488.40,570.29 489.00,570.30 489.60,570.30" fill="none" stroke="#555" stroke-width="0.7" />
<polygon points="410.10,571.20 412.20,575.20 408.00,575.20" fill="#000" stroke="none" stroke-width="0" />
<polygon points="455.80,571.20 457.90,575.20 453.70,575.20" fill="#000" stroke="none" stroke-width="0" />
<text class="big" x="530.80" y="428.00" font-size="27.2" text-anchor="start" font-family="Liberation Serif, serif" >F</text>
<line x1="566.10" y1="459.00" x2="566.10" y2="569.50" stroke="#222" stroke-width="1.3" />
<line x1="566.10" y1="569.50" x2="765.30" y2="569.50" stroke="#666" stroke-width="1.5" />
<line x1="765.30" y1="569.50" x2="765.30" y2="571.70" stroke="#444" stroke-width="1" />
<line x1="566.10" y1="569.50" x2="567.90" y2="569.50" stroke="#222" stroke-width="1" />
<text x="563.90" y="572.30" font-size="8.2" text-anchor="end" font-family="Liberation Serif, serif" textLength="9.3" lengthAdjust="spacingAndGlyphs" >0%</text>
<line x1="566.10" y1="547.40" x2="567.90" y2="547.40" stroke="#222" stroke-width="1" />
<text x="563.90" y="550.20" font-size="8.2" text-anchor="end" font-family="Liberation Serif, serif" textLength="14.2" lengthAdjust="spacingAndGlyphs" >20%</text>
<line x1="566.10" y1="525.30" x2="567.90" y2="525.30" stroke="#222" stroke-width="1" />
<text x="563.90" y="528.10" font-size="8.2" text-anchor="end" font-family="Liberation Serif, serif" textLength="14.2" lengthAdjust="spacingAndGlyphs" >40%</text>
<line x1="566.10" y1="503.20" x2="567.90" y2="503.20" stroke="#222" stroke-width="1" />
<text x="563.90" y="506.00" font-size="8.2" text-anchor="end" font-family="Liberation Serif, serif" textLength="14.2" lengthAdjust="spacingAndGlyphs" >60%</text>
<line x1="566.10" y1="481.10" x2="567.90" y2="481.10" stroke="#222" stroke-width="1" />
<text x="563.90" y="483.90" font-size="8.2" text-anchor="end" font-family="Liberation Serif, serif" textLength="14.2" lengthAdjust="spacingAndGlyphs" >80%</text>
<line x1="566.10" y1="459.00" x2="567.90" y2="459.00" stroke="#222" stroke-width="1" />
<text x="563.90" y="461.80" font-size="8.2" text-anchor="end" font-family="Liberation Serif, serif" textLength="18.8" lengthAdjust="spacingAndGlyphs" >100%</text>
<text transform="translate(544.50,500.30) rotate(-90)" x="0" y="0" font-size="8.4" text-anchor="middle" font-family="Liberation Serif, serif" textLength="63.2" lengthAdjust="spacingAndGlyphs" >cell percentage(%)</text>
<rect x="579.30" y="489.61" width="11.20" height="79.89" fill="#4a8fd6" />
<line x1="584.90" y1="487.95" x2="584.90" y2="491.27" stroke="#444" stroke-width="0.9" />
<line x1="583.30" y1="487.95" x2="586.50" y2="487.95" stroke="#444" stroke-width="0.9" />
<line x1="583.30" y1="491.27" x2="586.50" y2="491.27" stroke="#444" stroke-width="0.9" />
<rect x="594.00" y="557.79" width="10.90" height="11.71" fill="#ef7d2f" />
<line x1="599.45" y1="554.47" x2="599.45" y2="561.10" stroke="#444" stroke-width="0.9" />
<line x1="597.85" y1="554.47" x2="601.05" y2="554.47" stroke="#444" stroke-width="0.9" />
<line x1="597.85" y1="561.10" x2="601.05" y2="561.10" stroke="#444" stroke-width="0.9" />
<rect x="608.30" y="552.04" width="11.10" height="17.46" fill="#84cc4c" />
<line x1="613.85" y1="548.17" x2="613.85" y2="555.91" stroke="#444" stroke-width="0.9" />
<line x1="612.25" y1="548.17" x2="615.45" y2="548.17" stroke="#444" stroke-width="0.9" />
<line x1="612.25" y1="555.91" x2="615.45" y2="555.91" stroke="#444" stroke-width="0.9" />
<rect x="645.00" y="496.24" width="11.20" height="73.26" fill="#4a8fd6" />
<line x1="650.60" y1="494.91" x2="650.60" y2="497.56" stroke="#444" stroke-width="0.9" />
<line x1="649.00" y1="494.91" x2="652.20" y2="494.91" stroke="#444" stroke-width="0.9" />
<line x1="649.00" y1="497.56" x2="652.20" y2="497.56" stroke="#444" stroke-width="0.9" />
<text x="650.60" y="494.51" font-size="8.2" text-anchor="middle" font-family="Liberation Serif, serif" >*</text>
<rect x="659.90" y="554.25" width="11.20" height="15.25" fill="#ef7d2f" />
<line x1="665.50" y1="549.83" x2="665.50" y2="558.67" stroke="#444" stroke-width="0.9" />
<line x1="663.90" y1="549.83" x2="667.10" y2="549.83" stroke="#444" stroke-width="0.9" />
<line x1="663.90" y1="558.67" x2="667.10" y2="558.67" stroke="#444" stroke-width="0.9" />
<rect x="674.30" y="548.28" width="11.30" height="21.22" fill="#84cc4c" />
<line x1="679.95" y1="545.85" x2="679.95" y2="550.72" stroke="#444" stroke-width="0.9" />
<line x1="678.35" y1="545.85" x2="681.55" y2="545.85" stroke="#444" stroke-width="0.9" />
<line x1="678.35" y1="550.72" x2="681.55" y2="550.72" stroke="#444" stroke-width="0.9" />
<text x="679.95" y="545.45" font-size="8.2" text-anchor="middle" font-family="Liberation Serif, serif" >*</text>
<rect x="711.10" y="498.78" width="11.50" height="70.72" fill="#4a8fd6" />
<line x1="716.85" y1="496.79" x2="716.85" y2="500.77" stroke="#444" stroke-width="0.9" />
<line x1="715.25" y1="496.79" x2="718.45" y2="496.79" stroke="#444" stroke-width="0.9" />
<line x1="715.25" y1="500.77" x2="718.45" y2="500.77" stroke="#444" stroke-width="0.9" />
<text x="716.85" y="496.39" font-size="8.2" text-anchor="middle" font-family="Liberation Serif, serif" >*</text>
<rect x="725.80" y="548.28" width="11.50" height="21.22" fill="#ef7d2f" />
<line x1="731.55" y1="545.19" x2="731.55" y2="551.38" stroke="#444" stroke-width="0.9" />
<line x1="729.95" y1="545.19" x2="733.15" y2="545.19" stroke="#444" stroke-width="0.9" />
<line x1="729.95" y1="551.38" x2="733.15" y2="551.38" stroke="#444" stroke-width="0.9" />
<text x="731.55" y="544.79" font-size="8.2" text-anchor="middle" font-family="Liberation Serif, serif" >*</text>
<rect x="740.90" y="540.11" width="11.30" height="29.39" fill="#84cc4c" />
<line x1="746.55" y1="537.90" x2="746.55" y2="542.32" stroke="#444" stroke-width="0.9" />
<line x1="744.95" y1="537.90" x2="748.15" y2="537.90" stroke="#444" stroke-width="0.9" />
<line x1="744.95" y1="542.32" x2="748.15" y2="542.32" stroke="#444" stroke-width="0.9" />
<text x="746.55" y="537.50" font-size="8.2" text-anchor="middle" font-family="Liberation Serif, serif" >**</text>
<text x="601.10" y="578.50" font-size="8.2" text-anchor="middle" font-family="Liberation Serif, serif" textLength="25.5" lengthAdjust="spacingAndGlyphs" >0mg/ml</text>
<text x="667.80" y="578.50" font-size="8.2" text-anchor="middle" font-family="Liberation Serif, serif" textLength="32.3" lengthAdjust="spacingAndGlyphs" >0.5mg/ml</text>
<text x="733.20" y="578.50" font-size="8.2" text-anchor="middle" font-family="Liberation Serif, serif" textLength="24.8" lengthAdjust="spacingAndGlyphs" >1mg/ml</text>
<text x="768.00" y="576.60" font-size="7.6" text-anchor="start" font-family="Liberation Sans, sans-serif" textLength="15.3" lengthAdjust="spacingAndGlyphs" >TAA</text>
<rect x="729.10" y="465.10" width="3.40" height="3.40" fill="#4a8fd6" />
<text x="735.90" y="469.10" font-size="6.6" text-anchor="start" font-family="Liberation Serif, serif" textLength="16.5" lengthAdjust="spacingAndGlyphs" >G0/G1</text>
<rect x="729.10" y="475.20" width="3.40" height="3.40" fill="#ef7d2f" />
<text x="735.90" y="479.20" font-size="6.6" text-anchor="start" font-family="Liberation Serif, serif" textLength="14.7" lengthAdjust="spacingAndGlyphs" >G2/M</text>
<rect x="729.10" y="486.00" width="3.40" height="3.40" fill="#84cc4c" />
<text x="735.90" y="490.00" font-size="6.6" text-anchor="start" font-family="Liberation Serif, serif" textLength="4.2" lengthAdjust="spacingAndGlyphs" >S</text>
</svg>
</body></html>
